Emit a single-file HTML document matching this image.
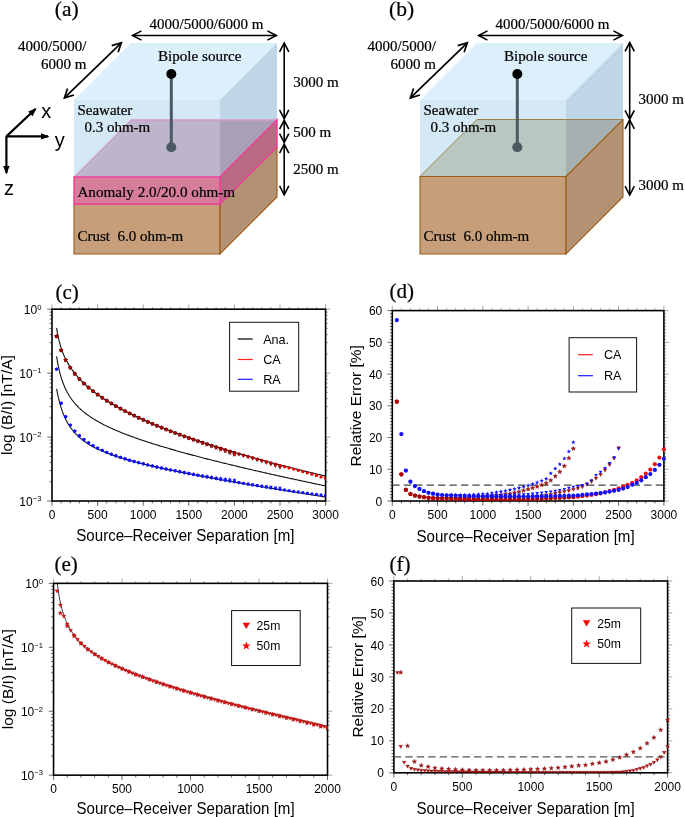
<!DOCTYPE html>
<html><head><meta charset="utf-8"><style>
html,body{margin:0;padding:0;background:#fff;}
svg{display:block;will-change:transform;} text.s{stroke:#000;stroke-width:0.22px;}
</style></head><body>
<svg width="685" height="817" viewBox="0 0 685 817">
<rect width="685" height="817" fill="#fff"/>
<polygon points="74.00,100.00 131.00,43.00 277.00,43.00 220.00,100.00" fill="#dcf0fb" stroke="none" stroke-width="0" />
<polygon points="74.00,100.00 220.00,100.00 220.00,176.90 74.00,176.90" fill="#d4e9f5" stroke="none" stroke-width="0" />
<polygon points="220.00,100.00 277.00,43.00 277.00,119.90 220.00,176.90" fill="#bed6e6" stroke="none" stroke-width="0" />
<polygon points="74.00,176.90 131.00,119.90 220.00,119.90 220.00,176.90" fill="#bdb5cb" stroke="none" stroke-width="0" />
<polygon points="220.00,119.90 277.00,119.90 220.00,176.90" fill="#a9a0b6" stroke="none" stroke-width="0" />
<line x1="131.00" y1="119.90" x2="277.00" y2="119.90" stroke="#de96cc" stroke-width="1.5" />
<line x1="74.00" y1="176.90" x2="131.00" y2="119.90" stroke="#e58ac0" stroke-width="1.0" />
<polygon points="74.00,204.00 220.00,204.00 220.00,254.00 74.00,254.00" fill="#c69e7a" stroke="#9c5c14" stroke-width="1.1" />
<polygon points="220.00,204.00 277.00,147.00 277.00,197.00 220.00,254.00" fill="#b39173" stroke="#9c5c14" stroke-width="1.1" />
<polygon points="74.00,176.90 220.00,176.90 220.00,204.00 74.00,204.00" fill="#d57d9a" stroke="#f0409a" stroke-width="1.5" />
<polygon points="220.00,176.90 277.00,119.90 277.00,147.00 220.00,204.00" fill="#b96b85" stroke="#f0409a" stroke-width="1.5" />
<line x1="171.30" y1="74.00" x2="171.30" y2="147.30" stroke="#4a5a62" stroke-width="3" />
<circle cx="171.30" cy="74" r="5" fill="#000"/>
<circle cx="171.30" cy="147.3" r="5" fill="#4a5a62"/>
<line x1="132.60" y1="35.50" x2="276.30" y2="35.50" stroke="#000" stroke-width="1.6" />
<polyline points="267.43,40.12 276.30,35.50 267.43,30.88" fill="none" stroke="#000" stroke-width="1.6" stroke-linejoin="miter"/>
<polyline points="141.47,30.88 132.60,35.50 141.47,40.12" fill="none" stroke="#000" stroke-width="1.6" stroke-linejoin="miter"/>
<line x1="64.40" y1="97.90" x2="121.30" y2="42.80" stroke="#000" stroke-width="1.7" />
<polyline points="118.14,52.29 121.30,42.80 111.72,45.65" fill="none" stroke="#000" stroke-width="1.7" stroke-linejoin="miter"/>
<polyline points="67.56,88.41 64.40,97.90 73.98,95.05" fill="none" stroke="#000" stroke-width="1.7" stroke-linejoin="miter"/>
<text class="s" x="54.80" y="15.50" font-family="Liberation Serif" font-size="21.5" text-anchor="start" >(a)</text>
<text class="s" x="206.50" y="29.00" font-family="Liberation Serif" font-size="15" text-anchor="middle" >4000/5000/6000 m</text>
<text class="s" x="86.40" y="50.50" font-family="Liberation Serif" font-size="15" text-anchor="end" >4000/5000/</text>
<text class="s" x="86.40" y="69.00" font-family="Liberation Serif" font-size="15" text-anchor="end" >6000 m</text>
<text class="s" x="158.00" y="61.00" font-family="Liberation Serif" font-size="15.1" text-anchor="start" >Bipole source</text>
<text class="s" x="77.40" y="115.00" font-family="Liberation Serif" font-size="15" text-anchor="start" >Seawater</text>
<text class="s" x="84.40" y="132.00" font-family="Liberation Serif" font-size="15" text-anchor="start" >0.3 ohm-m</text>
<text class="s" x="77.40" y="197.00" font-family="Liberation Serif" font-size="15.2" text-anchor="start" >Anomaly 2.0/20.0 ohm-m</text>
<text class="s" x="77.40" y="241.00" font-family="Liberation Serif" font-size="15" text-anchor="start" xml:space="preserve">Crust  6.0 ohm-m</text>
<polygon points="420.00,100.00 477.00,43.00 623.00,43.00 566.00,100.00" fill="#dcf0fb" stroke="none" stroke-width="0" />
<polygon points="420.00,100.00 566.00,100.00 566.00,176.50 420.00,176.50" fill="#d4e9f5" stroke="none" stroke-width="0" />
<polygon points="566.00,100.00 623.00,43.00 623.00,119.50 566.00,176.50" fill="#bed6e6" stroke="none" stroke-width="0" />
<polygon points="420.00,176.50 477.00,119.50 566.00,119.50 566.00,176.50" fill="#b9c7c1" stroke="none" stroke-width="0" />
<polygon points="566.00,119.50 623.00,119.50 566.00,176.50" fill="#a7b0b0" stroke="none" stroke-width="0" />
<line x1="477.00" y1="119.50" x2="623.00" y2="119.50" stroke="#a08050" stroke-width="1.0" />
<line x1="420.00" y1="176.50" x2="477.00" y2="119.50" stroke="#a08050" stroke-width="1.0" />
<polygon points="420.00,176.50 566.00,176.50 566.00,254.00 420.00,254.00" fill="#c69e7a" stroke="#9c5c14" stroke-width="1.1" />
<polygon points="566.00,176.50 623.00,119.50 623.00,197.00 566.00,254.00" fill="#b39173" stroke="#9c5c14" stroke-width="1.1" />
<line x1="517.30" y1="74.00" x2="517.30" y2="147.30" stroke="#4a5a62" stroke-width="3" />
<circle cx="517.30" cy="74" r="5" fill="#000"/>
<circle cx="517.30" cy="147.3" r="5" fill="#4a5a62"/>
<line x1="478.60" y1="35.50" x2="622.30" y2="35.50" stroke="#000" stroke-width="1.6" />
<polyline points="613.43,40.12 622.30,35.50 613.43,30.88" fill="none" stroke="#000" stroke-width="1.6" stroke-linejoin="miter"/>
<polyline points="487.47,30.88 478.60,35.50 487.47,40.12" fill="none" stroke="#000" stroke-width="1.6" stroke-linejoin="miter"/>
<line x1="410.40" y1="97.90" x2="467.30" y2="42.80" stroke="#000" stroke-width="1.7" />
<polyline points="464.14,52.29 467.30,42.80 457.72,45.65" fill="none" stroke="#000" stroke-width="1.7" stroke-linejoin="miter"/>
<polyline points="413.56,88.41 410.40,97.90 419.98,95.05" fill="none" stroke="#000" stroke-width="1.7" stroke-linejoin="miter"/>
<text class="s" x="389.00" y="15.50" font-family="Liberation Serif" font-size="21.5" text-anchor="start" >(b)</text>
<text class="s" x="552.50" y="29.00" font-family="Liberation Serif" font-size="15" text-anchor="middle" >4000/5000/6000 m</text>
<text class="s" x="435.89" y="50.50" font-family="Liberation Serif" font-size="15" text-anchor="end" >4000/5000/</text>
<text class="s" x="435.89" y="69.00" font-family="Liberation Serif" font-size="15" text-anchor="end" >6000 m</text>
<text class="s" x="504.00" y="61.00" font-family="Liberation Serif" font-size="15.1" text-anchor="start" >Bipole source</text>
<text class="s" x="423.40" y="115.00" font-family="Liberation Serif" font-size="15" text-anchor="start" >Seawater</text>
<text class="s" x="430.40" y="132.00" font-family="Liberation Serif" font-size="15" text-anchor="start" >0.3 ohm-m</text>
<text class="s" x="423.40" y="241.00" font-family="Liberation Serif" font-size="15" text-anchor="start" xml:space="preserve">Crust  6.0 ohm-m</text>
<line x1="284.20" y1="42.90" x2="284.20" y2="118.80" stroke="#000" stroke-width="1.6" />
<polyline points="279.58,109.93 284.20,118.80 288.82,109.93" fill="none" stroke="#000" stroke-width="1.6" stroke-linejoin="miter"/>
<polyline points="288.82,51.77 284.20,42.90 279.58,51.77" fill="none" stroke="#000" stroke-width="1.6" stroke-linejoin="miter"/>
<line x1="284.20" y1="120.30" x2="284.20" y2="142.40" stroke="#000" stroke-width="1.6" />
<polyline points="279.58,133.53 284.20,142.40 288.82,133.53" fill="none" stroke="#000" stroke-width="1.6" stroke-linejoin="miter"/>
<polyline points="288.82,129.17 284.20,120.30 279.58,129.17" fill="none" stroke="#000" stroke-width="1.6" stroke-linejoin="miter"/>
<line x1="284.20" y1="144.20" x2="284.20" y2="194.80" stroke="#000" stroke-width="1.6" />
<polyline points="279.58,185.93 284.20,194.80 288.82,185.93" fill="none" stroke="#000" stroke-width="1.6" stroke-linejoin="miter"/>
<polyline points="288.82,153.07 284.20,144.20 279.58,153.07" fill="none" stroke="#000" stroke-width="1.6" stroke-linejoin="miter"/>
<text class="s" x="293.30" y="87.00" font-family="Liberation Serif" font-size="15" text-anchor="start" >3000 m</text>
<text class="s" x="293.30" y="136.50" font-family="Liberation Serif" font-size="15" text-anchor="start" >500 m</text>
<text class="s" x="293.30" y="173.50" font-family="Liberation Serif" font-size="15" text-anchor="start" >2500 m</text>
<line x1="629.70" y1="42.60" x2="629.70" y2="119.20" stroke="#000" stroke-width="1.6" />
<polyline points="625.08,110.33 629.70,119.20 634.32,110.33" fill="none" stroke="#000" stroke-width="1.6" stroke-linejoin="miter"/>
<polyline points="634.32,51.47 629.70,42.60 625.08,51.47" fill="none" stroke="#000" stroke-width="1.6" stroke-linejoin="miter"/>
<line x1="629.70" y1="120.00" x2="629.70" y2="195.00" stroke="#000" stroke-width="1.6" />
<polyline points="625.08,186.13 629.70,195.00 634.32,186.13" fill="none" stroke="#000" stroke-width="1.6" stroke-linejoin="miter"/>
<polyline points="634.32,128.87 629.70,120.00 625.08,128.87" fill="none" stroke="#000" stroke-width="1.6" stroke-linejoin="miter"/>
<text class="s" x="638.60" y="104.30" font-family="Liberation Serif" font-size="15" text-anchor="start" >3000 m</text>
<text class="s" x="638.60" y="190.20" font-family="Liberation Serif" font-size="15" text-anchor="start" >3000 m</text>
<line x1="6.40" y1="136.40" x2="6.40" y2="137.00" stroke="#000" stroke-width="2.2" />
<line x1="6.40" y1="136.40" x2="35.50" y2="109.00" stroke="#000" stroke-width="2.2" />
<polygon points="36.59,107.97 32.60,116.13 28.21,111.47" fill="#000" stroke="none" stroke-width="0" />
<line x1="6.40" y1="136.40" x2="48.00" y2="136.40" stroke="#000" stroke-width="2.2" />
<polygon points="49.50,136.40 41.00,139.60 41.00,133.20" fill="#000" stroke="none" stroke-width="0" />
<line x1="6.40" y1="136.40" x2="6.40" y2="173.00" stroke="#000" stroke-width="2.2" />
<polygon points="6.40,174.50 3.20,166.00 9.60,166.00" fill="#000" stroke="none" stroke-width="0" />
<text x="46.30" y="118.20" font-family="Liberation Sans" font-size="20" text-anchor="middle" >x</text>
<text x="59.80" y="146.50" font-family="Liberation Sans" font-size="20" text-anchor="middle" >y</text>
<text x="9.00" y="195.00" font-family="Liberation Sans" font-size="20" text-anchor="middle" >z</text>
<line x1="52.00" y1="501.00" x2="52.00" y2="505.80" stroke="#333" stroke-width="0.75" />
<line x1="52.00" y1="309.20" x2="52.00" y2="304.40" stroke="#888" stroke-width="0.75" />
<line x1="61.12" y1="501.00" x2="61.12" y2="503.40" stroke="#333" stroke-width="0.75" />
<line x1="61.12" y1="309.20" x2="61.12" y2="306.80" stroke="#888" stroke-width="0.75" />
<line x1="70.24" y1="501.00" x2="70.24" y2="503.40" stroke="#333" stroke-width="0.75" />
<line x1="70.24" y1="309.20" x2="70.24" y2="306.80" stroke="#888" stroke-width="0.75" />
<line x1="79.36" y1="501.00" x2="79.36" y2="503.40" stroke="#333" stroke-width="0.75" />
<line x1="79.36" y1="309.20" x2="79.36" y2="306.80" stroke="#888" stroke-width="0.75" />
<line x1="88.48" y1="501.00" x2="88.48" y2="503.40" stroke="#333" stroke-width="0.75" />
<line x1="88.48" y1="309.20" x2="88.48" y2="306.80" stroke="#888" stroke-width="0.75" />
<line x1="97.60" y1="501.00" x2="97.60" y2="505.80" stroke="#333" stroke-width="0.75" />
<line x1="97.60" y1="309.20" x2="97.60" y2="304.40" stroke="#888" stroke-width="0.75" />
<line x1="106.72" y1="501.00" x2="106.72" y2="503.40" stroke="#333" stroke-width="0.75" />
<line x1="106.72" y1="309.20" x2="106.72" y2="306.80" stroke="#888" stroke-width="0.75" />
<line x1="115.84" y1="501.00" x2="115.84" y2="503.40" stroke="#333" stroke-width="0.75" />
<line x1="115.84" y1="309.20" x2="115.84" y2="306.80" stroke="#888" stroke-width="0.75" />
<line x1="124.96" y1="501.00" x2="124.96" y2="503.40" stroke="#333" stroke-width="0.75" />
<line x1="124.96" y1="309.20" x2="124.96" y2="306.80" stroke="#888" stroke-width="0.75" />
<line x1="134.08" y1="501.00" x2="134.08" y2="503.40" stroke="#333" stroke-width="0.75" />
<line x1="134.08" y1="309.20" x2="134.08" y2="306.80" stroke="#888" stroke-width="0.75" />
<line x1="143.20" y1="501.00" x2="143.20" y2="505.80" stroke="#333" stroke-width="0.75" />
<line x1="143.20" y1="309.20" x2="143.20" y2="304.40" stroke="#888" stroke-width="0.75" />
<line x1="152.32" y1="501.00" x2="152.32" y2="503.40" stroke="#333" stroke-width="0.75" />
<line x1="152.32" y1="309.20" x2="152.32" y2="306.80" stroke="#888" stroke-width="0.75" />
<line x1="161.44" y1="501.00" x2="161.44" y2="503.40" stroke="#333" stroke-width="0.75" />
<line x1="161.44" y1="309.20" x2="161.44" y2="306.80" stroke="#888" stroke-width="0.75" />
<line x1="170.56" y1="501.00" x2="170.56" y2="503.40" stroke="#333" stroke-width="0.75" />
<line x1="170.56" y1="309.20" x2="170.56" y2="306.80" stroke="#888" stroke-width="0.75" />
<line x1="179.68" y1="501.00" x2="179.68" y2="503.40" stroke="#333" stroke-width="0.75" />
<line x1="179.68" y1="309.20" x2="179.68" y2="306.80" stroke="#888" stroke-width="0.75" />
<line x1="188.80" y1="501.00" x2="188.80" y2="505.80" stroke="#333" stroke-width="0.75" />
<line x1="188.80" y1="309.20" x2="188.80" y2="304.40" stroke="#888" stroke-width="0.75" />
<line x1="197.92" y1="501.00" x2="197.92" y2="503.40" stroke="#333" stroke-width="0.75" />
<line x1="197.92" y1="309.20" x2="197.92" y2="306.80" stroke="#888" stroke-width="0.75" />
<line x1="207.04" y1="501.00" x2="207.04" y2="503.40" stroke="#333" stroke-width="0.75" />
<line x1="207.04" y1="309.20" x2="207.04" y2="306.80" stroke="#888" stroke-width="0.75" />
<line x1="216.16" y1="501.00" x2="216.16" y2="503.40" stroke="#333" stroke-width="0.75" />
<line x1="216.16" y1="309.20" x2="216.16" y2="306.80" stroke="#888" stroke-width="0.75" />
<line x1="225.28" y1="501.00" x2="225.28" y2="503.40" stroke="#333" stroke-width="0.75" />
<line x1="225.28" y1="309.20" x2="225.28" y2="306.80" stroke="#888" stroke-width="0.75" />
<line x1="234.40" y1="501.00" x2="234.40" y2="505.80" stroke="#333" stroke-width="0.75" />
<line x1="234.40" y1="309.20" x2="234.40" y2="304.40" stroke="#888" stroke-width="0.75" />
<line x1="243.52" y1="501.00" x2="243.52" y2="503.40" stroke="#333" stroke-width="0.75" />
<line x1="243.52" y1="309.20" x2="243.52" y2="306.80" stroke="#888" stroke-width="0.75" />
<line x1="252.64" y1="501.00" x2="252.64" y2="503.40" stroke="#333" stroke-width="0.75" />
<line x1="252.64" y1="309.20" x2="252.64" y2="306.80" stroke="#888" stroke-width="0.75" />
<line x1="261.76" y1="501.00" x2="261.76" y2="503.40" stroke="#333" stroke-width="0.75" />
<line x1="261.76" y1="309.20" x2="261.76" y2="306.80" stroke="#888" stroke-width="0.75" />
<line x1="270.88" y1="501.00" x2="270.88" y2="503.40" stroke="#333" stroke-width="0.75" />
<line x1="270.88" y1="309.20" x2="270.88" y2="306.80" stroke="#888" stroke-width="0.75" />
<line x1="280.00" y1="501.00" x2="280.00" y2="505.80" stroke="#333" stroke-width="0.75" />
<line x1="280.00" y1="309.20" x2="280.00" y2="304.40" stroke="#888" stroke-width="0.75" />
<line x1="289.12" y1="501.00" x2="289.12" y2="503.40" stroke="#333" stroke-width="0.75" />
<line x1="289.12" y1="309.20" x2="289.12" y2="306.80" stroke="#888" stroke-width="0.75" />
<line x1="298.24" y1="501.00" x2="298.24" y2="503.40" stroke="#333" stroke-width="0.75" />
<line x1="298.24" y1="309.20" x2="298.24" y2="306.80" stroke="#888" stroke-width="0.75" />
<line x1="307.36" y1="501.00" x2="307.36" y2="503.40" stroke="#333" stroke-width="0.75" />
<line x1="307.36" y1="309.20" x2="307.36" y2="306.80" stroke="#888" stroke-width="0.75" />
<line x1="316.48" y1="501.00" x2="316.48" y2="503.40" stroke="#333" stroke-width="0.75" />
<line x1="316.48" y1="309.20" x2="316.48" y2="306.80" stroke="#888" stroke-width="0.75" />
<line x1="325.60" y1="501.00" x2="325.60" y2="505.80" stroke="#333" stroke-width="0.75" />
<line x1="325.60" y1="309.20" x2="325.60" y2="304.40" stroke="#888" stroke-width="0.75" />
<line x1="52.00" y1="309.20" x2="47.20" y2="309.20" stroke="#333" stroke-width="0.75" />
<line x1="325.60" y1="309.20" x2="330.40" y2="309.20" stroke="#888" stroke-width="0.75" />
<line x1="52.00" y1="373.13" x2="47.20" y2="373.13" stroke="#333" stroke-width="0.75" />
<line x1="325.60" y1="373.13" x2="330.40" y2="373.13" stroke="#888" stroke-width="0.75" />
<line x1="52.00" y1="437.07" x2="47.20" y2="437.07" stroke="#333" stroke-width="0.75" />
<line x1="325.60" y1="437.07" x2="330.40" y2="437.07" stroke="#888" stroke-width="0.75" />
<line x1="52.00" y1="501.00" x2="47.20" y2="501.00" stroke="#333" stroke-width="0.75" />
<line x1="325.60" y1="501.00" x2="330.40" y2="501.00" stroke="#888" stroke-width="0.75" />
<line x1="52.00" y1="353.89" x2="49.60" y2="353.89" stroke="#333" stroke-width="0.75" />
<line x1="325.60" y1="353.89" x2="328.00" y2="353.89" stroke="#888" stroke-width="0.75" />
<line x1="52.00" y1="342.63" x2="49.60" y2="342.63" stroke="#333" stroke-width="0.75" />
<line x1="325.60" y1="342.63" x2="328.00" y2="342.63" stroke="#888" stroke-width="0.75" />
<line x1="52.00" y1="334.64" x2="49.60" y2="334.64" stroke="#333" stroke-width="0.75" />
<line x1="325.60" y1="334.64" x2="328.00" y2="334.64" stroke="#888" stroke-width="0.75" />
<line x1="52.00" y1="328.45" x2="49.60" y2="328.45" stroke="#333" stroke-width="0.75" />
<line x1="325.60" y1="328.45" x2="328.00" y2="328.45" stroke="#888" stroke-width="0.75" />
<line x1="52.00" y1="323.38" x2="49.60" y2="323.38" stroke="#333" stroke-width="0.75" />
<line x1="325.60" y1="323.38" x2="328.00" y2="323.38" stroke="#888" stroke-width="0.75" />
<line x1="52.00" y1="319.10" x2="49.60" y2="319.10" stroke="#333" stroke-width="0.75" />
<line x1="325.60" y1="319.10" x2="328.00" y2="319.10" stroke="#888" stroke-width="0.75" />
<line x1="52.00" y1="315.40" x2="49.60" y2="315.40" stroke="#333" stroke-width="0.75" />
<line x1="325.60" y1="315.40" x2="328.00" y2="315.40" stroke="#888" stroke-width="0.75" />
<line x1="52.00" y1="312.13" x2="49.60" y2="312.13" stroke="#333" stroke-width="0.75" />
<line x1="325.60" y1="312.13" x2="328.00" y2="312.13" stroke="#888" stroke-width="0.75" />
<line x1="52.00" y1="417.82" x2="49.60" y2="417.82" stroke="#333" stroke-width="0.75" />
<line x1="325.60" y1="417.82" x2="328.00" y2="417.82" stroke="#888" stroke-width="0.75" />
<line x1="52.00" y1="406.56" x2="49.60" y2="406.56" stroke="#333" stroke-width="0.75" />
<line x1="325.60" y1="406.56" x2="328.00" y2="406.56" stroke="#888" stroke-width="0.75" />
<line x1="52.00" y1="398.57" x2="49.60" y2="398.57" stroke="#333" stroke-width="0.75" />
<line x1="325.60" y1="398.57" x2="328.00" y2="398.57" stroke="#888" stroke-width="0.75" />
<line x1="52.00" y1="392.38" x2="49.60" y2="392.38" stroke="#333" stroke-width="0.75" />
<line x1="325.60" y1="392.38" x2="328.00" y2="392.38" stroke="#888" stroke-width="0.75" />
<line x1="52.00" y1="387.32" x2="49.60" y2="387.32" stroke="#333" stroke-width="0.75" />
<line x1="325.60" y1="387.32" x2="328.00" y2="387.32" stroke="#888" stroke-width="0.75" />
<line x1="52.00" y1="383.04" x2="49.60" y2="383.04" stroke="#333" stroke-width="0.75" />
<line x1="325.60" y1="383.04" x2="328.00" y2="383.04" stroke="#888" stroke-width="0.75" />
<line x1="52.00" y1="379.33" x2="49.60" y2="379.33" stroke="#333" stroke-width="0.75" />
<line x1="325.60" y1="379.33" x2="328.00" y2="379.33" stroke="#888" stroke-width="0.75" />
<line x1="52.00" y1="376.06" x2="49.60" y2="376.06" stroke="#333" stroke-width="0.75" />
<line x1="325.60" y1="376.06" x2="328.00" y2="376.06" stroke="#888" stroke-width="0.75" />
<line x1="52.00" y1="481.75" x2="49.60" y2="481.75" stroke="#333" stroke-width="0.75" />
<line x1="325.60" y1="481.75" x2="328.00" y2="481.75" stroke="#888" stroke-width="0.75" />
<line x1="52.00" y1="470.50" x2="49.60" y2="470.50" stroke="#333" stroke-width="0.75" />
<line x1="325.60" y1="470.50" x2="328.00" y2="470.50" stroke="#888" stroke-width="0.75" />
<line x1="52.00" y1="462.51" x2="49.60" y2="462.51" stroke="#333" stroke-width="0.75" />
<line x1="325.60" y1="462.51" x2="328.00" y2="462.51" stroke="#888" stroke-width="0.75" />
<line x1="52.00" y1="456.31" x2="49.60" y2="456.31" stroke="#333" stroke-width="0.75" />
<line x1="325.60" y1="456.31" x2="328.00" y2="456.31" stroke="#888" stroke-width="0.75" />
<line x1="52.00" y1="451.25" x2="49.60" y2="451.25" stroke="#333" stroke-width="0.75" />
<line x1="325.60" y1="451.25" x2="328.00" y2="451.25" stroke="#888" stroke-width="0.75" />
<line x1="52.00" y1="446.97" x2="49.60" y2="446.97" stroke="#333" stroke-width="0.75" />
<line x1="325.60" y1="446.97" x2="328.00" y2="446.97" stroke="#888" stroke-width="0.75" />
<line x1="52.00" y1="443.26" x2="49.60" y2="443.26" stroke="#333" stroke-width="0.75" />
<line x1="325.60" y1="443.26" x2="328.00" y2="443.26" stroke="#888" stroke-width="0.75" />
<line x1="52.00" y1="439.99" x2="49.60" y2="439.99" stroke="#333" stroke-width="0.75" />
<line x1="325.60" y1="439.99" x2="328.00" y2="439.99" stroke="#888" stroke-width="0.75" />
<rect x="52.00" y="309.20" width="273.60" height="191.80" fill="none" stroke="#000" stroke-width="1.6"/>
<text x="52.00" y="518.80" font-family="Liberation Sans" font-size="12" text-anchor="middle" >0</text>
<text x="97.60" y="518.80" font-family="Liberation Sans" font-size="12" text-anchor="middle" >500</text>
<text x="143.20" y="518.80" font-family="Liberation Sans" font-size="12" text-anchor="middle" >1000</text>
<text x="188.80" y="518.80" font-family="Liberation Sans" font-size="12" text-anchor="middle" >1500</text>
<text x="234.40" y="518.80" font-family="Liberation Sans" font-size="12" text-anchor="middle" >2000</text>
<text x="280.00" y="518.80" font-family="Liberation Sans" font-size="12" text-anchor="middle" >2500</text>
<text x="325.60" y="518.80" font-family="Liberation Sans" font-size="12" text-anchor="middle" >3000</text>
<text x="41.40" y="313.80" font-family="Liberation Sans" font-size="12" text-anchor="end">10<tspan font-size="7.6" dy="-4.3">0</tspan></text>
<text x="41.40" y="377.73" font-family="Liberation Sans" font-size="12" text-anchor="end">10<tspan font-size="7.6" dy="-4.3">−1</tspan></text>
<text x="41.40" y="441.67" font-family="Liberation Sans" font-size="12" text-anchor="end">10<tspan font-size="7.6" dy="-4.3">−2</tspan></text>
<text x="41.40" y="505.60" font-family="Liberation Sans" font-size="12" text-anchor="end">10<tspan font-size="7.6" dy="-4.3">−3</tspan></text>
<text font-family="Liberation Sans" font-size="15.6" transform="translate(76.30,541.40) scale(0.968,1)">Source–Receiver Separation [m]</text>
<text x="0" y="0" font-family="Liberation Sans" font-size="15.5" text-anchor="middle" transform="translate(11.80,405.10) rotate(-90)">log (B/I) [nT/A]</text>
<text class="s" x="55.50" y="298.50" font-family="Liberation Serif" font-size="21" text-anchor="start" >(c)</text>
<clipPath id="cc"><rect x="52.0" y="309.2" width="273.6" height="191.8"/></clipPath>
<g clip-path="url(#cc)">
<polyline points="56.56,327.79 57.46,333.19 58.36,337.65 59.26,341.45 60.16,344.76 61.06,347.70 61.96,350.33 62.86,352.73 63.76,354.93 64.66,356.96 65.56,358.85 66.46,360.62 67.36,362.29 68.26,363.86 69.16,365.36 70.06,366.78 70.96,368.14 71.86,369.44 72.76,370.69 73.66,371.89 74.56,373.04 75.46,374.16 76.36,375.24 77.26,376.29 78.16,377.31 79.05,378.29 79.95,379.25 80.85,380.19 81.75,381.10 82.65,381.98 83.55,382.85 84.45,383.70 85.35,384.53 86.25,385.34 87.15,386.14 88.05,386.92 88.95,387.68 89.85,388.43 90.75,389.17 91.65,389.89 92.55,390.61 93.45,391.31 94.35,391.99 95.25,392.67 96.15,393.34 97.05,394.00 97.95,394.65 98.85,395.29 99.75,395.92 100.65,396.54 101.55,397.15 102.45,397.76 103.35,398.35 104.25,398.94 105.15,399.53 106.05,400.10 106.95,400.67 107.85,401.24 108.75,401.79 109.65,402.34 110.55,402.89 111.45,403.43 112.35,403.96 113.25,404.49 114.15,405.01 115.05,405.53 115.95,406.04 116.85,406.55 117.75,407.06 118.65,407.55 119.55,408.05 120.45,408.54 121.35,409.02 122.25,409.50 123.15,409.98 124.04,410.45 124.94,410.92 125.84,411.39 126.74,411.85 127.64,412.31 128.54,412.76 129.44,413.22 130.34,413.66 131.24,414.11 132.14,414.55 133.04,414.99 133.94,415.42 134.84,415.85 135.74,416.28 136.64,416.71 137.54,417.13 138.44,417.55 139.34,417.97 140.24,418.38 141.14,418.80 142.04,419.20 142.94,419.61 143.84,420.02 144.74,420.42 145.64,420.82 146.54,421.21 147.44,421.61 148.34,422.00 149.24,422.39 150.14,422.78 151.04,423.16 151.94,423.54 152.84,423.93 153.74,424.30 154.64,424.68 155.54,425.06 156.44,425.43 157.34,425.80 158.24,426.17 159.14,426.53 160.04,426.90 160.94,427.26 161.84,427.62 162.74,427.98 163.64,428.34 164.54,428.70 165.44,429.05 166.34,429.40 167.24,429.75 168.14,430.10 169.03,430.45 169.93,430.79 170.83,431.14 171.73,431.48 172.63,431.82 173.53,432.16 174.43,432.50 175.33,432.84 176.23,433.17 177.13,433.50 178.03,433.84 178.93,434.17 179.83,434.49 180.73,434.82 181.63,435.15 182.53,435.47 183.43,435.80 184.33,436.12 185.23,436.44 186.13,436.76 187.03,437.08 187.93,437.39 188.83,437.71 189.73,438.02 190.63,438.34 191.53,438.65 192.43,438.96 193.33,439.27 194.23,439.58 195.13,439.89 196.03,440.19 196.93,440.50 197.83,440.80 198.73,441.10 199.63,441.41 200.53,441.71 201.43,442.00 202.33,442.30 203.23,442.60 204.13,442.90 205.03,443.19 205.93,443.49 206.83,443.78 207.73,444.07 208.63,444.36 209.53,444.65 210.43,444.94 211.33,445.23 212.23,445.52 213.13,445.80 214.02,446.09 214.92,446.37 215.82,446.66 216.72,446.94 217.62,447.22 218.52,447.50 219.42,447.78 220.32,448.06 221.22,448.34 222.12,448.61 223.02,448.89 223.92,449.17 224.82,449.44 225.72,449.71 226.62,449.99 227.52,450.26 228.42,450.53 229.32,450.80 230.22,451.07 231.12,451.34 232.02,451.61 232.92,451.87 233.82,452.14 234.72,452.41 235.62,452.67 236.52,452.93 237.42,453.20 238.32,453.46 239.22,453.72 240.12,453.98 241.02,454.24 241.92,454.50 242.82,454.76 243.72,455.02 244.62,455.28 245.52,455.53 246.42,455.79 247.32,456.05 248.22,456.30 249.12,456.55 250.02,456.81 250.92,457.06 251.82,457.31 252.72,457.56 253.62,457.81 254.52,458.06 255.42,458.31 256.32,458.56 257.22,458.81 258.12,459.06 259.01,459.30 259.91,459.55 260.81,459.80 261.71,460.04 262.61,460.29 263.51,460.53 264.41,460.77 265.31,461.01 266.21,461.26 267.11,461.50 268.01,461.74 268.91,461.98 269.81,462.22 270.71,462.46 271.61,462.69 272.51,462.93 273.41,463.17 274.31,463.41 275.21,463.64 276.11,463.88 277.01,464.11 277.91,464.35 278.81,464.58 279.71,464.81 280.61,465.05 281.51,465.28 282.41,465.51 283.31,465.74 284.21,465.97 285.11,466.20 286.01,466.43 286.91,466.66 287.81,466.89 288.71,467.12 289.61,467.35 290.51,467.57 291.41,467.80 292.31,468.03 293.21,468.25 294.11,468.48 295.01,468.70 295.91,468.93 296.81,469.15 297.71,469.37 298.61,469.60 299.51,469.82 300.41,470.04 301.31,470.26 302.21,470.48 303.11,470.70 304.00,470.92 304.90,471.14 305.80,471.36 306.70,471.58 307.60,471.80 308.50,472.02 309.40,472.23 310.30,472.45 311.20,472.67 312.10,472.88 313.00,473.10 313.90,473.31 314.80,473.53 315.70,473.74 316.60,473.95 317.50,474.17 318.40,474.38 319.30,474.59 320.20,474.81 321.10,475.02 322.00,475.23 322.90,475.44 323.80,475.65 324.70,475.86 325.60,476.07" fill="none" stroke="#111" stroke-width="1.1" />
<polyline points="56.56,356.31 57.46,361.72 58.36,366.35 59.26,370.37 60.16,373.91 61.06,377.05 61.96,379.88 62.86,382.44 63.76,384.78 64.66,386.92 65.56,388.90 66.46,390.73 67.36,392.44 68.26,394.04 69.16,395.54 70.06,396.96 70.96,398.29 71.86,399.56 72.76,400.76 73.66,401.91 74.56,403.00 75.46,404.04 76.36,405.04 77.26,406.00 78.16,406.93 79.05,407.82 79.95,408.67 80.85,409.50 81.75,410.30 82.65,411.08 83.55,411.83 84.45,412.56 85.35,413.27 86.25,413.96 87.15,414.63 88.05,415.28 88.95,415.92 89.85,416.54 90.75,417.15 91.65,417.74 92.55,418.32 93.45,418.89 94.35,419.44 95.25,419.99 96.15,420.52 97.05,421.05 97.95,421.56 98.85,422.07 99.75,422.56 100.65,423.05 101.55,423.53 102.45,424.00 103.35,424.47 104.25,424.92 105.15,425.37 106.05,425.82 106.95,426.26 107.85,426.69 108.75,427.12 109.65,427.54 110.55,427.95 111.45,428.36 112.35,428.77 113.25,429.17 114.15,429.56 115.05,429.95 115.95,430.34 116.85,430.72 117.75,431.10 118.65,431.48 119.55,431.85 120.45,432.22 121.35,432.58 122.25,432.94 123.15,433.30 124.04,433.65 124.94,434.00 125.84,434.35 126.74,434.69 127.64,435.04 128.54,435.37 129.44,435.71 130.34,436.04 131.24,436.37 132.14,436.70 133.04,437.03 133.94,437.35 134.84,437.67 135.74,437.99 136.64,438.31 137.54,438.62 138.44,438.94 139.34,439.25 140.24,439.56 141.14,439.86 142.04,440.17 142.94,440.47 143.84,440.77 144.74,441.07 145.64,441.37 146.54,441.66 147.44,441.96 148.34,442.25 149.24,442.54 150.14,442.83 151.04,443.12 151.94,443.40 152.84,443.69 153.74,443.97 154.64,444.25 155.54,444.53 156.44,444.81 157.34,445.09 158.24,445.37 159.14,445.64 160.04,445.92 160.94,446.19 161.84,446.46 162.74,446.73 163.64,447.00 164.54,447.27 165.44,447.53 166.34,447.80 167.24,448.07 168.14,448.33 169.03,448.59 169.93,448.85 170.83,449.11 171.73,449.37 172.63,449.63 173.53,449.89 174.43,450.15 175.33,450.40 176.23,450.66 177.13,450.91 178.03,451.17 178.93,451.42 179.83,451.67 180.73,451.92 181.63,452.17 182.53,452.42 183.43,452.67 184.33,452.91 185.23,453.16 186.13,453.41 187.03,453.65 187.93,453.90 188.83,454.14 189.73,454.38 190.63,454.62 191.53,454.87 192.43,455.11 193.33,455.35 194.23,455.59 195.13,455.82 196.03,456.06 196.93,456.30 197.83,456.54 198.73,456.77 199.63,457.01 200.53,457.24 201.43,457.48 202.33,457.71 203.23,457.94 204.13,458.18 205.03,458.41 205.93,458.64 206.83,458.87 207.73,459.10 208.63,459.33 209.53,459.56 210.43,459.79 211.33,460.01 212.23,460.24 213.13,460.47 214.02,460.69 214.92,460.92 215.82,461.15 216.72,461.37 217.62,461.59 218.52,461.82 219.42,462.04 220.32,462.26 221.22,462.49 222.12,462.71 223.02,462.93 223.92,463.15 224.82,463.37 225.72,463.59 226.62,463.81 227.52,464.03 228.42,464.25 229.32,464.47 230.22,464.69 231.12,464.90 232.02,465.12 232.92,465.34 233.82,465.55 234.72,465.77 235.62,465.98 236.52,466.20 237.42,466.41 238.32,466.63 239.22,466.84 240.12,467.05 241.02,467.27 241.92,467.48 242.82,467.69 243.72,467.90 244.62,468.11 245.52,468.33 246.42,468.54 247.32,468.75 248.22,468.96 249.12,469.17 250.02,469.38 250.92,469.58 251.82,469.79 252.72,470.00 253.62,470.21 254.52,470.42 255.42,470.62 256.32,470.83 257.22,471.04 258.12,471.24 259.01,471.45 259.91,471.66 260.81,471.86 261.71,472.07 262.61,472.27 263.51,472.47 264.41,472.68 265.31,472.88 266.21,473.09 267.11,473.29 268.01,473.49 268.91,473.69 269.81,473.90 270.71,474.10 271.61,474.30 272.51,474.50 273.41,474.70 274.31,474.90 275.21,475.10 276.11,475.30 277.01,475.50 277.91,475.70 278.81,475.90 279.71,476.10 280.61,476.30 281.51,476.50 282.41,476.70 283.31,476.89 284.21,477.09 285.11,477.29 286.01,477.49 286.91,477.68 287.81,477.88 288.71,478.07 289.61,478.27 290.51,478.47 291.41,478.66 292.31,478.86 293.21,479.05 294.11,479.25 295.01,479.44 295.91,479.64 296.81,479.83 297.71,480.02 298.61,480.22 299.51,480.41 300.41,480.60 301.31,480.80 302.21,480.99 303.11,481.18 304.00,481.37 304.90,481.57 305.80,481.76 306.70,481.95 307.60,482.14 308.50,482.33 309.40,482.52 310.30,482.71 311.20,482.90 312.10,483.09 313.00,483.28 313.90,483.47 314.80,483.66 315.70,483.85 316.60,484.04 317.50,484.23 318.40,484.42 319.30,484.61 320.20,484.79 321.10,484.98 322.00,485.17 322.90,485.36 323.80,485.54 324.70,485.73 325.60,485.92" fill="none" stroke="#111" stroke-width="1.1" />
<polyline points="56.56,388.75 57.46,393.33 58.36,397.45 59.26,401.14 60.16,404.46 61.06,407.45 61.96,410.17 62.86,412.65 63.76,414.92 64.66,417.01 65.56,418.93 66.46,420.72 67.36,422.39 68.26,423.95 69.16,425.40 70.06,426.77 70.96,428.06 71.86,429.28 72.76,430.43 73.66,431.52 74.56,432.56 75.46,433.55 76.36,434.49 77.26,435.39 78.16,436.25 79.05,437.08 79.95,437.87 80.85,438.63 81.75,439.36 82.65,440.07 83.55,440.75 84.45,441.41 85.35,442.04 86.25,442.65 87.15,443.25 88.05,443.82 88.95,444.38 89.85,444.93 90.75,445.45 91.65,445.97 92.55,446.47 93.45,446.95 94.35,447.43 95.25,447.89 96.15,448.34 97.05,448.78 97.95,449.21 98.85,449.63 99.75,450.04 100.65,450.45 101.55,450.84 102.45,451.23 103.35,451.61 104.25,451.98 105.15,452.35 106.05,452.70 106.95,453.06 107.85,453.40 108.75,453.74 109.65,454.08 110.55,454.41 111.45,454.73 112.35,455.05 113.25,455.37 114.15,455.68 115.05,455.98 115.95,456.28 116.85,456.58 117.75,456.87 118.65,457.16 119.55,457.45 120.45,457.73 121.35,458.01 122.25,458.29 123.15,458.56 124.04,458.83 124.94,459.09 125.84,459.36 126.74,459.62 127.64,459.87 128.54,460.13 129.44,460.38 130.34,460.63 131.24,460.88 132.14,461.12 133.04,461.37 133.94,461.61 134.84,461.85 135.74,462.08 136.64,462.32 137.54,462.55 138.44,462.78 139.34,463.01 140.24,463.24 141.14,463.46 142.04,463.69 142.94,463.91 143.84,464.13 144.74,464.35 145.64,464.57 146.54,464.78 147.44,465.00 148.34,465.21 149.24,465.42 150.14,465.63 151.04,465.84 151.94,466.05 152.84,466.25 153.74,466.46 154.64,466.66 155.54,466.87 156.44,467.07 157.34,467.27 158.24,467.47 159.14,467.67 160.04,467.87 160.94,468.06 161.84,468.26 162.74,468.45 163.64,468.65 164.54,468.84 165.44,469.03 166.34,469.22 167.24,469.41 168.14,469.60 169.03,469.79 169.93,469.98 170.83,470.17 171.73,470.35 172.63,470.54 173.53,470.72 174.43,470.91 175.33,471.09 176.23,471.27 177.13,471.46 178.03,471.64 178.93,471.82 179.83,472.00 180.73,472.18 181.63,472.36 182.53,472.53 183.43,472.71 184.33,472.89 185.23,473.07 186.13,473.24 187.03,473.42 187.93,473.59 188.83,473.77 189.73,473.94 190.63,474.11 191.53,474.29 192.43,474.46 193.33,474.63 194.23,474.80 195.13,474.97 196.03,475.14 196.93,475.31 197.83,475.48 198.73,475.65 199.63,475.82 200.53,475.99 201.43,476.16 202.33,476.32 203.23,476.49 204.13,476.66 205.03,476.82 205.93,476.99 206.83,477.16 207.73,477.32 208.63,477.49 209.53,477.65 210.43,477.82 211.33,477.98 212.23,478.14 213.13,478.31 214.02,478.47 214.92,478.63 215.82,478.79 216.72,478.95 217.62,479.12 218.52,479.28 219.42,479.44 220.32,479.60 221.22,479.76 222.12,479.92 223.02,480.08 223.92,480.24 224.82,480.40 225.72,480.56 226.62,480.71 227.52,480.87 228.42,481.03 229.32,481.19 230.22,481.35 231.12,481.50 232.02,481.66 232.92,481.82 233.82,481.97 234.72,482.13 235.62,482.29 236.52,482.44 237.42,482.60 238.32,482.75 239.22,482.91 240.12,483.06 241.02,483.22 241.92,483.37 242.82,483.53 243.72,483.68 244.62,483.83 245.52,483.99 246.42,484.14 247.32,484.30 248.22,484.45 249.12,484.60 250.02,484.75 250.92,484.91 251.82,485.06 252.72,485.21 253.62,485.36 254.52,485.51 255.42,485.67 256.32,485.82 257.22,485.97 258.12,486.12 259.01,486.27 259.91,486.42 260.81,486.57 261.71,486.72 262.61,486.87 263.51,487.02 264.41,487.17 265.31,487.32 266.21,487.47 267.11,487.62 268.01,487.77 268.91,487.92 269.81,488.07 270.71,488.22 271.61,488.36 272.51,488.51 273.41,488.66 274.31,488.81 275.21,488.96 276.11,489.10 277.01,489.25 277.91,489.40 278.81,489.55 279.71,489.69 280.61,489.84 281.51,489.99 282.41,490.13 283.31,490.28 284.21,490.43 285.11,490.57 286.01,490.72 286.91,490.87 287.81,491.01 288.71,491.16 289.61,491.30 290.51,491.45 291.41,491.60 292.31,491.74 293.21,491.89 294.11,492.03 295.01,492.18 295.91,492.32 296.81,492.47 297.71,492.61 298.61,492.75 299.51,492.90 300.41,493.04 301.31,493.19 302.21,493.33 303.11,493.48 304.00,493.62 304.90,493.76 305.80,493.91 306.70,494.05 307.60,494.19 308.50,494.34 309.40,494.48 310.30,494.62 311.20,494.77 312.10,494.91 313.00,495.05 313.90,495.19 314.80,495.34 315.70,495.48 316.60,495.62 317.50,495.76 318.40,495.91 319.30,496.05 320.20,496.19 321.10,496.33 322.00,496.47 322.90,496.61 323.80,496.76 324.70,496.90 325.60,497.04" fill="none" stroke="#111" stroke-width="1.1" />
<circle cx="56.56" cy="336.31" r="1.68" fill="#e00000"/>
<circle cx="56.56" cy="369.11" r="1.68" fill="#1010ff"/>
<circle cx="61.12" cy="350.32" r="1.68" fill="#e00000"/>
<circle cx="61.12" cy="403.17" r="1.68" fill="#1010ff"/>
<circle cx="65.68" cy="360.09" r="1.68" fill="#e00000"/>
<circle cx="65.68" cy="416.63" r="1.68" fill="#1010ff"/>
<circle cx="70.24" cy="367.68" r="1.68" fill="#e00000"/>
<circle cx="70.24" cy="425.12" r="1.68" fill="#1010ff"/>
<circle cx="74.80" cy="373.83" r="1.68" fill="#e00000"/>
<circle cx="74.80" cy="431.08" r="1.68" fill="#1010ff"/>
<circle cx="79.36" cy="379.01" r="1.68" fill="#e00000"/>
<circle cx="79.36" cy="435.75" r="1.68" fill="#1010ff"/>
<circle cx="83.92" cy="383.54" r="1.68" fill="#e00000"/>
<circle cx="83.92" cy="439.58" r="1.68" fill="#1010ff"/>
<circle cx="88.48" cy="387.56" r="1.68" fill="#e00000"/>
<circle cx="88.48" cy="442.81" r="1.68" fill="#1010ff"/>
<circle cx="93.04" cy="391.24" r="1.68" fill="#e00000"/>
<circle cx="93.04" cy="445.61" r="1.68" fill="#1010ff"/>
<circle cx="97.60" cy="394.62" r="1.68" fill="#e00000"/>
<circle cx="97.60" cy="448.08" r="1.68" fill="#1010ff"/>
<circle cx="102.16" cy="397.77" r="1.68" fill="#e00000"/>
<circle cx="102.16" cy="450.31" r="1.68" fill="#1010ff"/>
<circle cx="106.72" cy="400.72" r="1.68" fill="#e00000"/>
<circle cx="106.72" cy="452.33" r="1.68" fill="#1010ff"/>
<circle cx="111.28" cy="403.41" r="1.68" fill="#e00000"/>
<circle cx="111.28" cy="454.11" r="1.68" fill="#1010ff"/>
<circle cx="115.84" cy="406.06" r="1.68" fill="#e00000"/>
<circle cx="115.84" cy="455.77" r="1.68" fill="#1010ff"/>
<circle cx="120.40" cy="408.59" r="1.68" fill="#e00000"/>
<circle cx="120.40" cy="457.32" r="1.68" fill="#1010ff"/>
<circle cx="124.96" cy="411.00" r="1.68" fill="#e00000"/>
<circle cx="124.96" cy="458.78" r="1.68" fill="#1010ff"/>
<circle cx="129.52" cy="413.32" r="1.68" fill="#e00000"/>
<circle cx="129.52" cy="460.16" r="1.68" fill="#1010ff"/>
<circle cx="134.08" cy="415.55" r="1.68" fill="#e00000"/>
<circle cx="134.08" cy="461.45" r="1.68" fill="#1010ff"/>
<circle cx="138.64" cy="417.71" r="1.68" fill="#e00000"/>
<circle cx="138.64" cy="462.64" r="1.68" fill="#1010ff"/>
<circle cx="143.20" cy="419.79" r="1.68" fill="#e00000"/>
<circle cx="143.20" cy="463.79" r="1.68" fill="#1010ff"/>
<circle cx="147.76" cy="421.81" r="1.68" fill="#e00000"/>
<circle cx="147.76" cy="464.89" r="1.68" fill="#1010ff"/>
<circle cx="152.32" cy="423.77" r="1.68" fill="#e00000"/>
<circle cx="152.32" cy="465.95" r="1.68" fill="#1010ff"/>
<circle cx="156.88" cy="425.68" r="1.68" fill="#e00000"/>
<circle cx="156.88" cy="466.99" r="1.68" fill="#1010ff"/>
<circle cx="161.44" cy="427.53" r="1.68" fill="#e00000"/>
<circle cx="161.44" cy="467.99" r="1.68" fill="#1010ff"/>
<circle cx="166.00" cy="429.34" r="1.68" fill="#e00000"/>
<circle cx="166.00" cy="468.97" r="1.68" fill="#1010ff"/>
<circle cx="170.56" cy="431.10" r="1.68" fill="#e00000"/>
<circle cx="170.56" cy="469.93" r="1.68" fill="#1010ff"/>
<circle cx="175.12" cy="432.83" r="1.68" fill="#e00000"/>
<circle cx="175.12" cy="470.87" r="1.68" fill="#1010ff"/>
<circle cx="179.68" cy="434.51" r="1.68" fill="#e00000"/>
<circle cx="179.68" cy="471.79" r="1.68" fill="#1010ff"/>
<circle cx="184.24" cy="436.16" r="1.68" fill="#e00000"/>
<circle cx="184.24" cy="472.70" r="1.68" fill="#1010ff"/>
<circle cx="188.80" cy="437.77" r="1.68" fill="#e00000"/>
<circle cx="188.80" cy="473.59" r="1.68" fill="#1010ff"/>
<circle cx="193.36" cy="439.36" r="1.68" fill="#e00000"/>
<circle cx="193.36" cy="474.46" r="1.68" fill="#1010ff"/>
<circle cx="197.92" cy="440.92" r="1.68" fill="#e00000"/>
<circle cx="197.92" cy="475.32" r="1.68" fill="#1010ff"/>
<circle cx="202.48" cy="442.45" r="1.68" fill="#e00000"/>
<circle cx="202.48" cy="476.17" r="1.68" fill="#1010ff"/>
<circle cx="207.04" cy="443.95" r="1.68" fill="#e00000"/>
<circle cx="207.04" cy="477.01" r="1.68" fill="#1010ff"/>
<circle cx="211.60" cy="445.42" r="1.68" fill="#e00000"/>
<circle cx="211.60" cy="477.84" r="1.68" fill="#1010ff"/>
<circle cx="216.16" cy="446.88" r="1.68" fill="#e00000"/>
<circle cx="216.16" cy="478.66" r="1.68" fill="#1010ff"/>
<circle cx="220.72" cy="448.30" r="1.68" fill="#e00000"/>
<circle cx="220.72" cy="479.47" r="1.68" fill="#1010ff"/>
<circle cx="225.28" cy="449.71" r="1.68" fill="#e00000"/>
<circle cx="225.28" cy="480.28" r="1.68" fill="#1010ff"/>
<circle cx="229.84" cy="451.10" r="1.68" fill="#e00000"/>
<circle cx="229.84" cy="481.07" r="1.68" fill="#1010ff"/>
<circle cx="234.40" cy="452.46" r="1.68" fill="#e00000"/>
<circle cx="234.40" cy="481.86" r="1.68" fill="#1010ff"/>
<circle cx="238.96" cy="453.82" r="1.68" fill="#e00000"/>
<circle cx="238.96" cy="482.64" r="1.68" fill="#1010ff"/>
<circle cx="243.52" cy="455.15" r="1.68" fill="#e00000"/>
<circle cx="243.52" cy="483.41" r="1.68" fill="#1010ff"/>
<circle cx="248.08" cy="456.48" r="1.68" fill="#e00000"/>
<circle cx="248.08" cy="484.17" r="1.68" fill="#1010ff"/>
<circle cx="252.64" cy="457.78" r="1.68" fill="#e00000"/>
<circle cx="252.64" cy="484.93" r="1.68" fill="#1010ff"/>
<circle cx="257.20" cy="459.08" r="1.68" fill="#e00000"/>
<circle cx="257.20" cy="485.68" r="1.68" fill="#1010ff"/>
<circle cx="261.76" cy="460.36" r="1.68" fill="#e00000"/>
<circle cx="261.76" cy="486.42" r="1.68" fill="#1010ff"/>
<circle cx="266.32" cy="461.63" r="1.68" fill="#e00000"/>
<circle cx="266.32" cy="487.15" r="1.68" fill="#1010ff"/>
<circle cx="270.88" cy="462.89" r="1.68" fill="#e00000"/>
<circle cx="270.88" cy="487.88" r="1.68" fill="#1010ff"/>
<circle cx="275.44" cy="464.15" r="1.68" fill="#e00000"/>
<circle cx="275.44" cy="488.60" r="1.68" fill="#1010ff"/>
<circle cx="280.00" cy="465.40" r="1.68" fill="#e00000"/>
<circle cx="280.00" cy="489.31" r="1.68" fill="#1010ff"/>
<circle cx="284.56" cy="466.65" r="1.68" fill="#e00000"/>
<circle cx="284.56" cy="490.01" r="1.68" fill="#1010ff"/>
<circle cx="289.12" cy="467.88" r="1.68" fill="#e00000"/>
<circle cx="289.12" cy="490.69" r="1.68" fill="#1010ff"/>
<circle cx="293.68" cy="469.10" r="1.68" fill="#e00000"/>
<circle cx="293.68" cy="491.34" r="1.68" fill="#1010ff"/>
<circle cx="298.24" cy="470.35" r="1.68" fill="#e00000"/>
<circle cx="298.24" cy="492.00" r="1.68" fill="#1010ff"/>
<circle cx="302.80" cy="471.60" r="1.68" fill="#e00000"/>
<circle cx="302.80" cy="492.64" r="1.68" fill="#1010ff"/>
<circle cx="307.36" cy="472.86" r="1.68" fill="#e00000"/>
<circle cx="307.36" cy="493.25" r="1.68" fill="#1010ff"/>
<circle cx="311.92" cy="474.14" r="1.68" fill="#e00000"/>
<circle cx="311.92" cy="493.86" r="1.68" fill="#1010ff"/>
<circle cx="316.48" cy="475.47" r="1.68" fill="#e00000"/>
<circle cx="316.48" cy="494.43" r="1.68" fill="#1010ff"/>
<circle cx="321.04" cy="476.84" r="1.68" fill="#e00000"/>
<circle cx="321.04" cy="494.97" r="1.68" fill="#1010ff"/>
<circle cx="325.60" cy="478.29" r="1.68" fill="#e00000"/>
<circle cx="325.60" cy="495.48" r="1.68" fill="#1010ff"/>
<path d="M54.88,335.34 L58.24,335.34 L56.56,338.25Z" fill="#e00000" stroke="#400" stroke-width="0.45"/>
<path d="M54.88,368.14 L58.24,368.14 L56.56,371.05Z" fill="#1010ff" stroke="none" stroke-width="0"/>
<path d="M59.44,349.35 L62.80,349.35 L61.12,352.26Z" fill="#e00000" stroke="#400" stroke-width="0.45"/>
<path d="M59.44,402.20 L62.80,402.20 L61.12,405.11Z" fill="#1010ff" stroke="none" stroke-width="0"/>
<path d="M64.00,359.12 L67.36,359.12 L65.68,362.03Z" fill="#e00000" stroke="#400" stroke-width="0.45"/>
<path d="M64.00,415.66 L67.36,415.66 L65.68,418.57Z" fill="#1010ff" stroke="none" stroke-width="0"/>
<path d="M68.56,366.71 L71.92,366.71 L70.24,369.62Z" fill="#e00000" stroke="#400" stroke-width="0.45"/>
<path d="M68.56,424.15 L71.92,424.15 L70.24,427.06Z" fill="#1010ff" stroke="none" stroke-width="0"/>
<path d="M73.12,372.86 L76.48,372.86 L74.80,375.77Z" fill="#e00000" stroke="#400" stroke-width="0.45"/>
<path d="M73.12,430.11 L76.48,430.11 L74.80,433.02Z" fill="#1010ff" stroke="none" stroke-width="0"/>
<path d="M77.68,378.04 L81.04,378.04 L79.36,380.95Z" fill="#e00000" stroke="#400" stroke-width="0.45"/>
<path d="M77.68,434.78 L81.04,434.78 L79.36,437.69Z" fill="#1010ff" stroke="none" stroke-width="0"/>
<path d="M82.24,382.57 L85.60,382.57 L83.92,385.47Z" fill="#e00000" stroke="#400" stroke-width="0.45"/>
<path d="M82.24,438.61 L85.60,438.61 L83.92,441.52Z" fill="#1010ff" stroke="none" stroke-width="0"/>
<path d="M86.80,386.59 L90.16,386.59 L88.48,389.50Z" fill="#e00000" stroke="#400" stroke-width="0.45"/>
<path d="M86.80,441.84 L90.16,441.84 L88.48,444.75Z" fill="#1010ff" stroke="none" stroke-width="0"/>
<path d="M91.36,390.27 L94.72,390.27 L93.04,393.18Z" fill="#e00000" stroke="#400" stroke-width="0.45"/>
<path d="M91.36,444.64 L94.72,444.64 L93.04,447.55Z" fill="#1010ff" stroke="none" stroke-width="0"/>
<path d="M95.92,393.65 L99.28,393.65 L97.60,396.56Z" fill="#e00000" stroke="#400" stroke-width="0.45"/>
<path d="M95.92,447.11 L99.28,447.11 L97.60,450.02Z" fill="#1010ff" stroke="none" stroke-width="0"/>
<path d="M100.48,396.80 L103.84,396.80 L102.16,399.71Z" fill="#e00000" stroke="#400" stroke-width="0.45"/>
<path d="M100.48,449.34 L103.84,449.34 L102.16,452.25Z" fill="#1010ff" stroke="none" stroke-width="0"/>
<path d="M105.04,399.75 L108.40,399.75 L106.72,402.66Z" fill="#e00000" stroke="#400" stroke-width="0.45"/>
<path d="M105.04,451.36 L108.40,451.36 L106.72,454.27Z" fill="#1010ff" stroke="none" stroke-width="0"/>
<path d="M109.60,402.44 L112.96,402.44 L111.28,405.35Z" fill="#e00000" stroke="#400" stroke-width="0.45"/>
<path d="M109.60,453.14 L112.96,453.14 L111.28,456.05Z" fill="#1010ff" stroke="none" stroke-width="0"/>
<path d="M114.16,405.09 L117.52,405.09 L115.84,408.00Z" fill="#e00000" stroke="#400" stroke-width="0.45"/>
<path d="M114.16,454.80 L117.52,454.80 L115.84,457.71Z" fill="#1010ff" stroke="none" stroke-width="0"/>
<path d="M118.72,407.62 L122.08,407.62 L120.40,410.53Z" fill="#e00000" stroke="#400" stroke-width="0.45"/>
<path d="M118.72,456.35 L122.08,456.35 L120.40,459.26Z" fill="#1010ff" stroke="none" stroke-width="0"/>
<path d="M123.28,410.04 L126.64,410.04 L124.96,412.95Z" fill="#e00000" stroke="#400" stroke-width="0.45"/>
<path d="M123.28,457.81 L126.64,457.81 L124.96,460.72Z" fill="#1010ff" stroke="none" stroke-width="0"/>
<path d="M127.84,412.37 L131.20,412.37 L129.52,415.27Z" fill="#e00000" stroke="#400" stroke-width="0.45"/>
<path d="M127.84,459.19 L131.20,459.19 L129.52,462.10Z" fill="#1010ff" stroke="none" stroke-width="0"/>
<path d="M132.40,414.60 L135.76,414.60 L134.08,417.51Z" fill="#e00000" stroke="#400" stroke-width="0.45"/>
<path d="M132.40,460.48 L135.76,460.48 L134.08,463.39Z" fill="#1010ff" stroke="none" stroke-width="0"/>
<path d="M136.96,416.76 L140.32,416.76 L138.64,419.67Z" fill="#e00000" stroke="#400" stroke-width="0.45"/>
<path d="M136.96,461.66 L140.32,461.66 L138.64,464.57Z" fill="#1010ff" stroke="none" stroke-width="0"/>
<path d="M141.52,418.85 L144.88,418.85 L143.20,421.76Z" fill="#e00000" stroke="#400" stroke-width="0.45"/>
<path d="M141.52,462.80 L144.88,462.80 L143.20,465.71Z" fill="#1010ff" stroke="none" stroke-width="0"/>
<path d="M146.08,420.87 L149.44,420.87 L147.76,423.78Z" fill="#e00000" stroke="#400" stroke-width="0.45"/>
<path d="M146.08,463.90 L149.44,463.90 L147.76,466.81Z" fill="#1010ff" stroke="none" stroke-width="0"/>
<path d="M150.64,422.83 L154.00,422.83 L152.32,425.74Z" fill="#e00000" stroke="#400" stroke-width="0.45"/>
<path d="M150.64,464.95 L154.00,464.95 L152.32,467.86Z" fill="#1010ff" stroke="none" stroke-width="0"/>
<path d="M155.20,424.74 L158.56,424.74 L156.88,427.65Z" fill="#e00000" stroke="#400" stroke-width="0.45"/>
<path d="M155.20,465.98 L158.56,465.98 L156.88,468.89Z" fill="#1010ff" stroke="none" stroke-width="0"/>
<path d="M159.76,426.60 L163.12,426.60 L161.44,429.51Z" fill="#e00000" stroke="#400" stroke-width="0.45"/>
<path d="M159.76,466.98 L163.12,466.98 L161.44,469.89Z" fill="#1010ff" stroke="none" stroke-width="0"/>
<path d="M164.32,428.42 L167.68,428.42 L166.00,431.33Z" fill="#e00000" stroke="#400" stroke-width="0.45"/>
<path d="M164.32,467.95 L167.68,467.95 L166.00,470.86Z" fill="#1010ff" stroke="none" stroke-width="0"/>
<path d="M168.88,430.19 L172.24,430.19 L170.56,433.10Z" fill="#e00000" stroke="#400" stroke-width="0.45"/>
<path d="M168.88,468.90 L172.24,468.90 L170.56,471.81Z" fill="#1010ff" stroke="none" stroke-width="0"/>
<path d="M173.44,431.91 L176.80,431.91 L175.12,434.82Z" fill="#e00000" stroke="#400" stroke-width="0.45"/>
<path d="M173.44,469.83 L176.80,469.83 L175.12,472.74Z" fill="#1010ff" stroke="none" stroke-width="0"/>
<path d="M178.00,433.60 L181.36,433.60 L179.68,436.51Z" fill="#e00000" stroke="#400" stroke-width="0.45"/>
<path d="M178.00,470.74 L181.36,470.74 L179.68,473.65Z" fill="#1010ff" stroke="none" stroke-width="0"/>
<path d="M182.56,435.26 L185.92,435.26 L184.24,438.17Z" fill="#e00000" stroke="#400" stroke-width="0.45"/>
<path d="M182.56,471.64 L185.92,471.64 L184.24,474.55Z" fill="#1010ff" stroke="none" stroke-width="0"/>
<path d="M187.12,436.88 L190.48,436.88 L188.80,439.79Z" fill="#e00000" stroke="#400" stroke-width="0.45"/>
<path d="M187.12,472.52 L190.48,472.52 L188.80,475.43Z" fill="#1010ff" stroke="none" stroke-width="0"/>
<path d="M191.68,438.48 L195.04,438.48 L193.36,441.39Z" fill="#e00000" stroke="#400" stroke-width="0.45"/>
<path d="M191.68,473.38 L195.04,473.38 L193.36,476.29Z" fill="#1010ff" stroke="none" stroke-width="0"/>
<path d="M196.24,440.05 L199.60,440.05 L197.92,442.96Z" fill="#e00000" stroke="#400" stroke-width="0.45"/>
<path d="M196.24,474.22 L199.60,474.22 L197.92,477.13Z" fill="#1010ff" stroke="none" stroke-width="0"/>
<path d="M200.80,441.60 L204.16,441.60 L202.48,444.51Z" fill="#e00000" stroke="#400" stroke-width="0.45"/>
<path d="M200.80,475.06 L204.16,475.06 L202.48,477.97Z" fill="#1010ff" stroke="none" stroke-width="0"/>
<path d="M205.36,443.12 L208.72,443.12 L207.04,446.03Z" fill="#e00000" stroke="#400" stroke-width="0.45"/>
<path d="M205.36,475.88 L208.72,475.88 L207.04,478.79Z" fill="#1010ff" stroke="none" stroke-width="0"/>
<path d="M209.92,444.62 L213.28,444.62 L211.60,447.53Z" fill="#e00000" stroke="#400" stroke-width="0.45"/>
<path d="M209.92,476.69 L213.28,476.69 L211.60,479.60Z" fill="#1010ff" stroke="none" stroke-width="0"/>
<path d="M214.48,446.09 L217.84,446.09 L216.16,449.00Z" fill="#e00000" stroke="#400" stroke-width="0.45"/>
<path d="M214.48,477.49 L217.84,477.49 L216.16,480.40Z" fill="#1010ff" stroke="none" stroke-width="0"/>
<path d="M219.04,447.55 L222.40,447.55 L220.72,450.46Z" fill="#e00000" stroke="#400" stroke-width="0.45"/>
<path d="M219.04,478.27 L222.40,478.27 L220.72,481.18Z" fill="#1010ff" stroke="none" stroke-width="0"/>
<path d="M223.60,448.99 L226.96,448.99 L225.28,451.90Z" fill="#e00000" stroke="#400" stroke-width="0.45"/>
<path d="M223.60,479.04 L226.96,479.04 L225.28,481.95Z" fill="#1010ff" stroke="none" stroke-width="0"/>
<path d="M228.16,450.41 L231.52,450.41 L229.84,453.32Z" fill="#e00000" stroke="#400" stroke-width="0.45"/>
<path d="M228.16,479.80 L231.52,479.80 L229.84,482.71Z" fill="#1010ff" stroke="none" stroke-width="0"/>
<path d="M232.72,451.81 L236.08,451.81 L234.40,454.72Z" fill="#e00000" stroke="#400" stroke-width="0.45"/>
<path d="M232.72,480.55 L236.08,480.55 L234.40,483.46Z" fill="#1010ff" stroke="none" stroke-width="0"/>
<path d="M237.28,453.19 L240.64,453.19 L238.96,456.10Z" fill="#e00000" stroke="#400" stroke-width="0.45"/>
<path d="M237.28,481.32 L240.64,481.32 L238.96,484.23Z" fill="#1010ff" stroke="none" stroke-width="0"/>
<path d="M241.84,454.57 L245.20,454.57 L243.52,457.48Z" fill="#e00000" stroke="#400" stroke-width="0.45"/>
<path d="M241.84,482.07 L245.20,482.07 L243.52,484.98Z" fill="#1010ff" stroke="none" stroke-width="0"/>
<path d="M246.40,455.97 L249.76,455.97 L248.08,458.88Z" fill="#e00000" stroke="#400" stroke-width="0.45"/>
<path d="M246.40,482.79 L249.76,482.79 L248.08,485.70Z" fill="#1010ff" stroke="none" stroke-width="0"/>
<path d="M250.96,457.37 L254.32,457.37 L252.64,460.28Z" fill="#e00000" stroke="#400" stroke-width="0.45"/>
<path d="M250.96,483.44 L254.32,483.44 L252.64,486.35Z" fill="#1010ff" stroke="none" stroke-width="0"/>
<path d="M255.52,458.77 L258.88,458.77 L257.20,461.68Z" fill="#e00000" stroke="#400" stroke-width="0.45"/>
<path d="M255.52,484.01 L258.88,484.01 L257.20,486.92Z" fill="#1010ff" stroke="none" stroke-width="0"/>
<path d="M260.08,460.18 L263.44,460.18 L261.76,463.09Z" fill="#e00000" stroke="#400" stroke-width="0.45"/>
<path d="M260.08,484.66 L263.44,484.66 L261.76,487.57Z" fill="#1010ff" stroke="none" stroke-width="0"/>
<path d="M264.64,461.60 L268.00,461.60 L266.32,464.51Z" fill="#e00000" stroke="#400" stroke-width="0.45"/>
<path d="M264.64,485.28 L268.00,485.28 L266.32,488.19Z" fill="#1010ff" stroke="none" stroke-width="0"/>
<path d="M269.20,463.06 L272.56,463.06 L270.88,465.97Z" fill="#e00000" stroke="#400" stroke-width="0.45"/>
<path d="M269.20,485.86 L272.56,485.86 L270.88,488.77Z" fill="#1010ff" stroke="none" stroke-width="0"/>
<path d="M273.76,464.54 L277.12,464.54 L275.44,467.45Z" fill="#e00000" stroke="#400" stroke-width="0.45"/>
<path d="M273.76,486.41 L277.12,486.41 L275.44,489.32Z" fill="#1010ff" stroke="none" stroke-width="0"/>
<path d="M278.32,466.22 L281.68,466.22 L280.00,469.13Z" fill="#e00000" stroke="#400" stroke-width="0.45"/>
<path d="M278.32,486.86 L281.68,486.86 L280.00,489.77Z" fill="#1010ff" stroke="none" stroke-width="0"/>
<path d="M56.56,334.15 L57.09,335.57 L58.61,335.64 L57.42,336.59 L57.83,338.06 L56.56,337.21 L55.29,338.06 L55.70,336.59 L54.51,335.64 L56.03,335.57Z" fill="#e00000" stroke="#400" stroke-width="0.45"/>
<path d="M56.56,366.95 L57.09,368.37 L58.61,368.44 L57.42,369.39 L57.83,370.85 L56.56,370.01 L55.29,370.85 L55.70,369.39 L54.51,368.44 L56.03,368.37Z" fill="#1010ff" stroke="none" stroke-width="0"/>
<path d="M61.12,348.16 L61.65,349.59 L63.17,349.65 L61.98,350.60 L62.39,352.07 L61.12,351.23 L59.85,352.07 L60.26,350.60 L59.07,349.65 L60.59,349.59Z" fill="#e00000" stroke="#400" stroke-width="0.45"/>
<path d="M61.12,401.01 L61.65,402.44 L63.17,402.50 L61.98,403.45 L62.39,404.92 L61.12,404.08 L59.85,404.92 L60.26,403.45 L59.07,402.50 L60.59,402.44Z" fill="#1010ff" stroke="none" stroke-width="0"/>
<path d="M65.68,357.93 L66.21,359.35 L67.73,359.42 L66.54,360.37 L66.95,361.83 L65.68,360.99 L64.41,361.83 L64.82,360.37 L63.63,359.42 L65.15,359.35Z" fill="#e00000" stroke="#400" stroke-width="0.45"/>
<path d="M65.68,414.47 L66.21,415.89 L67.73,415.96 L66.54,416.91 L66.95,418.38 L65.68,417.54 L64.41,418.38 L64.82,416.91 L63.63,415.96 L65.15,415.89Z" fill="#1010ff" stroke="none" stroke-width="0"/>
<path d="M70.24,365.52 L70.77,366.94 L72.29,367.01 L71.10,367.96 L71.51,369.43 L70.24,368.59 L68.97,369.43 L69.38,367.96 L68.19,367.01 L69.71,366.94Z" fill="#e00000" stroke="#400" stroke-width="0.45"/>
<path d="M70.24,422.96 L70.77,424.39 L72.29,424.46 L71.10,425.40 L71.51,426.87 L70.24,426.03 L68.97,426.87 L69.38,425.40 L68.19,424.46 L69.71,424.39Z" fill="#1010ff" stroke="none" stroke-width="0"/>
<path d="M74.80,371.67 L75.33,373.09 L76.85,373.16 L75.66,374.11 L76.07,375.57 L74.80,374.73 L73.53,375.57 L73.94,374.11 L72.75,373.16 L74.27,373.09Z" fill="#e00000" stroke="#400" stroke-width="0.45"/>
<path d="M74.80,428.92 L75.33,430.34 L76.85,430.41 L75.66,431.36 L76.07,432.82 L74.80,431.98 L73.53,432.82 L73.94,431.36 L72.75,430.41 L74.27,430.34Z" fill="#1010ff" stroke="none" stroke-width="0"/>
<path d="M79.36,376.85 L79.89,378.28 L81.41,378.34 L80.22,379.29 L80.63,380.76 L79.36,379.92 L78.09,380.76 L78.50,379.29 L77.31,378.34 L78.83,378.28Z" fill="#e00000" stroke="#400" stroke-width="0.45"/>
<path d="M79.36,433.59 L79.89,435.02 L81.41,435.09 L80.22,436.03 L80.63,437.50 L79.36,436.66 L78.09,437.50 L78.50,436.03 L77.31,435.09 L78.83,435.02Z" fill="#1010ff" stroke="none" stroke-width="0"/>
<path d="M83.92,381.38 L84.45,382.80 L85.97,382.87 L84.78,383.82 L85.19,385.28 L83.92,384.44 L82.65,385.28 L83.06,383.82 L81.87,382.87 L83.39,382.80Z" fill="#e00000" stroke="#400" stroke-width="0.45"/>
<path d="M83.92,437.42 L84.45,438.85 L85.97,438.91 L84.78,439.86 L85.19,441.33 L83.92,440.49 L82.65,441.33 L83.06,439.86 L81.87,438.91 L83.39,438.85Z" fill="#1010ff" stroke="none" stroke-width="0"/>
<path d="M88.48,385.40 L89.01,386.83 L90.53,386.89 L89.34,387.84 L89.75,389.31 L88.48,388.47 L87.21,389.31 L87.62,387.84 L86.43,386.89 L87.95,386.83Z" fill="#e00000" stroke="#400" stroke-width="0.45"/>
<path d="M88.48,440.65 L89.01,442.08 L90.53,442.15 L89.34,443.09 L89.75,444.56 L88.48,443.72 L87.21,444.56 L87.62,443.09 L86.43,442.15 L87.95,442.08Z" fill="#1010ff" stroke="none" stroke-width="0"/>
<path d="M93.04,389.08 L93.57,390.50 L95.09,390.57 L93.90,391.52 L94.31,392.98 L93.04,392.14 L91.77,392.98 L92.18,391.52 L90.99,390.57 L92.51,390.50Z" fill="#e00000" stroke="#400" stroke-width="0.45"/>
<path d="M93.04,443.45 L93.57,444.88 L95.09,444.94 L93.90,445.89 L94.31,447.36 L93.04,446.52 L91.77,447.36 L92.18,445.89 L90.99,444.94 L92.51,444.88Z" fill="#1010ff" stroke="none" stroke-width="0"/>
<path d="M97.60,392.46 L98.13,393.88 L99.65,393.95 L98.46,394.90 L98.87,396.37 L97.60,395.52 L96.33,396.37 L96.74,394.90 L95.55,393.95 L97.07,393.88Z" fill="#e00000" stroke="#400" stroke-width="0.45"/>
<path d="M97.60,445.92 L98.13,447.35 L99.65,447.42 L98.46,448.36 L98.87,449.83 L97.60,448.99 L96.33,449.83 L96.74,448.36 L95.55,447.42 L97.07,447.35Z" fill="#1010ff" stroke="none" stroke-width="0"/>
<path d="M102.16,395.63 L102.69,397.06 L104.21,397.12 L103.02,398.07 L103.43,399.54 L102.16,398.70 L100.89,399.54 L101.30,398.07 L100.11,397.12 L101.63,397.06Z" fill="#e00000" stroke="#400" stroke-width="0.45"/>
<path d="M102.16,448.15 L102.69,449.57 L104.21,449.64 L103.02,450.59 L103.43,452.05 L102.16,451.21 L100.89,452.05 L101.30,450.59 L100.11,449.64 L101.63,449.57Z" fill="#1010ff" stroke="none" stroke-width="0"/>
<path d="M106.72,398.60 L107.25,400.03 L108.77,400.09 L107.58,401.04 L107.99,402.51 L106.72,401.67 L105.45,402.51 L105.86,401.04 L104.67,400.09 L106.19,400.03Z" fill="#e00000" stroke="#400" stroke-width="0.45"/>
<path d="M106.72,450.17 L107.25,451.59 L108.77,451.66 L107.58,452.61 L107.99,454.08 L106.72,453.24 L105.45,454.08 L105.86,452.61 L104.67,451.66 L106.19,451.59Z" fill="#1010ff" stroke="none" stroke-width="0"/>
<path d="M111.28,401.27 L111.81,402.70 L113.33,402.77 L112.14,403.72 L112.55,405.18 L111.28,404.34 L110.01,405.18 L110.42,403.72 L109.23,402.77 L110.75,402.70Z" fill="#e00000" stroke="#400" stroke-width="0.45"/>
<path d="M111.28,451.95 L111.81,453.38 L113.33,453.45 L112.14,454.39 L112.55,455.86 L111.28,455.02 L110.01,455.86 L110.42,454.39 L109.23,453.45 L110.75,453.38Z" fill="#1010ff" stroke="none" stroke-width="0"/>
<path d="M115.84,403.93 L116.37,405.36 L117.89,405.42 L116.70,406.37 L117.11,407.84 L115.84,407.00 L114.57,407.84 L114.98,406.37 L113.79,405.42 L115.31,405.36Z" fill="#e00000" stroke="#400" stroke-width="0.45"/>
<path d="M115.84,453.61 L116.37,455.03 L117.89,455.10 L116.70,456.05 L117.11,457.52 L115.84,456.68 L114.57,457.52 L114.98,456.05 L113.79,455.10 L115.31,455.03Z" fill="#1010ff" stroke="none" stroke-width="0"/>
<path d="M120.40,406.46 L120.93,407.89 L122.45,407.96 L121.26,408.90 L121.67,410.37 L120.40,409.53 L119.13,410.37 L119.54,408.90 L118.35,407.96 L119.87,407.89Z" fill="#e00000" stroke="#400" stroke-width="0.45"/>
<path d="M120.40,455.16 L120.93,456.58 L122.45,456.65 L121.26,457.60 L121.67,459.07 L120.40,458.22 L119.13,459.07 L119.54,457.60 L118.35,456.65 L119.87,456.58Z" fill="#1010ff" stroke="none" stroke-width="0"/>
<path d="M124.96,408.89 L125.49,410.31 L127.01,410.38 L125.82,411.33 L126.23,412.79 L124.96,411.95 L123.69,412.79 L124.10,411.33 L122.91,410.38 L124.43,410.31Z" fill="#e00000" stroke="#400" stroke-width="0.45"/>
<path d="M124.96,456.62 L125.49,458.04 L127.01,458.11 L125.82,459.06 L126.23,460.53 L124.96,459.68 L123.69,460.53 L124.10,459.06 L122.91,458.11 L124.43,458.04Z" fill="#1010ff" stroke="none" stroke-width="0"/>
<path d="M129.52,411.22 L130.05,412.65 L131.57,412.71 L130.38,413.66 L130.79,415.13 L129.52,414.29 L128.25,415.13 L128.66,413.66 L127.47,412.71 L128.99,412.65Z" fill="#e00000" stroke="#400" stroke-width="0.45"/>
<path d="M129.52,458.00 L130.05,459.43 L131.57,459.49 L130.38,460.44 L130.79,461.91 L129.52,461.07 L128.25,461.91 L128.66,460.44 L127.47,459.49 L128.99,459.43Z" fill="#1010ff" stroke="none" stroke-width="0"/>
<path d="M134.08,413.47 L134.61,414.90 L136.13,414.96 L134.94,415.91 L135.35,417.38 L134.08,416.54 L132.81,417.38 L133.22,415.91 L132.03,414.96 L133.55,414.90Z" fill="#e00000" stroke="#400" stroke-width="0.45"/>
<path d="M134.08,459.24 L134.61,460.66 L136.13,460.73 L134.94,461.68 L135.35,463.14 L134.08,462.30 L132.81,463.14 L133.22,461.68 L132.03,460.73 L133.55,460.66Z" fill="#1010ff" stroke="none" stroke-width="0"/>
<path d="M138.64,415.64 L139.17,417.07 L140.69,417.13 L139.50,418.08 L139.91,419.55 L138.64,418.71 L137.37,419.55 L137.78,418.08 L136.59,417.13 L138.11,417.07Z" fill="#e00000" stroke="#400" stroke-width="0.45"/>
<path d="M138.64,460.41 L139.17,461.84 L140.69,461.91 L139.50,462.85 L139.91,464.32 L138.64,463.48 L137.37,464.32 L137.78,462.85 L136.59,461.91 L138.11,461.84Z" fill="#1010ff" stroke="none" stroke-width="0"/>
<path d="M143.20,417.74 L143.73,419.17 L145.25,419.24 L144.06,420.18 L144.47,421.65 L143.20,420.81 L141.93,421.65 L142.34,420.18 L141.15,419.24 L142.67,419.17Z" fill="#e00000" stroke="#400" stroke-width="0.45"/>
<path d="M143.20,461.54 L143.73,462.97 L145.25,463.03 L144.06,463.98 L144.47,465.45 L143.20,464.61 L141.93,465.45 L142.34,463.98 L141.15,463.03 L142.67,462.97Z" fill="#1010ff" stroke="none" stroke-width="0"/>
<path d="M147.76,419.78 L148.29,421.20 L149.81,421.27 L148.62,422.22 L149.03,423.69 L147.76,422.85 L146.49,423.69 L146.90,422.22 L145.71,421.27 L147.23,421.20Z" fill="#e00000" stroke="#400" stroke-width="0.45"/>
<path d="M147.76,462.63 L148.29,464.05 L149.81,464.12 L148.62,465.07 L149.03,466.54 L147.76,465.69 L146.49,466.54 L146.90,465.07 L145.71,464.12 L147.23,464.05Z" fill="#1010ff" stroke="none" stroke-width="0"/>
<path d="M152.32,421.75 L152.85,423.18 L154.37,423.25 L153.18,424.19 L153.59,425.66 L152.32,424.82 L151.05,425.66 L151.46,424.19 L150.27,423.25 L151.79,423.18Z" fill="#e00000" stroke="#400" stroke-width="0.45"/>
<path d="M152.32,463.67 L152.85,465.09 L154.37,465.16 L153.18,466.11 L153.59,467.57 L152.32,466.73 L151.05,467.57 L151.46,466.11 L150.27,465.16 L151.79,465.09Z" fill="#1010ff" stroke="none" stroke-width="0"/>
<path d="M156.88,423.68 L157.41,425.10 L158.93,425.17 L157.74,426.12 L158.15,427.58 L156.88,426.74 L155.61,427.58 L156.02,426.12 L154.83,425.17 L156.35,425.10Z" fill="#e00000" stroke="#400" stroke-width="0.45"/>
<path d="M156.88,464.67 L157.41,466.10 L158.93,466.16 L157.74,467.11 L158.15,468.58 L156.88,467.74 L155.61,468.58 L156.02,467.11 L154.83,466.16 L156.35,466.10Z" fill="#1010ff" stroke="none" stroke-width="0"/>
<path d="M161.44,425.55 L161.97,426.98 L163.49,427.04 L162.30,427.99 L162.71,429.46 L161.44,428.62 L160.17,429.46 L160.58,427.99 L159.39,427.04 L160.91,426.98Z" fill="#e00000" stroke="#400" stroke-width="0.45"/>
<path d="M161.44,465.65 L161.97,467.07 L163.49,467.14 L162.30,468.09 L162.71,469.56 L161.44,468.71 L160.17,469.56 L160.58,468.09 L159.39,467.14 L160.91,467.07Z" fill="#1010ff" stroke="none" stroke-width="0"/>
<path d="M166.00,427.38 L166.53,428.80 L168.05,428.87 L166.86,429.82 L167.27,431.29 L166.00,430.45 L164.73,431.29 L165.14,429.82 L163.95,428.87 L165.47,428.80Z" fill="#e00000" stroke="#400" stroke-width="0.45"/>
<path d="M166.00,466.60 L166.53,468.02 L168.05,468.09 L166.86,469.04 L167.27,470.50 L166.00,469.66 L164.73,470.50 L165.14,469.04 L163.95,468.09 L165.47,468.02Z" fill="#1010ff" stroke="none" stroke-width="0"/>
<path d="M170.56,429.16 L171.09,430.59 L172.61,430.66 L171.42,431.61 L171.83,433.07 L170.56,432.23 L169.29,433.07 L169.70,431.61 L168.51,430.66 L170.03,430.59Z" fill="#e00000" stroke="#400" stroke-width="0.45"/>
<path d="M170.56,467.52 L171.09,468.95 L172.61,469.01 L171.42,469.96 L171.83,471.43 L170.56,470.59 L169.29,471.43 L169.70,469.96 L168.51,469.01 L170.03,468.95Z" fill="#1010ff" stroke="none" stroke-width="0"/>
<path d="M175.12,430.92 L175.65,432.35 L177.17,432.42 L175.98,433.36 L176.39,434.83 L175.12,433.99 L173.85,434.83 L174.26,433.36 L173.07,432.42 L174.59,432.35Z" fill="#e00000" stroke="#400" stroke-width="0.45"/>
<path d="M175.12,468.42 L175.65,469.85 L177.17,469.91 L175.98,470.86 L176.39,472.33 L175.12,471.49 L173.85,472.33 L174.26,470.86 L173.07,469.91 L174.59,469.85Z" fill="#1010ff" stroke="none" stroke-width="0"/>
<path d="M179.68,432.65 L180.21,434.08 L181.73,434.14 L180.54,435.09 L180.95,436.56 L179.68,435.72 L178.41,436.56 L178.82,435.09 L177.63,434.14 L179.15,434.08Z" fill="#e00000" stroke="#400" stroke-width="0.45"/>
<path d="M179.68,469.30 L180.21,470.73 L181.73,470.79 L180.54,471.74 L180.95,473.21 L179.68,472.37 L178.41,473.21 L178.82,471.74 L177.63,470.79 L179.15,470.73Z" fill="#1010ff" stroke="none" stroke-width="0"/>
<path d="M184.24,434.34 L184.77,435.77 L186.29,435.84 L185.10,436.78 L185.51,438.25 L184.24,437.41 L182.97,438.25 L183.38,436.78 L182.19,435.84 L183.71,435.77Z" fill="#e00000" stroke="#400" stroke-width="0.45"/>
<path d="M184.24,470.16 L184.77,471.59 L186.29,471.65 L185.10,472.60 L185.51,474.07 L184.24,473.23 L182.97,474.07 L183.38,472.60 L182.19,471.65 L183.71,471.59Z" fill="#1010ff" stroke="none" stroke-width="0"/>
<path d="M188.80,436.01 L189.33,437.44 L190.85,437.50 L189.66,438.45 L190.07,439.92 L188.80,439.08 L187.53,439.92 L187.94,438.45 L186.75,437.50 L188.27,437.44Z" fill="#e00000" stroke="#400" stroke-width="0.45"/>
<path d="M188.80,471.00 L189.33,472.43 L190.85,472.50 L189.66,473.44 L190.07,474.91 L188.80,474.07 L187.53,474.91 L187.94,473.44 L186.75,472.50 L188.27,472.43Z" fill="#1010ff" stroke="none" stroke-width="0"/>
<path d="M193.36,437.64 L193.89,439.07 L195.41,439.14 L194.22,440.08 L194.63,441.55 L193.36,440.71 L192.09,441.55 L192.50,440.08 L191.31,439.14 L192.83,439.07Z" fill="#e00000" stroke="#400" stroke-width="0.45"/>
<path d="M193.36,471.82 L193.89,473.25 L195.41,473.32 L194.22,474.26 L194.63,475.73 L193.36,474.89 L192.09,475.73 L192.50,474.26 L191.31,473.32 L192.83,473.25Z" fill="#1010ff" stroke="none" stroke-width="0"/>
<path d="M197.92,439.25 L198.45,440.68 L199.97,440.75 L198.78,441.69 L199.19,443.16 L197.92,442.32 L196.65,443.16 L197.06,441.69 L195.87,440.75 L197.39,440.68Z" fill="#e00000" stroke="#400" stroke-width="0.45"/>
<path d="M197.92,472.63 L198.45,474.06 L199.97,474.12 L198.78,475.07 L199.19,476.54 L197.92,475.70 L196.65,476.54 L197.06,475.07 L195.87,474.12 L197.39,474.06Z" fill="#1010ff" stroke="none" stroke-width="0"/>
<path d="M202.48,440.84 L203.01,442.27 L204.53,442.33 L203.34,443.28 L203.75,444.75 L202.48,443.91 L201.21,444.75 L201.62,443.28 L200.43,442.33 L201.95,442.27Z" fill="#e00000" stroke="#400" stroke-width="0.45"/>
<path d="M202.48,473.42 L203.01,474.84 L204.53,474.91 L203.34,475.86 L203.75,477.33 L202.48,476.48 L201.21,477.33 L201.62,475.86 L200.43,474.91 L201.95,474.84Z" fill="#1010ff" stroke="none" stroke-width="0"/>
<path d="M207.04,442.41 L207.57,443.83 L209.09,443.90 L207.90,444.85 L208.31,446.32 L207.04,445.48 L205.77,446.32 L206.18,444.85 L204.99,443.90 L206.51,443.83Z" fill="#e00000" stroke="#400" stroke-width="0.45"/>
<path d="M207.04,474.19 L207.57,475.62 L209.09,475.68 L207.90,476.63 L208.31,478.10 L207.04,477.26 L205.77,478.10 L206.18,476.63 L204.99,475.68 L206.51,475.62Z" fill="#1010ff" stroke="none" stroke-width="0"/>
<path d="M211.60,444.00 L212.13,445.42 L213.65,445.49 L212.46,446.44 L212.87,447.90 L211.60,447.06 L210.33,447.90 L210.74,446.44 L209.55,445.49 L211.07,445.42Z" fill="#e00000" stroke="#400" stroke-width="0.45"/>
<path d="M211.60,474.83 L212.13,476.25 L213.65,476.32 L212.46,477.27 L212.87,478.73 L211.60,477.89 L210.33,478.73 L210.74,477.27 L209.55,476.32 L211.07,476.25Z" fill="#1010ff" stroke="none" stroke-width="0"/>
<path d="M216.16,445.62 L216.69,447.04 L218.21,447.11 L217.02,448.06 L217.43,449.52 L216.16,448.68 L214.89,449.52 L215.30,448.06 L214.11,447.11 L215.63,447.04Z" fill="#e00000" stroke="#400" stroke-width="0.45"/>
<path d="M216.16,475.48 L216.69,476.91 L218.21,476.97 L217.02,477.92 L217.43,479.39 L216.16,478.55 L214.89,479.39 L215.30,477.92 L214.11,476.97 L215.63,476.91Z" fill="#1010ff" stroke="none" stroke-width="0"/>
<path d="M220.72,447.23 L221.25,448.65 L222.77,448.72 L221.58,449.67 L221.99,451.13 L220.72,450.29 L219.45,451.13 L219.86,449.67 L218.67,448.72 L220.19,448.65Z" fill="#e00000" stroke="#400" stroke-width="0.45"/>
<path d="M220.72,476.14 L221.25,477.56 L222.77,477.63 L221.58,478.58 L221.99,480.05 L220.72,479.21 L219.45,480.05 L219.86,478.58 L218.67,477.63 L220.19,477.56Z" fill="#1010ff" stroke="none" stroke-width="0"/>
<path d="M225.28,448.88 L225.81,450.30 L227.33,450.37 L226.14,451.32 L226.55,452.78 L225.28,451.94 L224.01,452.78 L224.42,451.32 L223.23,450.37 L224.75,450.30Z" fill="#e00000" stroke="#400" stroke-width="0.45"/>
<path d="M225.28,476.75 L225.81,478.17 L227.33,478.24 L226.14,479.19 L226.55,480.65 L225.28,479.81 L224.01,480.65 L224.42,479.19 L223.23,478.24 L224.75,478.17Z" fill="#1010ff" stroke="none" stroke-width="0"/>
<path d="M229.84,450.61 L230.37,452.03 L231.89,452.10 L230.70,453.05 L231.11,454.51 L229.84,453.67 L228.57,454.51 L228.98,453.05 L227.79,452.10 L229.31,452.03Z" fill="#e00000" stroke="#400" stroke-width="0.45"/>
<path d="M229.84,477.31 L230.37,478.73 L231.89,478.80 L230.70,479.75 L231.11,481.22 L229.84,480.38 L228.57,481.22 L228.98,479.75 L227.79,478.80 L229.31,478.73Z" fill="#1010ff" stroke="none" stroke-width="0"/>
<path d="M234.40,452.40 L234.93,453.83 L236.45,453.90 L235.26,454.84 L235.67,456.31 L234.40,455.47 L233.13,456.31 L233.54,454.84 L232.35,453.90 L233.87,453.83Z" fill="#e00000" stroke="#400" stroke-width="0.45"/>
<path d="M234.40,477.79 L234.93,479.22 L236.45,479.29 L235.26,480.23 L235.67,481.70 L234.40,480.86 L233.13,481.70 L233.54,480.23 L232.35,479.29 L233.87,479.22Z" fill="#1010ff" stroke="none" stroke-width="0"/>
</g>
<rect x="229.6" y="322.3" width="69.1" height="68.9" fill="#fff" stroke="#111" stroke-width="1"/>
<line x1="237.80" y1="339.00" x2="252.70" y2="339.00" stroke="#000" stroke-width="1.2" />
<text x="263.20" y="343.60" font-family="Liberation Sans" font-size="12.6" text-anchor="start" >Ana.</text>
<line x1="237.80" y1="359.50" x2="252.70" y2="359.50" stroke="#ff2020" stroke-width="1.2" />
<text x="263.20" y="364.10" font-family="Liberation Sans" font-size="12.6" text-anchor="start" >CA</text>
<line x1="237.80" y1="379.30" x2="252.70" y2="379.30" stroke="#1a1aff" stroke-width="1.2" />
<text x="263.20" y="383.90" font-family="Liberation Sans" font-size="12.6" text-anchor="start" >RA</text>
<line x1="392.30" y1="501.00" x2="392.30" y2="505.80" stroke="#333" stroke-width="0.75" />
<line x1="392.30" y1="310.60" x2="392.30" y2="305.80" stroke="#888" stroke-width="0.75" />
<line x1="401.35" y1="501.00" x2="401.35" y2="503.40" stroke="#333" stroke-width="0.75" />
<line x1="401.35" y1="310.60" x2="401.35" y2="308.20" stroke="#888" stroke-width="0.75" />
<line x1="410.41" y1="501.00" x2="410.41" y2="503.40" stroke="#333" stroke-width="0.75" />
<line x1="410.41" y1="310.60" x2="410.41" y2="308.20" stroke="#888" stroke-width="0.75" />
<line x1="419.46" y1="501.00" x2="419.46" y2="503.40" stroke="#333" stroke-width="0.75" />
<line x1="419.46" y1="310.60" x2="419.46" y2="308.20" stroke="#888" stroke-width="0.75" />
<line x1="428.51" y1="501.00" x2="428.51" y2="503.40" stroke="#333" stroke-width="0.75" />
<line x1="428.51" y1="310.60" x2="428.51" y2="308.20" stroke="#888" stroke-width="0.75" />
<line x1="437.57" y1="501.00" x2="437.57" y2="505.80" stroke="#333" stroke-width="0.75" />
<line x1="437.57" y1="310.60" x2="437.57" y2="305.80" stroke="#888" stroke-width="0.75" />
<line x1="446.62" y1="501.00" x2="446.62" y2="503.40" stroke="#333" stroke-width="0.75" />
<line x1="446.62" y1="310.60" x2="446.62" y2="308.20" stroke="#888" stroke-width="0.75" />
<line x1="455.67" y1="501.00" x2="455.67" y2="503.40" stroke="#333" stroke-width="0.75" />
<line x1="455.67" y1="310.60" x2="455.67" y2="308.20" stroke="#888" stroke-width="0.75" />
<line x1="464.73" y1="501.00" x2="464.73" y2="503.40" stroke="#333" stroke-width="0.75" />
<line x1="464.73" y1="310.60" x2="464.73" y2="308.20" stroke="#888" stroke-width="0.75" />
<line x1="473.78" y1="501.00" x2="473.78" y2="503.40" stroke="#333" stroke-width="0.75" />
<line x1="473.78" y1="310.60" x2="473.78" y2="308.20" stroke="#888" stroke-width="0.75" />
<line x1="482.83" y1="501.00" x2="482.83" y2="505.80" stroke="#333" stroke-width="0.75" />
<line x1="482.83" y1="310.60" x2="482.83" y2="305.80" stroke="#888" stroke-width="0.75" />
<line x1="491.89" y1="501.00" x2="491.89" y2="503.40" stroke="#333" stroke-width="0.75" />
<line x1="491.89" y1="310.60" x2="491.89" y2="308.20" stroke="#888" stroke-width="0.75" />
<line x1="500.94" y1="501.00" x2="500.94" y2="503.40" stroke="#333" stroke-width="0.75" />
<line x1="500.94" y1="310.60" x2="500.94" y2="308.20" stroke="#888" stroke-width="0.75" />
<line x1="509.99" y1="501.00" x2="509.99" y2="503.40" stroke="#333" stroke-width="0.75" />
<line x1="509.99" y1="310.60" x2="509.99" y2="308.20" stroke="#888" stroke-width="0.75" />
<line x1="519.05" y1="501.00" x2="519.05" y2="503.40" stroke="#333" stroke-width="0.75" />
<line x1="519.05" y1="310.60" x2="519.05" y2="308.20" stroke="#888" stroke-width="0.75" />
<line x1="528.10" y1="501.00" x2="528.10" y2="505.80" stroke="#333" stroke-width="0.75" />
<line x1="528.10" y1="310.60" x2="528.10" y2="305.80" stroke="#888" stroke-width="0.75" />
<line x1="537.15" y1="501.00" x2="537.15" y2="503.40" stroke="#333" stroke-width="0.75" />
<line x1="537.15" y1="310.60" x2="537.15" y2="308.20" stroke="#888" stroke-width="0.75" />
<line x1="546.21" y1="501.00" x2="546.21" y2="503.40" stroke="#333" stroke-width="0.75" />
<line x1="546.21" y1="310.60" x2="546.21" y2="308.20" stroke="#888" stroke-width="0.75" />
<line x1="555.26" y1="501.00" x2="555.26" y2="503.40" stroke="#333" stroke-width="0.75" />
<line x1="555.26" y1="310.60" x2="555.26" y2="308.20" stroke="#888" stroke-width="0.75" />
<line x1="564.31" y1="501.00" x2="564.31" y2="503.40" stroke="#333" stroke-width="0.75" />
<line x1="564.31" y1="310.60" x2="564.31" y2="308.20" stroke="#888" stroke-width="0.75" />
<line x1="573.37" y1="501.00" x2="573.37" y2="505.80" stroke="#333" stroke-width="0.75" />
<line x1="573.37" y1="310.60" x2="573.37" y2="305.80" stroke="#888" stroke-width="0.75" />
<line x1="582.42" y1="501.00" x2="582.42" y2="503.40" stroke="#333" stroke-width="0.75" />
<line x1="582.42" y1="310.60" x2="582.42" y2="308.20" stroke="#888" stroke-width="0.75" />
<line x1="591.47" y1="501.00" x2="591.47" y2="503.40" stroke="#333" stroke-width="0.75" />
<line x1="591.47" y1="310.60" x2="591.47" y2="308.20" stroke="#888" stroke-width="0.75" />
<line x1="600.53" y1="501.00" x2="600.53" y2="503.40" stroke="#333" stroke-width="0.75" />
<line x1="600.53" y1="310.60" x2="600.53" y2="308.20" stroke="#888" stroke-width="0.75" />
<line x1="609.58" y1="501.00" x2="609.58" y2="503.40" stroke="#333" stroke-width="0.75" />
<line x1="609.58" y1="310.60" x2="609.58" y2="308.20" stroke="#888" stroke-width="0.75" />
<line x1="618.63" y1="501.00" x2="618.63" y2="505.80" stroke="#333" stroke-width="0.75" />
<line x1="618.63" y1="310.60" x2="618.63" y2="305.80" stroke="#888" stroke-width="0.75" />
<line x1="627.69" y1="501.00" x2="627.69" y2="503.40" stroke="#333" stroke-width="0.75" />
<line x1="627.69" y1="310.60" x2="627.69" y2="308.20" stroke="#888" stroke-width="0.75" />
<line x1="636.74" y1="501.00" x2="636.74" y2="503.40" stroke="#333" stroke-width="0.75" />
<line x1="636.74" y1="310.60" x2="636.74" y2="308.20" stroke="#888" stroke-width="0.75" />
<line x1="645.79" y1="501.00" x2="645.79" y2="503.40" stroke="#333" stroke-width="0.75" />
<line x1="645.79" y1="310.60" x2="645.79" y2="308.20" stroke="#888" stroke-width="0.75" />
<line x1="654.85" y1="501.00" x2="654.85" y2="503.40" stroke="#333" stroke-width="0.75" />
<line x1="654.85" y1="310.60" x2="654.85" y2="308.20" stroke="#888" stroke-width="0.75" />
<line x1="663.90" y1="501.00" x2="663.90" y2="505.80" stroke="#333" stroke-width="0.75" />
<line x1="663.90" y1="310.60" x2="663.90" y2="305.80" stroke="#888" stroke-width="0.75" />
<line x1="392.30" y1="501.00" x2="387.50" y2="501.00" stroke="#333" stroke-width="0.75" />
<line x1="663.90" y1="501.00" x2="668.70" y2="501.00" stroke="#888" stroke-width="0.75" />
<line x1="392.30" y1="469.27" x2="387.50" y2="469.27" stroke="#333" stroke-width="0.75" />
<line x1="663.90" y1="469.27" x2="668.70" y2="469.27" stroke="#888" stroke-width="0.75" />
<line x1="392.30" y1="437.53" x2="387.50" y2="437.53" stroke="#333" stroke-width="0.75" />
<line x1="663.90" y1="437.53" x2="668.70" y2="437.53" stroke="#888" stroke-width="0.75" />
<line x1="392.30" y1="405.80" x2="387.50" y2="405.80" stroke="#333" stroke-width="0.75" />
<line x1="663.90" y1="405.80" x2="668.70" y2="405.80" stroke="#888" stroke-width="0.75" />
<line x1="392.30" y1="374.07" x2="387.50" y2="374.07" stroke="#333" stroke-width="0.75" />
<line x1="663.90" y1="374.07" x2="668.70" y2="374.07" stroke="#888" stroke-width="0.75" />
<line x1="392.30" y1="342.33" x2="387.50" y2="342.33" stroke="#333" stroke-width="0.75" />
<line x1="663.90" y1="342.33" x2="668.70" y2="342.33" stroke="#888" stroke-width="0.75" />
<line x1="392.30" y1="310.60" x2="387.50" y2="310.60" stroke="#333" stroke-width="0.75" />
<line x1="663.90" y1="310.60" x2="668.70" y2="310.60" stroke="#888" stroke-width="0.75" />
<line x1="392.30" y1="497.83" x2="389.90" y2="497.83" stroke="#333" stroke-width="0.75" />
<line x1="663.90" y1="497.83" x2="666.30" y2="497.83" stroke="#888" stroke-width="0.75" />
<line x1="392.30" y1="494.65" x2="389.90" y2="494.65" stroke="#333" stroke-width="0.75" />
<line x1="663.90" y1="494.65" x2="666.30" y2="494.65" stroke="#888" stroke-width="0.75" />
<line x1="392.30" y1="491.48" x2="389.90" y2="491.48" stroke="#333" stroke-width="0.75" />
<line x1="663.90" y1="491.48" x2="666.30" y2="491.48" stroke="#888" stroke-width="0.75" />
<line x1="392.30" y1="488.31" x2="389.90" y2="488.31" stroke="#333" stroke-width="0.75" />
<line x1="663.90" y1="488.31" x2="666.30" y2="488.31" stroke="#888" stroke-width="0.75" />
<line x1="392.30" y1="485.13" x2="389.90" y2="485.13" stroke="#333" stroke-width="0.75" />
<line x1="663.90" y1="485.13" x2="666.30" y2="485.13" stroke="#888" stroke-width="0.75" />
<line x1="392.30" y1="481.96" x2="389.90" y2="481.96" stroke="#333" stroke-width="0.75" />
<line x1="663.90" y1="481.96" x2="666.30" y2="481.96" stroke="#888" stroke-width="0.75" />
<line x1="392.30" y1="478.79" x2="389.90" y2="478.79" stroke="#333" stroke-width="0.75" />
<line x1="663.90" y1="478.79" x2="666.30" y2="478.79" stroke="#888" stroke-width="0.75" />
<line x1="392.30" y1="475.61" x2="389.90" y2="475.61" stroke="#333" stroke-width="0.75" />
<line x1="663.90" y1="475.61" x2="666.30" y2="475.61" stroke="#888" stroke-width="0.75" />
<line x1="392.30" y1="472.44" x2="389.90" y2="472.44" stroke="#333" stroke-width="0.75" />
<line x1="663.90" y1="472.44" x2="666.30" y2="472.44" stroke="#888" stroke-width="0.75" />
<line x1="392.30" y1="466.09" x2="389.90" y2="466.09" stroke="#333" stroke-width="0.75" />
<line x1="663.90" y1="466.09" x2="666.30" y2="466.09" stroke="#888" stroke-width="0.75" />
<line x1="392.30" y1="462.92" x2="389.90" y2="462.92" stroke="#333" stroke-width="0.75" />
<line x1="663.90" y1="462.92" x2="666.30" y2="462.92" stroke="#888" stroke-width="0.75" />
<line x1="392.30" y1="459.75" x2="389.90" y2="459.75" stroke="#333" stroke-width="0.75" />
<line x1="663.90" y1="459.75" x2="666.30" y2="459.75" stroke="#888" stroke-width="0.75" />
<line x1="392.30" y1="456.57" x2="389.90" y2="456.57" stroke="#333" stroke-width="0.75" />
<line x1="663.90" y1="456.57" x2="666.30" y2="456.57" stroke="#888" stroke-width="0.75" />
<line x1="392.30" y1="453.40" x2="389.90" y2="453.40" stroke="#333" stroke-width="0.75" />
<line x1="663.90" y1="453.40" x2="666.30" y2="453.40" stroke="#888" stroke-width="0.75" />
<line x1="392.30" y1="450.23" x2="389.90" y2="450.23" stroke="#333" stroke-width="0.75" />
<line x1="663.90" y1="450.23" x2="666.30" y2="450.23" stroke="#888" stroke-width="0.75" />
<line x1="392.30" y1="447.05" x2="389.90" y2="447.05" stroke="#333" stroke-width="0.75" />
<line x1="663.90" y1="447.05" x2="666.30" y2="447.05" stroke="#888" stroke-width="0.75" />
<line x1="392.30" y1="443.88" x2="389.90" y2="443.88" stroke="#333" stroke-width="0.75" />
<line x1="663.90" y1="443.88" x2="666.30" y2="443.88" stroke="#888" stroke-width="0.75" />
<line x1="392.30" y1="440.71" x2="389.90" y2="440.71" stroke="#333" stroke-width="0.75" />
<line x1="663.90" y1="440.71" x2="666.30" y2="440.71" stroke="#888" stroke-width="0.75" />
<line x1="392.30" y1="434.36" x2="389.90" y2="434.36" stroke="#333" stroke-width="0.75" />
<line x1="663.90" y1="434.36" x2="666.30" y2="434.36" stroke="#888" stroke-width="0.75" />
<line x1="392.30" y1="431.19" x2="389.90" y2="431.19" stroke="#333" stroke-width="0.75" />
<line x1="663.90" y1="431.19" x2="666.30" y2="431.19" stroke="#888" stroke-width="0.75" />
<line x1="392.30" y1="428.01" x2="389.90" y2="428.01" stroke="#333" stroke-width="0.75" />
<line x1="663.90" y1="428.01" x2="666.30" y2="428.01" stroke="#888" stroke-width="0.75" />
<line x1="392.30" y1="424.84" x2="389.90" y2="424.84" stroke="#333" stroke-width="0.75" />
<line x1="663.90" y1="424.84" x2="666.30" y2="424.84" stroke="#888" stroke-width="0.75" />
<line x1="392.30" y1="421.67" x2="389.90" y2="421.67" stroke="#333" stroke-width="0.75" />
<line x1="663.90" y1="421.67" x2="666.30" y2="421.67" stroke="#888" stroke-width="0.75" />
<line x1="392.30" y1="418.49" x2="389.90" y2="418.49" stroke="#333" stroke-width="0.75" />
<line x1="663.90" y1="418.49" x2="666.30" y2="418.49" stroke="#888" stroke-width="0.75" />
<line x1="392.30" y1="415.32" x2="389.90" y2="415.32" stroke="#333" stroke-width="0.75" />
<line x1="663.90" y1="415.32" x2="666.30" y2="415.32" stroke="#888" stroke-width="0.75" />
<line x1="392.30" y1="412.15" x2="389.90" y2="412.15" stroke="#333" stroke-width="0.75" />
<line x1="663.90" y1="412.15" x2="666.30" y2="412.15" stroke="#888" stroke-width="0.75" />
<line x1="392.30" y1="408.97" x2="389.90" y2="408.97" stroke="#333" stroke-width="0.75" />
<line x1="663.90" y1="408.97" x2="666.30" y2="408.97" stroke="#888" stroke-width="0.75" />
<line x1="392.30" y1="402.63" x2="389.90" y2="402.63" stroke="#333" stroke-width="0.75" />
<line x1="663.90" y1="402.63" x2="666.30" y2="402.63" stroke="#888" stroke-width="0.75" />
<line x1="392.30" y1="399.45" x2="389.90" y2="399.45" stroke="#333" stroke-width="0.75" />
<line x1="663.90" y1="399.45" x2="666.30" y2="399.45" stroke="#888" stroke-width="0.75" />
<line x1="392.30" y1="396.28" x2="389.90" y2="396.28" stroke="#333" stroke-width="0.75" />
<line x1="663.90" y1="396.28" x2="666.30" y2="396.28" stroke="#888" stroke-width="0.75" />
<line x1="392.30" y1="393.11" x2="389.90" y2="393.11" stroke="#333" stroke-width="0.75" />
<line x1="663.90" y1="393.11" x2="666.30" y2="393.11" stroke="#888" stroke-width="0.75" />
<line x1="392.30" y1="389.93" x2="389.90" y2="389.93" stroke="#333" stroke-width="0.75" />
<line x1="663.90" y1="389.93" x2="666.30" y2="389.93" stroke="#888" stroke-width="0.75" />
<line x1="392.30" y1="386.76" x2="389.90" y2="386.76" stroke="#333" stroke-width="0.75" />
<line x1="663.90" y1="386.76" x2="666.30" y2="386.76" stroke="#888" stroke-width="0.75" />
<line x1="392.30" y1="383.59" x2="389.90" y2="383.59" stroke="#333" stroke-width="0.75" />
<line x1="663.90" y1="383.59" x2="666.30" y2="383.59" stroke="#888" stroke-width="0.75" />
<line x1="392.30" y1="380.41" x2="389.90" y2="380.41" stroke="#333" stroke-width="0.75" />
<line x1="663.90" y1="380.41" x2="666.30" y2="380.41" stroke="#888" stroke-width="0.75" />
<line x1="392.30" y1="377.24" x2="389.90" y2="377.24" stroke="#333" stroke-width="0.75" />
<line x1="663.90" y1="377.24" x2="666.30" y2="377.24" stroke="#888" stroke-width="0.75" />
<line x1="392.30" y1="370.89" x2="389.90" y2="370.89" stroke="#333" stroke-width="0.75" />
<line x1="663.90" y1="370.89" x2="666.30" y2="370.89" stroke="#888" stroke-width="0.75" />
<line x1="392.30" y1="367.72" x2="389.90" y2="367.72" stroke="#333" stroke-width="0.75" />
<line x1="663.90" y1="367.72" x2="666.30" y2="367.72" stroke="#888" stroke-width="0.75" />
<line x1="392.30" y1="364.55" x2="389.90" y2="364.55" stroke="#333" stroke-width="0.75" />
<line x1="663.90" y1="364.55" x2="666.30" y2="364.55" stroke="#888" stroke-width="0.75" />
<line x1="392.30" y1="361.37" x2="389.90" y2="361.37" stroke="#333" stroke-width="0.75" />
<line x1="663.90" y1="361.37" x2="666.30" y2="361.37" stroke="#888" stroke-width="0.75" />
<line x1="392.30" y1="358.20" x2="389.90" y2="358.20" stroke="#333" stroke-width="0.75" />
<line x1="663.90" y1="358.20" x2="666.30" y2="358.20" stroke="#888" stroke-width="0.75" />
<line x1="392.30" y1="355.03" x2="389.90" y2="355.03" stroke="#333" stroke-width="0.75" />
<line x1="663.90" y1="355.03" x2="666.30" y2="355.03" stroke="#888" stroke-width="0.75" />
<line x1="392.30" y1="351.85" x2="389.90" y2="351.85" stroke="#333" stroke-width="0.75" />
<line x1="663.90" y1="351.85" x2="666.30" y2="351.85" stroke="#888" stroke-width="0.75" />
<line x1="392.30" y1="348.68" x2="389.90" y2="348.68" stroke="#333" stroke-width="0.75" />
<line x1="663.90" y1="348.68" x2="666.30" y2="348.68" stroke="#888" stroke-width="0.75" />
<line x1="392.30" y1="345.51" x2="389.90" y2="345.51" stroke="#333" stroke-width="0.75" />
<line x1="663.90" y1="345.51" x2="666.30" y2="345.51" stroke="#888" stroke-width="0.75" />
<line x1="392.30" y1="339.16" x2="389.90" y2="339.16" stroke="#333" stroke-width="0.75" />
<line x1="663.90" y1="339.16" x2="666.30" y2="339.16" stroke="#888" stroke-width="0.75" />
<line x1="392.30" y1="335.99" x2="389.90" y2="335.99" stroke="#333" stroke-width="0.75" />
<line x1="663.90" y1="335.99" x2="666.30" y2="335.99" stroke="#888" stroke-width="0.75" />
<line x1="392.30" y1="332.81" x2="389.90" y2="332.81" stroke="#333" stroke-width="0.75" />
<line x1="663.90" y1="332.81" x2="666.30" y2="332.81" stroke="#888" stroke-width="0.75" />
<line x1="392.30" y1="329.64" x2="389.90" y2="329.64" stroke="#333" stroke-width="0.75" />
<line x1="663.90" y1="329.64" x2="666.30" y2="329.64" stroke="#888" stroke-width="0.75" />
<line x1="392.30" y1="326.47" x2="389.90" y2="326.47" stroke="#333" stroke-width="0.75" />
<line x1="663.90" y1="326.47" x2="666.30" y2="326.47" stroke="#888" stroke-width="0.75" />
<line x1="392.30" y1="323.29" x2="389.90" y2="323.29" stroke="#333" stroke-width="0.75" />
<line x1="663.90" y1="323.29" x2="666.30" y2="323.29" stroke="#888" stroke-width="0.75" />
<line x1="392.30" y1="320.12" x2="389.90" y2="320.12" stroke="#333" stroke-width="0.75" />
<line x1="663.90" y1="320.12" x2="666.30" y2="320.12" stroke="#888" stroke-width="0.75" />
<line x1="392.30" y1="316.95" x2="389.90" y2="316.95" stroke="#333" stroke-width="0.75" />
<line x1="663.90" y1="316.95" x2="666.30" y2="316.95" stroke="#888" stroke-width="0.75" />
<line x1="392.30" y1="313.77" x2="389.90" y2="313.77" stroke="#333" stroke-width="0.75" />
<line x1="663.90" y1="313.77" x2="666.30" y2="313.77" stroke="#888" stroke-width="0.75" />
<rect x="392.30" y="310.60" width="271.60" height="190.40" fill="none" stroke="#000" stroke-width="1.6"/>
<text x="392.30" y="518.80" font-family="Liberation Sans" font-size="12" text-anchor="middle" >0</text>
<text x="437.57" y="518.80" font-family="Liberation Sans" font-size="12" text-anchor="middle" >500</text>
<text x="482.83" y="518.80" font-family="Liberation Sans" font-size="12" text-anchor="middle" >1000</text>
<text x="528.10" y="518.80" font-family="Liberation Sans" font-size="12" text-anchor="middle" >1500</text>
<text x="573.37" y="518.80" font-family="Liberation Sans" font-size="12" text-anchor="middle" >2000</text>
<text x="618.63" y="518.80" font-family="Liberation Sans" font-size="12" text-anchor="middle" >2500</text>
<text x="663.90" y="518.80" font-family="Liberation Sans" font-size="12" text-anchor="middle" >3000</text>
<text x="382.30" y="505.60" font-family="Liberation Sans" font-size="12" text-anchor="end">0</text>
<text x="382.30" y="473.87" font-family="Liberation Sans" font-size="12" text-anchor="end">10</text>
<text x="382.30" y="442.13" font-family="Liberation Sans" font-size="12" text-anchor="end">20</text>
<text x="382.30" y="410.40" font-family="Liberation Sans" font-size="12" text-anchor="end">30</text>
<text x="382.30" y="378.67" font-family="Liberation Sans" font-size="12" text-anchor="end">40</text>
<text x="382.30" y="346.93" font-family="Liberation Sans" font-size="12" text-anchor="end">50</text>
<text x="382.30" y="315.20" font-family="Liberation Sans" font-size="12" text-anchor="end">60</text>
<text font-family="Liberation Sans" font-size="15.6" transform="translate(416.50,541.60) scale(0.968,1)">Source–Receiver Separation [m]</text>
<text x="0" y="0" font-family="Liberation Sans" font-size="15.5" text-anchor="middle" transform="translate(361.30,405.80) rotate(-90)">Relative Error [%]</text>
<text class="s" x="389.50" y="297.50" font-family="Liberation Serif" font-size="21" text-anchor="start" >(d)</text>
<line x1="392.3" y1="485.13" x2="663.9" y2="485.13" stroke="#444" stroke-width="1.3" stroke-dasharray="7.3,4.15"/>
<clipPath id="cd"><rect x="392.3" y="310.6" width="273.59999999999997" height="190.39999999999998"/></clipPath>
<g clip-path="url(#cd)">
<path d="M396.83,399.38 L397.39,400.89 L399.01,400.97 L397.74,401.97 L398.18,403.53 L396.83,402.64 L395.48,403.53 L395.91,401.97 L394.64,400.97 L396.26,400.89Z" fill="#c41010" stroke="#550000" stroke-width="0.4"/>
<path d="M396.83,317.82 L397.39,319.34 L399.01,319.41 L397.74,320.42 L398.18,321.98 L396.83,321.08 L395.48,321.98 L395.91,320.42 L394.64,319.41 L396.26,319.34Z" fill="#1010ff" stroke="none" stroke-width="0"/>
<path d="M401.35,472.05 L401.92,473.56 L403.54,473.63 L402.27,474.64 L402.70,476.20 L401.35,475.31 L400.00,476.20 L400.44,474.64 L399.17,473.63 L400.79,473.56Z" fill="#c41010" stroke="#550000" stroke-width="0.4"/>
<path d="M401.35,431.75 L401.92,433.26 L403.54,433.33 L402.27,434.34 L402.70,435.90 L401.35,435.01 L400.00,435.90 L400.44,434.34 L399.17,433.33 L400.79,433.26Z" fill="#1010ff" stroke="none" stroke-width="0"/>
<path d="M405.88,487.60 L406.45,489.11 L408.06,489.18 L406.80,490.19 L407.23,491.75 L405.88,490.86 L404.53,491.75 L404.96,490.19 L403.70,489.18 L405.31,489.11Z" fill="#c41010" stroke="#550000" stroke-width="0.4"/>
<path d="M405.88,468.24 L406.45,469.76 L408.06,469.83 L406.80,470.83 L407.23,472.39 L405.88,471.50 L404.53,472.39 L404.96,470.83 L403.70,469.83 L405.31,469.76Z" fill="#1010ff" stroke="none" stroke-width="0"/>
<path d="M410.41,491.72 L410.97,493.24 L412.59,493.31 L411.32,494.32 L411.76,495.88 L410.41,494.98 L409.06,495.88 L409.49,494.32 L408.22,493.31 L409.84,493.24Z" fill="#c41010" stroke="#550000" stroke-width="0.4"/>
<path d="M410.41,479.35 L410.97,480.86 L412.59,480.93 L411.32,481.94 L411.76,483.50 L410.41,482.61 L409.06,483.50 L409.49,481.94 L408.22,480.93 L409.84,480.86Z" fill="#1010ff" stroke="none" stroke-width="0"/>
<path d="M414.93,493.31 L415.50,494.83 L417.12,494.90 L415.85,495.90 L416.28,497.46 L414.93,496.57 L413.58,497.46 L414.02,495.90 L412.75,494.90 L414.37,494.83Z" fill="#c41010" stroke="#550000" stroke-width="0.4"/>
<path d="M414.93,483.79 L415.50,485.31 L417.12,485.38 L415.85,486.38 L416.28,487.94 L414.93,487.05 L413.58,487.94 L414.02,486.38 L412.75,485.38 L414.37,485.31Z" fill="#1010ff" stroke="none" stroke-width="0"/>
<path d="M419.46,494.26 L420.03,495.78 L421.64,495.85 L420.38,496.86 L420.81,498.41 L419.46,497.52 L418.11,498.41 L418.54,496.86 L417.28,495.85 L418.89,495.78Z" fill="#c41010" stroke="#550000" stroke-width="0.4"/>
<path d="M419.46,486.65 L420.03,488.16 L421.64,488.23 L420.38,489.24 L420.81,490.80 L419.46,489.91 L418.11,490.80 L418.54,489.24 L417.28,488.23 L418.89,488.16Z" fill="#1010ff" stroke="none" stroke-width="0"/>
<path d="M423.99,494.90 L424.55,496.41 L426.17,496.48 L424.90,497.49 L425.34,499.05 L423.99,498.16 L422.64,499.05 L423.07,497.49 L421.80,496.48 L423.42,496.41Z" fill="#c41010" stroke="#550000" stroke-width="0.4"/>
<path d="M423.99,488.87 L424.55,490.38 L426.17,490.45 L424.90,491.46 L425.34,493.02 L423.99,492.13 L422.64,493.02 L423.07,491.46 L421.80,490.45 L423.42,490.38Z" fill="#1010ff" stroke="none" stroke-width="0"/>
<path d="M428.51,495.53 L429.08,497.05 L430.70,497.12 L429.43,498.12 L429.86,499.68 L428.51,498.79 L427.16,499.68 L427.60,498.12 L426.33,497.12 L427.95,497.05Z" fill="#c41010" stroke="#550000" stroke-width="0.4"/>
<path d="M428.51,490.45 L429.08,491.97 L430.70,492.04 L429.43,493.05 L429.86,494.61 L428.51,493.71 L427.16,494.61 L427.60,493.05 L426.33,492.04 L427.95,491.97Z" fill="#1010ff" stroke="none" stroke-width="0"/>
<path d="M433.04,495.87 L433.61,497.38 L435.22,497.45 L433.96,498.46 L434.39,500.02 L433.04,499.13 L431.69,500.02 L432.12,498.46 L430.86,497.45 L432.47,497.38Z" fill="#c41010" stroke="#550000" stroke-width="0.4"/>
<path d="M433.04,491.41 L433.61,492.92 L435.22,492.99 L433.96,494.00 L434.39,495.56 L433.04,494.67 L431.69,495.56 L432.12,494.00 L430.86,492.99 L432.47,492.92Z" fill="#1010ff" stroke="none" stroke-width="0"/>
<path d="M437.57,496.17 L438.13,497.68 L439.75,497.75 L438.48,498.76 L438.92,500.32 L437.57,499.43 L436.22,500.32 L436.65,498.76 L435.38,497.75 L437.00,497.68Z" fill="#c41010" stroke="#550000" stroke-width="0.4"/>
<path d="M437.57,492.36 L438.13,493.87 L439.75,493.94 L438.48,494.95 L438.92,496.51 L437.57,495.62 L436.22,496.51 L436.65,494.95 L435.38,493.94 L437.00,493.87Z" fill="#1010ff" stroke="none" stroke-width="0"/>
<path d="M442.09,496.12 L442.66,497.63 L444.28,497.70 L443.01,498.71 L443.44,500.27 L442.09,499.37 L440.74,500.27 L441.18,498.71 L439.91,497.70 L441.53,497.63Z" fill="#c41010" stroke="#550000" stroke-width="0.4"/>
<path d="M442.09,492.68 L442.66,494.20 L444.28,494.27 L443.01,495.28 L443.44,496.84 L442.09,495.94 L440.74,496.84 L441.18,495.28 L439.91,494.27 L441.53,494.20Z" fill="#1010ff" stroke="none" stroke-width="0"/>
<path d="M446.62,496.06 L447.19,497.58 L448.80,497.65 L447.54,498.66 L447.97,500.22 L446.62,499.32 L445.27,500.22 L445.70,498.66 L444.44,497.65 L446.05,497.58Z" fill="#c41010" stroke="#550000" stroke-width="0.4"/>
<path d="M446.62,492.99 L447.19,494.51 L448.80,494.58 L447.54,495.59 L447.97,497.14 L446.62,496.25 L445.27,497.14 L445.70,495.59 L444.44,494.58 L446.05,494.51Z" fill="#1010ff" stroke="none" stroke-width="0"/>
<path d="M451.15,496.01 L451.71,497.53 L453.33,497.60 L452.06,498.61 L452.50,500.16 L451.15,499.27 L449.80,500.16 L450.23,498.61 L448.96,497.60 L450.58,497.53Z" fill="#c41010" stroke="#550000" stroke-width="0.4"/>
<path d="M451.15,492.92 L451.71,494.43 L453.33,494.50 L452.06,495.51 L452.50,497.07 L451.15,496.17 L449.80,497.07 L450.23,495.51 L448.96,494.50 L450.58,494.43Z" fill="#1010ff" stroke="none" stroke-width="0"/>
<path d="M455.67,495.96 L456.24,497.47 L457.86,497.54 L456.59,498.55 L457.02,500.11 L455.67,499.22 L454.32,500.11 L454.76,498.55 L453.49,497.54 L455.11,497.47Z" fill="#c41010" stroke="#550000" stroke-width="0.4"/>
<path d="M455.67,492.84 L456.24,494.35 L457.86,494.42 L456.59,495.43 L457.02,496.99 L455.67,496.10 L454.32,496.99 L454.76,495.43 L453.49,494.42 L455.11,494.35Z" fill="#1010ff" stroke="none" stroke-width="0"/>
<path d="M460.20,495.90 L460.77,497.42 L462.38,497.49 L461.12,498.50 L461.55,500.06 L460.20,499.16 L458.85,500.06 L459.28,498.50 L458.02,497.49 L459.63,497.42Z" fill="#c41010" stroke="#550000" stroke-width="0.4"/>
<path d="M460.20,492.76 L460.77,494.27 L462.38,494.34 L461.12,495.35 L461.55,496.91 L460.20,496.02 L458.85,496.91 L459.28,495.35 L458.02,494.34 L459.63,494.27Z" fill="#1010ff" stroke="none" stroke-width="0"/>
<path d="M464.73,495.85 L465.29,497.36 L466.91,497.43 L465.64,498.44 L466.08,500.00 L464.73,499.11 L463.38,500.00 L463.81,498.44 L462.54,497.43 L464.16,497.36Z" fill="#c41010" stroke="#550000" stroke-width="0.4"/>
<path d="M464.73,492.68 L465.29,494.19 L466.91,494.26 L465.64,495.27 L466.08,496.83 L464.73,495.93 L463.38,496.83 L463.81,495.27 L462.54,494.26 L464.16,494.19Z" fill="#1010ff" stroke="none" stroke-width="0"/>
<path d="M469.25,495.52 L469.82,497.03 L471.44,497.10 L470.17,498.11 L470.60,499.67 L469.25,498.77 L467.90,499.67 L468.34,498.11 L467.07,497.10 L468.69,497.03Z" fill="#c41010" stroke="#550000" stroke-width="0.4"/>
<path d="M469.25,492.52 L469.82,494.03 L471.44,494.10 L470.17,495.11 L470.60,496.67 L469.25,495.78 L467.90,496.67 L468.34,495.11 L467.07,494.10 L468.69,494.03Z" fill="#1010ff" stroke="none" stroke-width="0"/>
<path d="M473.78,495.14 L474.35,496.66 L475.96,496.73 L474.70,497.74 L475.13,499.29 L473.78,498.40 L472.43,499.29 L472.86,497.74 L471.60,496.73 L473.21,496.66Z" fill="#c41010" stroke="#550000" stroke-width="0.4"/>
<path d="M473.78,492.36 L474.35,493.87 L475.96,493.94 L474.70,494.95 L475.13,496.51 L473.78,495.62 L472.43,496.51 L472.86,494.95 L471.60,493.94 L473.21,493.87Z" fill="#1010ff" stroke="none" stroke-width="0"/>
<path d="M478.31,494.73 L478.87,496.24 L480.49,496.31 L479.22,497.32 L479.66,498.88 L478.31,497.99 L476.96,498.88 L477.39,497.32 L476.12,496.31 L477.74,496.24Z" fill="#c41010" stroke="#550000" stroke-width="0.4"/>
<path d="M478.31,492.06 L478.87,493.57 L480.49,493.64 L479.22,494.65 L479.66,496.21 L478.31,495.31 L476.96,496.21 L477.39,494.65 L476.12,493.64 L477.74,493.57Z" fill="#1010ff" stroke="none" stroke-width="0"/>
<path d="M482.83,494.26 L483.40,495.78 L485.02,495.85 L483.75,496.86 L484.18,498.41 L482.83,497.52 L481.48,498.41 L481.92,496.86 L480.65,495.85 L482.27,495.78Z" fill="#c41010" stroke="#550000" stroke-width="0.4"/>
<path d="M482.83,491.74 L483.40,493.25 L485.02,493.32 L483.75,494.33 L484.18,495.89 L482.83,495.00 L481.48,495.89 L481.92,494.33 L480.65,493.32 L482.27,493.25Z" fill="#1010ff" stroke="none" stroke-width="0"/>
<path d="M487.36,493.88 L487.93,495.39 L489.54,495.46 L488.28,496.47 L488.71,498.03 L487.36,497.14 L486.01,498.03 L486.44,496.47 L485.18,495.46 L486.79,495.39Z" fill="#c41010" stroke="#550000" stroke-width="0.4"/>
<path d="M487.36,491.41 L487.93,492.92 L489.54,492.99 L488.28,494.00 L488.71,495.56 L487.36,494.67 L486.01,495.56 L486.44,494.00 L485.18,492.99 L486.79,492.92Z" fill="#1010ff" stroke="none" stroke-width="0"/>
<path d="M491.89,493.46 L492.45,494.98 L494.07,495.05 L492.80,496.06 L493.24,497.61 L491.89,496.72 L490.54,497.61 L490.97,496.06 L489.70,495.05 L491.32,494.98Z" fill="#c41010" stroke="#550000" stroke-width="0.4"/>
<path d="M491.89,490.77 L492.45,492.28 L494.07,492.35 L492.80,493.36 L493.24,494.92 L491.89,494.03 L490.54,494.92 L490.97,493.36 L489.70,492.35 L491.32,492.28Z" fill="#1010ff" stroke="none" stroke-width="0"/>
<path d="M496.41,493.01 L496.98,494.53 L498.60,494.60 L497.33,495.60 L497.76,497.16 L496.41,496.27 L495.06,497.16 L495.50,495.60 L494.23,494.60 L495.85,494.53Z" fill="#c41010" stroke="#550000" stroke-width="0.4"/>
<path d="M496.41,490.07 L496.98,491.59 L498.60,491.66 L497.33,492.66 L497.76,494.22 L496.41,493.33 L495.06,494.22 L495.50,492.66 L494.23,491.66 L495.85,491.59Z" fill="#1010ff" stroke="none" stroke-width="0"/>
<path d="M500.94,492.52 L501.51,494.03 L503.12,494.11 L501.86,495.11 L502.29,496.67 L500.94,495.78 L499.59,496.67 L500.02,495.11 L498.76,494.11 L500.37,494.03Z" fill="#c41010" stroke="#550000" stroke-width="0.4"/>
<path d="M500.94,489.32 L501.51,490.83 L503.12,490.90 L501.86,491.91 L502.29,493.47 L500.94,492.57 L499.59,493.47 L500.02,491.91 L498.76,490.90 L500.37,490.83Z" fill="#1010ff" stroke="none" stroke-width="0"/>
<path d="M505.47,491.99 L506.03,493.50 L507.65,493.57 L506.38,494.58 L506.82,496.14 L505.47,495.24 L504.12,496.14 L504.55,494.58 L503.28,493.57 L504.90,493.50Z" fill="#c41010" stroke="#550000" stroke-width="0.4"/>
<path d="M505.47,488.49 L506.03,490.01 L507.65,490.08 L506.38,491.09 L506.82,492.64 L505.47,491.75 L504.12,492.64 L504.55,491.09 L503.28,490.08 L504.90,490.01Z" fill="#1010ff" stroke="none" stroke-width="0"/>
<path d="M509.99,491.41 L510.56,492.92 L512.18,492.99 L510.91,494.00 L511.34,495.56 L509.99,494.67 L508.64,495.56 L509.08,494.00 L507.81,492.99 L509.43,492.92Z" fill="#c41010" stroke="#550000" stroke-width="0.4"/>
<path d="M509.99,487.60 L510.56,489.11 L512.18,489.18 L510.91,490.19 L511.34,491.75 L509.99,490.86 L508.64,491.75 L509.08,490.19 L507.81,489.18 L509.43,489.11Z" fill="#1010ff" stroke="none" stroke-width="0"/>
<path d="M514.52,490.49 L515.09,492.00 L516.70,492.07 L515.44,493.08 L515.87,494.64 L514.52,493.74 L513.17,494.64 L513.60,493.08 L512.34,492.07 L513.95,492.00Z" fill="#c41010" stroke="#550000" stroke-width="0.4"/>
<path d="M514.52,486.62 L515.09,488.14 L516.70,488.21 L515.44,489.22 L515.87,490.78 L514.52,489.88 L513.17,490.78 L513.60,489.22 L512.34,488.21 L513.95,488.14Z" fill="#1010ff" stroke="none" stroke-width="0"/>
<path d="M519.05,489.45 L519.61,490.96 L521.23,491.03 L519.96,492.04 L520.40,493.60 L519.05,492.71 L517.70,493.60 L518.13,492.04 L516.86,491.03 L518.48,490.96Z" fill="#c41010" stroke="#550000" stroke-width="0.4"/>
<path d="M519.05,485.56 L519.61,487.08 L521.23,487.15 L519.96,488.16 L520.40,489.72 L519.05,488.82 L517.70,489.72 L518.13,488.16 L516.86,487.15 L518.48,487.08Z" fill="#1010ff" stroke="none" stroke-width="0"/>
<path d="M523.57,488.28 L524.14,489.79 L525.76,489.87 L524.49,490.87 L524.92,492.43 L523.57,491.54 L522.22,492.43 L522.66,490.87 L521.39,489.87 L523.01,489.79Z" fill="#c41010" stroke="#550000" stroke-width="0.4"/>
<path d="M523.57,484.41 L524.14,485.93 L525.76,486.00 L524.49,487.00 L524.92,488.56 L523.57,487.67 L522.22,488.56 L522.66,487.00 L521.39,486.00 L523.01,485.93Z" fill="#1010ff" stroke="none" stroke-width="0"/>
<path d="M528.10,486.96 L528.67,488.48 L530.28,488.55 L529.02,489.56 L529.45,491.12 L528.10,490.22 L526.75,491.12 L527.18,489.56 L525.92,488.55 L527.53,488.48Z" fill="#c41010" stroke="#550000" stroke-width="0.4"/>
<path d="M528.10,483.16 L528.67,484.67 L530.28,484.74 L529.02,485.75 L529.45,487.31 L528.10,486.41 L526.75,487.31 L527.18,485.75 L525.92,484.74 L527.53,484.67Z" fill="#1010ff" stroke="none" stroke-width="0"/>
<path d="M532.63,485.68 L533.19,487.20 L534.81,487.27 L533.54,488.27 L533.98,489.83 L532.63,488.94 L531.28,489.83 L531.71,488.27 L530.44,487.27 L532.06,487.20Z" fill="#c41010" stroke="#550000" stroke-width="0.4"/>
<path d="M532.63,481.71 L533.19,483.22 L534.81,483.29 L533.54,484.30 L533.98,485.86 L532.63,484.96 L531.28,485.86 L531.71,484.30 L530.44,483.29 L532.06,483.22Z" fill="#1010ff" stroke="none" stroke-width="0"/>
<path d="M537.15,484.26 L537.72,485.78 L539.34,485.85 L538.07,486.85 L538.50,488.41 L537.15,487.52 L535.80,488.41 L536.24,486.85 L534.97,485.85 L536.59,485.78Z" fill="#c41010" stroke="#550000" stroke-width="0.4"/>
<path d="M537.15,480.12 L537.72,481.64 L539.34,481.71 L538.07,482.71 L538.50,484.27 L537.15,483.38 L535.80,484.27 L536.24,482.71 L534.97,481.71 L536.59,481.64Z" fill="#1010ff" stroke="none" stroke-width="0"/>
<path d="M541.68,482.68 L542.25,484.20 L543.86,484.27 L542.60,485.28 L543.03,486.84 L541.68,485.94 L540.33,486.84 L540.76,485.28 L539.50,484.27 L541.11,484.20Z" fill="#c41010" stroke="#550000" stroke-width="0.4"/>
<path d="M541.68,478.39 L542.25,479.90 L543.86,479.97 L542.60,480.98 L543.03,482.54 L541.68,481.65 L540.33,482.54 L540.76,480.98 L539.50,479.97 L541.11,479.90Z" fill="#1010ff" stroke="none" stroke-width="0"/>
<path d="M546.21,480.93 L546.77,482.45 L548.39,482.52 L547.12,483.53 L547.56,485.09 L546.21,484.19 L544.86,485.09 L545.29,483.53 L544.02,482.52 L545.64,482.45Z" fill="#c41010" stroke="#550000" stroke-width="0.4"/>
<path d="M546.21,476.49 L546.77,478.01 L548.39,478.08 L547.12,479.08 L547.56,480.64 L546.21,479.75 L544.86,480.64 L545.29,479.08 L544.02,478.08 L545.64,478.01Z" fill="#1010ff" stroke="none" stroke-width="0"/>
<path d="M550.73,478.08 L551.30,479.59 L552.92,479.66 L551.65,480.67 L552.08,482.23 L550.73,481.34 L549.38,482.23 L549.82,480.67 L548.55,479.66 L550.17,479.59Z" fill="#c41010" stroke="#550000" stroke-width="0.4"/>
<path d="M550.73,471.10 L551.30,472.61 L552.92,472.68 L551.65,473.69 L552.08,475.25 L550.73,474.36 L549.38,475.25 L549.82,473.69 L548.55,472.68 L550.17,472.61Z" fill="#1010ff" stroke="none" stroke-width="0"/>
<path d="M555.26,473.95 L555.83,475.47 L557.44,475.54 L556.18,476.55 L556.61,478.10 L555.26,477.21 L553.91,478.10 L554.34,476.55 L553.08,475.54 L554.69,475.47Z" fill="#c41010" stroke="#550000" stroke-width="0.4"/>
<path d="M555.26,466.34 L555.83,467.85 L557.44,467.92 L556.18,468.93 L556.61,470.49 L555.26,469.60 L553.91,470.49 L554.34,468.93 L553.08,467.92 L554.69,467.85Z" fill="#1010ff" stroke="none" stroke-width="0"/>
<path d="M559.79,469.51 L560.35,471.03 L561.97,471.10 L560.70,472.10 L561.14,473.66 L559.79,472.77 L558.44,473.66 L558.87,472.10 L557.60,471.10 L559.22,471.03Z" fill="#c41010" stroke="#550000" stroke-width="0.4"/>
<path d="M559.79,461.89 L560.35,463.41 L561.97,463.48 L560.70,464.49 L561.14,466.05 L559.79,465.15 L558.44,466.05 L558.87,464.49 L557.60,463.48 L559.22,463.41Z" fill="#1010ff" stroke="none" stroke-width="0"/>
<path d="M564.31,463.80 L564.88,465.31 L566.50,465.38 L565.23,466.39 L565.66,467.95 L564.31,467.06 L562.96,467.95 L563.40,466.39 L562.13,465.38 L563.75,465.31Z" fill="#c41010" stroke="#550000" stroke-width="0.4"/>
<path d="M564.31,456.18 L564.88,457.70 L566.50,457.77 L565.23,458.78 L565.66,460.33 L564.31,459.44 L562.96,460.33 L563.40,458.78 L562.13,457.77 L563.75,457.70Z" fill="#1010ff" stroke="none" stroke-width="0"/>
<path d="M568.84,455.87 L569.41,457.38 L571.02,457.45 L569.76,458.46 L570.19,460.02 L568.84,459.12 L567.49,460.02 L567.92,458.46 L566.66,457.45 L568.27,457.38Z" fill="#c41010" stroke="#550000" stroke-width="0.4"/>
<path d="M568.84,449.20 L569.41,450.72 L571.02,450.79 L569.76,451.79 L570.19,453.35 L568.84,452.46 L567.49,453.35 L567.92,451.79 L566.66,450.79 L568.27,450.72Z" fill="#1010ff" stroke="none" stroke-width="0"/>
<path d="M573.37,446.34 L573.93,447.86 L575.55,447.93 L574.28,448.94 L574.72,450.50 L573.37,449.60 L572.02,450.50 L572.45,448.94 L571.18,447.93 L572.80,447.86Z" fill="#c41010" stroke="#550000" stroke-width="0.4"/>
<path d="M573.37,440.00 L573.93,441.51 L575.55,441.58 L574.28,442.59 L574.72,444.15 L573.37,443.26 L572.02,444.15 L572.45,442.59 L571.18,441.58 L572.80,441.51Z" fill="#1010ff" stroke="none" stroke-width="0"/>
<path d="M395.04,400.64 L398.61,400.64 L396.83,403.74Z" fill="#c41010" stroke="#550000" stroke-width="0.4"/>
<path d="M395.04,319.09 L398.61,319.09 L396.83,322.18Z" fill="#1010ff" stroke="none" stroke-width="0"/>
<path d="M399.57,473.31 L403.14,473.31 L401.35,476.41Z" fill="#c41010" stroke="#550000" stroke-width="0.4"/>
<path d="M399.57,433.01 L403.14,433.01 L401.35,436.10Z" fill="#1010ff" stroke="none" stroke-width="0"/>
<path d="M404.09,488.86 L407.67,488.86 L405.88,491.95Z" fill="#c41010" stroke="#550000" stroke-width="0.4"/>
<path d="M404.09,469.51 L407.67,469.51 L405.88,472.60Z" fill="#1010ff" stroke="none" stroke-width="0"/>
<path d="M408.62,492.99 L412.19,492.99 L410.41,496.08Z" fill="#c41010" stroke="#550000" stroke-width="0.4"/>
<path d="M408.62,480.61 L412.19,480.61 L410.41,483.70Z" fill="#1010ff" stroke="none" stroke-width="0"/>
<path d="M413.15,494.57 L416.72,494.57 L414.93,497.67Z" fill="#c41010" stroke="#550000" stroke-width="0.4"/>
<path d="M413.15,485.05 L416.72,485.05 L414.93,488.15Z" fill="#1010ff" stroke="none" stroke-width="0"/>
<path d="M417.68,495.53 L421.25,495.53 L419.46,498.62Z" fill="#c41010" stroke="#550000" stroke-width="0.4"/>
<path d="M417.68,487.91 L421.25,487.91 L419.46,491.00Z" fill="#1010ff" stroke="none" stroke-width="0"/>
<path d="M422.20,496.16 L425.77,496.16 L423.99,499.25Z" fill="#c41010" stroke="#550000" stroke-width="0.4"/>
<path d="M422.20,490.13 L425.77,490.13 L423.99,493.22Z" fill="#1010ff" stroke="none" stroke-width="0"/>
<path d="M426.73,496.80 L430.30,496.80 L428.51,499.89Z" fill="#c41010" stroke="#550000" stroke-width="0.4"/>
<path d="M426.73,491.72 L430.30,491.72 L428.51,494.81Z" fill="#1010ff" stroke="none" stroke-width="0"/>
<path d="M431.25,497.13 L434.83,497.13 L433.04,500.22Z" fill="#c41010" stroke="#550000" stroke-width="0.4"/>
<path d="M431.25,492.67 L434.83,492.67 L433.04,495.76Z" fill="#1010ff" stroke="none" stroke-width="0"/>
<path d="M435.78,497.43 L439.35,497.43 L437.57,500.52Z" fill="#c41010" stroke="#550000" stroke-width="0.4"/>
<path d="M435.78,493.62 L439.35,493.62 L437.57,496.71Z" fill="#1010ff" stroke="none" stroke-width="0"/>
<path d="M440.31,497.61 L443.88,497.61 L442.09,500.70Z" fill="#c41010" stroke="#550000" stroke-width="0.4"/>
<path d="M440.31,493.95 L443.88,493.95 L442.09,497.04Z" fill="#1010ff" stroke="none" stroke-width="0"/>
<path d="M444.83,497.77 L448.41,497.77 L446.62,500.86Z" fill="#c41010" stroke="#550000" stroke-width="0.4"/>
<path d="M444.83,494.26 L448.41,494.26 L446.62,497.35Z" fill="#1010ff" stroke="none" stroke-width="0"/>
<path d="M449.36,497.92 L452.93,497.92 L451.15,501.02Z" fill="#c41010" stroke="#550000" stroke-width="0.4"/>
<path d="M449.36,494.42 L452.93,494.42 L451.15,497.51Z" fill="#1010ff" stroke="none" stroke-width="0"/>
<path d="M453.89,498.07 L457.46,498.07 L455.67,501.16Z" fill="#c41010" stroke="#550000" stroke-width="0.4"/>
<path d="M453.89,494.58 L457.46,494.58 L455.67,497.68Z" fill="#1010ff" stroke="none" stroke-width="0"/>
<path d="M458.41,498.02 L461.99,498.02 L460.20,501.11Z" fill="#c41010" stroke="#550000" stroke-width="0.4"/>
<path d="M458.41,494.74 L461.99,494.74 L460.20,497.83Z" fill="#1010ff" stroke="none" stroke-width="0"/>
<path d="M462.94,497.97 L466.51,497.97 L464.73,501.06Z" fill="#c41010" stroke="#550000" stroke-width="0.4"/>
<path d="M462.94,494.89 L466.51,494.89 L464.73,497.98Z" fill="#1010ff" stroke="none" stroke-width="0"/>
<path d="M467.47,497.91 L471.04,497.91 L469.25,501.00Z" fill="#c41010" stroke="#550000" stroke-width="0.4"/>
<path d="M467.47,494.89 L471.04,494.89 L469.25,497.98Z" fill="#1010ff" stroke="none" stroke-width="0"/>
<path d="M471.99,497.86 L475.56,497.86 L473.78,500.95Z" fill="#c41010" stroke="#550000" stroke-width="0.4"/>
<path d="M471.99,494.89 L475.56,494.89 L473.78,497.98Z" fill="#1010ff" stroke="none" stroke-width="0"/>
<path d="M476.52,497.80 L480.09,497.80 L478.31,500.90Z" fill="#c41010" stroke="#550000" stroke-width="0.4"/>
<path d="M476.52,494.89 L480.09,494.89 L478.31,497.98Z" fill="#1010ff" stroke="none" stroke-width="0"/>
<path d="M481.05,497.75 L484.62,497.75 L482.83,500.84Z" fill="#c41010" stroke="#550000" stroke-width="0.4"/>
<path d="M481.05,494.89 L484.62,494.89 L482.83,497.98Z" fill="#1010ff" stroke="none" stroke-width="0"/>
<path d="M485.57,497.63 L489.15,497.63 L487.36,500.72Z" fill="#c41010" stroke="#550000" stroke-width="0.4"/>
<path d="M485.57,494.73 L489.15,494.73 L487.36,497.82Z" fill="#1010ff" stroke="none" stroke-width="0"/>
<path d="M490.10,497.50 L493.67,497.50 L491.89,500.59Z" fill="#c41010" stroke="#550000" stroke-width="0.4"/>
<path d="M490.10,494.56 L493.67,494.56 L491.89,497.65Z" fill="#1010ff" stroke="none" stroke-width="0"/>
<path d="M494.63,497.36 L498.20,497.36 L496.41,500.45Z" fill="#c41010" stroke="#550000" stroke-width="0.4"/>
<path d="M494.63,494.38 L498.20,494.38 L496.41,497.47Z" fill="#1010ff" stroke="none" stroke-width="0"/>
<path d="M499.15,497.21 L502.73,497.21 L500.94,500.31Z" fill="#c41010" stroke="#550000" stroke-width="0.4"/>
<path d="M499.15,494.20 L502.73,494.20 L500.94,497.29Z" fill="#1010ff" stroke="none" stroke-width="0"/>
<path d="M503.68,497.06 L507.25,497.06 L505.47,500.15Z" fill="#c41010" stroke="#550000" stroke-width="0.4"/>
<path d="M503.68,494.02 L507.25,494.02 L505.47,497.11Z" fill="#1010ff" stroke="none" stroke-width="0"/>
<path d="M508.21,496.90 L511.78,496.90 L509.99,499.99Z" fill="#c41010" stroke="#550000" stroke-width="0.4"/>
<path d="M508.21,493.82 L511.78,493.82 L509.99,496.91Z" fill="#1010ff" stroke="none" stroke-width="0"/>
<path d="M512.74,496.73 L516.30,496.73 L514.52,499.82Z" fill="#c41010" stroke="#550000" stroke-width="0.4"/>
<path d="M512.74,493.62 L516.30,493.62 L514.52,496.72Z" fill="#1010ff" stroke="none" stroke-width="0"/>
<path d="M517.26,496.55 L520.83,496.55 L519.05,499.64Z" fill="#c41010" stroke="#550000" stroke-width="0.4"/>
<path d="M517.26,493.42 L520.83,493.42 L519.05,496.51Z" fill="#1010ff" stroke="none" stroke-width="0"/>
<path d="M521.79,496.36 L525.36,496.36 L523.57,499.45Z" fill="#c41010" stroke="#550000" stroke-width="0.4"/>
<path d="M521.79,493.21 L525.36,493.21 L523.57,496.30Z" fill="#1010ff" stroke="none" stroke-width="0"/>
<path d="M526.32,496.16 L529.88,496.16 L528.10,499.25Z" fill="#c41010" stroke="#550000" stroke-width="0.4"/>
<path d="M526.32,492.99 L529.88,492.99 L528.10,496.08Z" fill="#1010ff" stroke="none" stroke-width="0"/>
<path d="M530.84,495.70 L534.41,495.70 L532.63,498.79Z" fill="#c41010" stroke="#550000" stroke-width="0.4"/>
<path d="M530.84,492.54 L534.41,492.54 L532.63,495.63Z" fill="#1010ff" stroke="none" stroke-width="0"/>
<path d="M535.37,495.17 L538.94,495.17 L537.15,498.26Z" fill="#c41010" stroke="#550000" stroke-width="0.4"/>
<path d="M535.37,492.06 L538.94,492.06 L537.15,495.15Z" fill="#1010ff" stroke="none" stroke-width="0"/>
<path d="M539.89,494.58 L543.46,494.58 L541.68,497.68Z" fill="#c41010" stroke="#550000" stroke-width="0.4"/>
<path d="M539.89,491.55 L543.46,491.55 L541.68,494.64Z" fill="#1010ff" stroke="none" stroke-width="0"/>
<path d="M544.42,493.92 L547.99,493.92 L546.21,497.02Z" fill="#c41010" stroke="#550000" stroke-width="0.4"/>
<path d="M544.42,491.01 L547.99,491.01 L546.21,494.10Z" fill="#1010ff" stroke="none" stroke-width="0"/>
<path d="M548.95,493.18 L552.52,493.18 L550.73,496.28Z" fill="#c41010" stroke="#550000" stroke-width="0.4"/>
<path d="M548.95,490.43 L552.52,490.43 L550.73,493.52Z" fill="#1010ff" stroke="none" stroke-width="0"/>
<path d="M553.48,492.35 L557.04,492.35 L555.26,495.45Z" fill="#c41010" stroke="#550000" stroke-width="0.4"/>
<path d="M553.48,489.81 L557.04,489.81 L555.26,492.91Z" fill="#1010ff" stroke="none" stroke-width="0"/>
<path d="M558.00,491.48 L561.57,491.48 L559.79,494.57Z" fill="#c41010" stroke="#550000" stroke-width="0.4"/>
<path d="M558.00,488.91 L561.57,488.91 L559.79,492.00Z" fill="#1010ff" stroke="none" stroke-width="0"/>
<path d="M562.53,490.51 L566.10,490.51 L564.31,493.60Z" fill="#c41010" stroke="#550000" stroke-width="0.4"/>
<path d="M562.53,487.93 L566.10,487.93 L564.31,491.02Z" fill="#1010ff" stroke="none" stroke-width="0"/>
<path d="M567.05,489.43 L570.62,489.43 L568.84,492.52Z" fill="#c41010" stroke="#550000" stroke-width="0.4"/>
<path d="M567.05,486.86 L570.62,486.86 L568.84,489.95Z" fill="#1010ff" stroke="none" stroke-width="0"/>
<path d="M571.58,488.23 L575.15,488.23 L573.37,491.32Z" fill="#c41010" stroke="#550000" stroke-width="0.4"/>
<path d="M571.58,485.69 L575.15,485.69 L573.37,488.78Z" fill="#1010ff" stroke="none" stroke-width="0"/>
<path d="M576.11,487.28 L579.68,487.28 L577.89,490.37Z" fill="#c41010" stroke="#550000" stroke-width="0.4"/>
<path d="M576.11,485.05 L579.68,485.05 L577.89,488.15Z" fill="#1010ff" stroke="none" stroke-width="0"/>
<path d="M580.63,485.69 L584.20,485.69 L582.42,488.78Z" fill="#c41010" stroke="#550000" stroke-width="0.4"/>
<path d="M580.63,484.10 L584.20,484.10 L582.42,487.19Z" fill="#1010ff" stroke="none" stroke-width="0"/>
<path d="M585.16,483.15 L588.73,483.15 L586.95,486.24Z" fill="#c41010" stroke="#550000" stroke-width="0.4"/>
<path d="M585.16,482.52 L588.73,482.52 L586.95,485.61Z" fill="#1010ff" stroke="none" stroke-width="0"/>
<path d="M589.69,480.29 L593.26,480.29 L591.47,483.39Z" fill="#c41010" stroke="#550000" stroke-width="0.4"/>
<path d="M589.69,479.34 L593.26,479.34 L591.47,482.43Z" fill="#1010ff" stroke="none" stroke-width="0"/>
<path d="M594.22,477.12 L597.78,477.12 L596.00,480.21Z" fill="#c41010" stroke="#550000" stroke-width="0.4"/>
<path d="M594.22,473.95 L597.78,473.95 L596.00,477.04Z" fill="#1010ff" stroke="none" stroke-width="0"/>
<path d="M598.74,473.31 L602.31,473.31 L600.53,476.41Z" fill="#c41010" stroke="#550000" stroke-width="0.4"/>
<path d="M598.74,470.77 L602.31,470.77 L600.53,473.87Z" fill="#1010ff" stroke="none" stroke-width="0"/>
<path d="M603.27,468.87 L606.84,468.87 L605.05,471.96Z" fill="#c41010" stroke="#550000" stroke-width="0.4"/>
<path d="M603.27,466.97 L606.84,466.97 L605.05,470.06Z" fill="#1010ff" stroke="none" stroke-width="0"/>
<path d="M607.79,463.48 L611.36,463.48 L609.58,466.57Z" fill="#c41010" stroke="#550000" stroke-width="0.4"/>
<path d="M607.79,461.89 L611.36,461.89 L609.58,464.98Z" fill="#1010ff" stroke="none" stroke-width="0"/>
<path d="M612.32,457.13 L615.89,457.13 L614.11,460.22Z" fill="#c41010" stroke="#550000" stroke-width="0.4"/>
<path d="M612.32,456.18 L615.89,456.18 L614.11,459.27Z" fill="#1010ff" stroke="none" stroke-width="0"/>
<path d="M616.85,446.66 L620.42,446.66 L618.63,449.75Z" fill="#c41010" stroke="#550000" stroke-width="0.4"/>
<path d="M616.85,447.61 L620.42,447.61 L618.63,450.70Z" fill="#1010ff" stroke="none" stroke-width="0"/>
<circle cx="396.83" cy="401.67" r="2.10" fill="#b00000"/>
<circle cx="396.83" cy="320.12" r="2.10" fill="#1010ff"/>
<circle cx="401.35" cy="474.34" r="2.10" fill="#b00000"/>
<circle cx="401.35" cy="434.04" r="2.10" fill="#1010ff"/>
<circle cx="405.88" cy="489.89" r="2.10" fill="#b00000"/>
<circle cx="405.88" cy="470.54" r="2.10" fill="#1010ff"/>
<circle cx="410.41" cy="494.02" r="2.10" fill="#b00000"/>
<circle cx="410.41" cy="481.64" r="2.10" fill="#1010ff"/>
<circle cx="414.93" cy="495.61" r="2.10" fill="#b00000"/>
<circle cx="414.93" cy="486.09" r="2.10" fill="#1010ff"/>
<circle cx="419.46" cy="496.56" r="2.10" fill="#b00000"/>
<circle cx="419.46" cy="488.94" r="2.10" fill="#1010ff"/>
<circle cx="423.99" cy="497.19" r="2.10" fill="#b00000"/>
<circle cx="423.99" cy="491.16" r="2.10" fill="#1010ff"/>
<circle cx="428.51" cy="497.83" r="2.10" fill="#b00000"/>
<circle cx="428.51" cy="492.75" r="2.10" fill="#1010ff"/>
<circle cx="433.04" cy="498.16" r="2.10" fill="#b00000"/>
<circle cx="433.04" cy="493.70" r="2.10" fill="#1010ff"/>
<circle cx="437.57" cy="498.46" r="2.10" fill="#b00000"/>
<circle cx="437.57" cy="494.65" r="2.10" fill="#1010ff"/>
<circle cx="442.09" cy="498.64" r="2.10" fill="#b00000"/>
<circle cx="442.09" cy="494.98" r="2.10" fill="#1010ff"/>
<circle cx="446.62" cy="498.80" r="2.10" fill="#b00000"/>
<circle cx="446.62" cy="495.29" r="2.10" fill="#1010ff"/>
<circle cx="451.15" cy="498.95" r="2.10" fill="#b00000"/>
<circle cx="451.15" cy="495.45" r="2.10" fill="#1010ff"/>
<circle cx="455.67" cy="499.10" r="2.10" fill="#b00000"/>
<circle cx="455.67" cy="495.61" r="2.10" fill="#1010ff"/>
<circle cx="460.20" cy="499.15" r="2.10" fill="#b00000"/>
<circle cx="460.20" cy="495.77" r="2.10" fill="#1010ff"/>
<circle cx="464.73" cy="499.21" r="2.10" fill="#b00000"/>
<circle cx="464.73" cy="495.92" r="2.10" fill="#1010ff"/>
<circle cx="469.25" cy="499.26" r="2.10" fill="#b00000"/>
<circle cx="469.25" cy="496.00" r="2.10" fill="#1010ff"/>
<circle cx="473.78" cy="499.31" r="2.10" fill="#b00000"/>
<circle cx="473.78" cy="496.08" r="2.10" fill="#1010ff"/>
<circle cx="478.31" cy="499.36" r="2.10" fill="#b00000"/>
<circle cx="478.31" cy="496.16" r="2.10" fill="#1010ff"/>
<circle cx="482.83" cy="499.41" r="2.10" fill="#b00000"/>
<circle cx="482.83" cy="496.24" r="2.10" fill="#1010ff"/>
<circle cx="487.36" cy="499.38" r="2.10" fill="#b00000"/>
<circle cx="487.36" cy="496.27" r="2.10" fill="#1010ff"/>
<circle cx="491.89" cy="499.35" r="2.10" fill="#b00000"/>
<circle cx="491.89" cy="496.31" r="2.10" fill="#1010ff"/>
<circle cx="496.41" cy="499.32" r="2.10" fill="#b00000"/>
<circle cx="496.41" cy="496.34" r="2.10" fill="#1010ff"/>
<circle cx="500.94" cy="499.29" r="2.10" fill="#b00000"/>
<circle cx="500.94" cy="496.37" r="2.10" fill="#1010ff"/>
<circle cx="505.47" cy="499.26" r="2.10" fill="#b00000"/>
<circle cx="505.47" cy="496.40" r="2.10" fill="#1010ff"/>
<circle cx="509.99" cy="499.23" r="2.10" fill="#b00000"/>
<circle cx="509.99" cy="496.43" r="2.10" fill="#1010ff"/>
<circle cx="514.52" cy="499.20" r="2.10" fill="#b00000"/>
<circle cx="514.52" cy="496.46" r="2.10" fill="#1010ff"/>
<circle cx="519.05" cy="499.16" r="2.10" fill="#b00000"/>
<circle cx="519.05" cy="496.50" r="2.10" fill="#1010ff"/>
<circle cx="523.57" cy="499.13" r="2.10" fill="#b00000"/>
<circle cx="523.57" cy="496.53" r="2.10" fill="#1010ff"/>
<circle cx="528.10" cy="499.10" r="2.10" fill="#b00000"/>
<circle cx="528.10" cy="496.56" r="2.10" fill="#1010ff"/>
<circle cx="532.63" cy="498.96" r="2.10" fill="#b00000"/>
<circle cx="532.63" cy="496.47" r="2.10" fill="#1010ff"/>
<circle cx="537.15" cy="498.81" r="2.10" fill="#b00000"/>
<circle cx="537.15" cy="496.38" r="2.10" fill="#1010ff"/>
<circle cx="541.68" cy="498.66" r="2.10" fill="#b00000"/>
<circle cx="541.68" cy="496.29" r="2.10" fill="#1010ff"/>
<circle cx="546.21" cy="498.49" r="2.10" fill="#b00000"/>
<circle cx="546.21" cy="496.20" r="2.10" fill="#1010ff"/>
<circle cx="550.73" cy="498.31" r="2.10" fill="#b00000"/>
<circle cx="550.73" cy="496.10" r="2.10" fill="#1010ff"/>
<circle cx="555.26" cy="498.11" r="2.10" fill="#b00000"/>
<circle cx="555.26" cy="496.01" r="2.10" fill="#1010ff"/>
<circle cx="559.79" cy="497.91" r="2.10" fill="#b00000"/>
<circle cx="559.79" cy="495.91" r="2.10" fill="#1010ff"/>
<circle cx="564.31" cy="497.68" r="2.10" fill="#b00000"/>
<circle cx="564.31" cy="495.81" r="2.10" fill="#1010ff"/>
<circle cx="568.84" cy="497.45" r="2.10" fill="#b00000"/>
<circle cx="568.84" cy="495.71" r="2.10" fill="#1010ff"/>
<circle cx="573.37" cy="497.19" r="2.10" fill="#b00000"/>
<circle cx="573.37" cy="495.61" r="2.10" fill="#1010ff"/>
<circle cx="577.89" cy="496.73" r="2.10" fill="#ee1111"/>
<circle cx="577.89" cy="495.25" r="2.10" fill="#1010ff"/>
<circle cx="582.42" cy="496.20" r="2.10" fill="#ee1111"/>
<circle cx="582.42" cy="494.87" r="2.10" fill="#1010ff"/>
<circle cx="586.95" cy="495.61" r="2.10" fill="#ee1111"/>
<circle cx="586.95" cy="494.46" r="2.10" fill="#1010ff"/>
<circle cx="591.47" cy="494.96" r="2.10" fill="#ee1111"/>
<circle cx="591.47" cy="494.02" r="2.10" fill="#1010ff"/>
<circle cx="596.00" cy="494.21" r="2.10" fill="#ee1111"/>
<circle cx="596.00" cy="493.56" r="2.10" fill="#1010ff"/>
<circle cx="600.53" cy="493.38" r="2.10" fill="#ee1111"/>
<circle cx="600.53" cy="493.07" r="2.10" fill="#1010ff"/>
<circle cx="605.05" cy="492.35" r="2.10" fill="#ee1111"/>
<circle cx="605.05" cy="492.37" r="2.10" fill="#1010ff"/>
<circle cx="609.58" cy="491.17" r="2.10" fill="#ee1111"/>
<circle cx="609.58" cy="491.61" r="2.10" fill="#1010ff"/>
<circle cx="614.11" cy="489.83" r="2.10" fill="#ee1111"/>
<circle cx="614.11" cy="490.79" r="2.10" fill="#1010ff"/>
<circle cx="618.63" cy="488.31" r="2.10" fill="#ee1111"/>
<circle cx="618.63" cy="489.89" r="2.10" fill="#1010ff"/>
<circle cx="623.16" cy="486.40" r="2.10" fill="#ee1111"/>
<circle cx="623.16" cy="488.62" r="2.10" fill="#1010ff"/>
<circle cx="627.69" cy="484.82" r="2.10" fill="#ee1111"/>
<circle cx="627.69" cy="487.04" r="2.10" fill="#1010ff"/>
<circle cx="632.21" cy="482.91" r="2.10" fill="#ee1111"/>
<circle cx="632.21" cy="484.82" r="2.10" fill="#1010ff"/>
<circle cx="636.74" cy="480.37" r="2.10" fill="#ee1111"/>
<circle cx="636.74" cy="482.91" r="2.10" fill="#1010ff"/>
<circle cx="641.27" cy="477.20" r="2.10" fill="#ee1111"/>
<circle cx="641.27" cy="480.37" r="2.10" fill="#1010ff"/>
<circle cx="645.79" cy="473.71" r="2.10" fill="#ee1111"/>
<circle cx="645.79" cy="477.20" r="2.10" fill="#1010ff"/>
<circle cx="650.32" cy="469.58" r="2.10" fill="#ee1111"/>
<circle cx="650.32" cy="474.03" r="2.10" fill="#1010ff"/>
<circle cx="654.85" cy="464.19" r="2.10" fill="#ee1111"/>
<circle cx="654.85" cy="469.90" r="2.10" fill="#1010ff"/>
<circle cx="659.37" cy="457.53" r="2.10" fill="#ee1111"/>
<circle cx="659.37" cy="464.82" r="2.10" fill="#1010ff"/>
<circle cx="663.90" cy="449.27" r="2.10" fill="#ee1111"/>
<circle cx="663.90" cy="458.79" r="2.10" fill="#1010ff"/>
</g>
<rect x="569.1" y="337.7" width="67.5" height="54.3" fill="#fff" stroke="#111" stroke-width="1"/>
<line x1="578.00" y1="354.70" x2="592.90" y2="354.70" stroke="#ff2020" stroke-width="1.2" />
<text x="603.90" y="359.30" font-family="Liberation Sans" font-size="12.6" text-anchor="start" >CA</text>
<line x1="578.00" y1="375.70" x2="592.90" y2="375.70" stroke="#1a1aff" stroke-width="1.2" />
<text x="603.90" y="380.30" font-family="Liberation Sans" font-size="12.6" text-anchor="start" >RA</text>
<line x1="53.55" y1="775.15" x2="53.55" y2="779.95" stroke="#333" stroke-width="0.75" />
<line x1="53.55" y1="583.35" x2="53.55" y2="578.55" stroke="#888" stroke-width="0.75" />
<line x1="67.25" y1="775.15" x2="67.25" y2="777.55" stroke="#333" stroke-width="0.75" />
<line x1="67.25" y1="583.35" x2="67.25" y2="580.95" stroke="#888" stroke-width="0.75" />
<line x1="80.94" y1="775.15" x2="80.94" y2="777.55" stroke="#333" stroke-width="0.75" />
<line x1="80.94" y1="583.35" x2="80.94" y2="580.95" stroke="#888" stroke-width="0.75" />
<line x1="94.64" y1="775.15" x2="94.64" y2="777.55" stroke="#333" stroke-width="0.75" />
<line x1="94.64" y1="583.35" x2="94.64" y2="580.95" stroke="#888" stroke-width="0.75" />
<line x1="108.34" y1="775.15" x2="108.34" y2="777.55" stroke="#333" stroke-width="0.75" />
<line x1="108.34" y1="583.35" x2="108.34" y2="580.95" stroke="#888" stroke-width="0.75" />
<line x1="122.04" y1="775.15" x2="122.04" y2="779.95" stroke="#333" stroke-width="0.75" />
<line x1="122.04" y1="583.35" x2="122.04" y2="578.55" stroke="#888" stroke-width="0.75" />
<line x1="135.74" y1="775.15" x2="135.74" y2="777.55" stroke="#333" stroke-width="0.75" />
<line x1="135.74" y1="583.35" x2="135.74" y2="580.95" stroke="#888" stroke-width="0.75" />
<line x1="149.43" y1="775.15" x2="149.43" y2="777.55" stroke="#333" stroke-width="0.75" />
<line x1="149.43" y1="583.35" x2="149.43" y2="580.95" stroke="#888" stroke-width="0.75" />
<line x1="163.13" y1="775.15" x2="163.13" y2="777.55" stroke="#333" stroke-width="0.75" />
<line x1="163.13" y1="583.35" x2="163.13" y2="580.95" stroke="#888" stroke-width="0.75" />
<line x1="176.83" y1="775.15" x2="176.83" y2="777.55" stroke="#333" stroke-width="0.75" />
<line x1="176.83" y1="583.35" x2="176.83" y2="580.95" stroke="#888" stroke-width="0.75" />
<line x1="190.52" y1="775.15" x2="190.52" y2="779.95" stroke="#333" stroke-width="0.75" />
<line x1="190.52" y1="583.35" x2="190.52" y2="578.55" stroke="#888" stroke-width="0.75" />
<line x1="204.22" y1="775.15" x2="204.22" y2="777.55" stroke="#333" stroke-width="0.75" />
<line x1="204.22" y1="583.35" x2="204.22" y2="580.95" stroke="#888" stroke-width="0.75" />
<line x1="217.92" y1="775.15" x2="217.92" y2="777.55" stroke="#333" stroke-width="0.75" />
<line x1="217.92" y1="583.35" x2="217.92" y2="580.95" stroke="#888" stroke-width="0.75" />
<line x1="231.62" y1="775.15" x2="231.62" y2="777.55" stroke="#333" stroke-width="0.75" />
<line x1="231.62" y1="583.35" x2="231.62" y2="580.95" stroke="#888" stroke-width="0.75" />
<line x1="245.31" y1="775.15" x2="245.31" y2="777.55" stroke="#333" stroke-width="0.75" />
<line x1="245.31" y1="583.35" x2="245.31" y2="580.95" stroke="#888" stroke-width="0.75" />
<line x1="259.01" y1="775.15" x2="259.01" y2="779.95" stroke="#333" stroke-width="0.75" />
<line x1="259.01" y1="583.35" x2="259.01" y2="578.55" stroke="#888" stroke-width="0.75" />
<line x1="272.71" y1="775.15" x2="272.71" y2="777.55" stroke="#333" stroke-width="0.75" />
<line x1="272.71" y1="583.35" x2="272.71" y2="580.95" stroke="#888" stroke-width="0.75" />
<line x1="286.41" y1="775.15" x2="286.41" y2="777.55" stroke="#333" stroke-width="0.75" />
<line x1="286.41" y1="583.35" x2="286.41" y2="580.95" stroke="#888" stroke-width="0.75" />
<line x1="300.11" y1="775.15" x2="300.11" y2="777.55" stroke="#333" stroke-width="0.75" />
<line x1="300.11" y1="583.35" x2="300.11" y2="580.95" stroke="#888" stroke-width="0.75" />
<line x1="313.80" y1="775.15" x2="313.80" y2="777.55" stroke="#333" stroke-width="0.75" />
<line x1="313.80" y1="583.35" x2="313.80" y2="580.95" stroke="#888" stroke-width="0.75" />
<line x1="327.50" y1="775.15" x2="327.50" y2="779.95" stroke="#333" stroke-width="0.75" />
<line x1="327.50" y1="583.35" x2="327.50" y2="578.55" stroke="#888" stroke-width="0.75" />
<line x1="53.55" y1="583.35" x2="48.75" y2="583.35" stroke="#333" stroke-width="0.75" />
<line x1="327.50" y1="583.35" x2="332.30" y2="583.35" stroke="#888" stroke-width="0.75" />
<line x1="53.55" y1="647.28" x2="48.75" y2="647.28" stroke="#333" stroke-width="0.75" />
<line x1="327.50" y1="647.28" x2="332.30" y2="647.28" stroke="#888" stroke-width="0.75" />
<line x1="53.55" y1="711.22" x2="48.75" y2="711.22" stroke="#333" stroke-width="0.75" />
<line x1="327.50" y1="711.22" x2="332.30" y2="711.22" stroke="#888" stroke-width="0.75" />
<line x1="53.55" y1="775.15" x2="48.75" y2="775.15" stroke="#333" stroke-width="0.75" />
<line x1="327.50" y1="775.15" x2="332.30" y2="775.15" stroke="#888" stroke-width="0.75" />
<line x1="53.55" y1="628.04" x2="51.15" y2="628.04" stroke="#333" stroke-width="0.75" />
<line x1="327.50" y1="628.04" x2="329.90" y2="628.04" stroke="#888" stroke-width="0.75" />
<line x1="53.55" y1="616.78" x2="51.15" y2="616.78" stroke="#333" stroke-width="0.75" />
<line x1="327.50" y1="616.78" x2="329.90" y2="616.78" stroke="#888" stroke-width="0.75" />
<line x1="53.55" y1="608.79" x2="51.15" y2="608.79" stroke="#333" stroke-width="0.75" />
<line x1="327.50" y1="608.79" x2="329.90" y2="608.79" stroke="#888" stroke-width="0.75" />
<line x1="53.55" y1="602.60" x2="51.15" y2="602.60" stroke="#333" stroke-width="0.75" />
<line x1="327.50" y1="602.60" x2="329.90" y2="602.60" stroke="#888" stroke-width="0.75" />
<line x1="53.55" y1="597.53" x2="51.15" y2="597.53" stroke="#333" stroke-width="0.75" />
<line x1="327.50" y1="597.53" x2="329.90" y2="597.53" stroke="#888" stroke-width="0.75" />
<line x1="53.55" y1="593.25" x2="51.15" y2="593.25" stroke="#333" stroke-width="0.75" />
<line x1="327.50" y1="593.25" x2="329.90" y2="593.25" stroke="#888" stroke-width="0.75" />
<line x1="53.55" y1="589.55" x2="51.15" y2="589.55" stroke="#333" stroke-width="0.75" />
<line x1="327.50" y1="589.55" x2="329.90" y2="589.55" stroke="#888" stroke-width="0.75" />
<line x1="53.55" y1="586.28" x2="51.15" y2="586.28" stroke="#333" stroke-width="0.75" />
<line x1="327.50" y1="586.28" x2="329.90" y2="586.28" stroke="#888" stroke-width="0.75" />
<line x1="53.55" y1="691.97" x2="51.15" y2="691.97" stroke="#333" stroke-width="0.75" />
<line x1="327.50" y1="691.97" x2="329.90" y2="691.97" stroke="#888" stroke-width="0.75" />
<line x1="53.55" y1="680.71" x2="51.15" y2="680.71" stroke="#333" stroke-width="0.75" />
<line x1="327.50" y1="680.71" x2="329.90" y2="680.71" stroke="#888" stroke-width="0.75" />
<line x1="53.55" y1="672.72" x2="51.15" y2="672.72" stroke="#333" stroke-width="0.75" />
<line x1="327.50" y1="672.72" x2="329.90" y2="672.72" stroke="#888" stroke-width="0.75" />
<line x1="53.55" y1="666.53" x2="51.15" y2="666.53" stroke="#333" stroke-width="0.75" />
<line x1="327.50" y1="666.53" x2="329.90" y2="666.53" stroke="#888" stroke-width="0.75" />
<line x1="53.55" y1="661.47" x2="51.15" y2="661.47" stroke="#333" stroke-width="0.75" />
<line x1="327.50" y1="661.47" x2="329.90" y2="661.47" stroke="#888" stroke-width="0.75" />
<line x1="53.55" y1="657.19" x2="51.15" y2="657.19" stroke="#333" stroke-width="0.75" />
<line x1="327.50" y1="657.19" x2="329.90" y2="657.19" stroke="#888" stroke-width="0.75" />
<line x1="53.55" y1="653.48" x2="51.15" y2="653.48" stroke="#333" stroke-width="0.75" />
<line x1="327.50" y1="653.48" x2="329.90" y2="653.48" stroke="#888" stroke-width="0.75" />
<line x1="53.55" y1="650.21" x2="51.15" y2="650.21" stroke="#333" stroke-width="0.75" />
<line x1="327.50" y1="650.21" x2="329.90" y2="650.21" stroke="#888" stroke-width="0.75" />
<line x1="53.55" y1="755.90" x2="51.15" y2="755.90" stroke="#333" stroke-width="0.75" />
<line x1="327.50" y1="755.90" x2="329.90" y2="755.90" stroke="#888" stroke-width="0.75" />
<line x1="53.55" y1="744.65" x2="51.15" y2="744.65" stroke="#333" stroke-width="0.75" />
<line x1="327.50" y1="744.65" x2="329.90" y2="744.65" stroke="#888" stroke-width="0.75" />
<line x1="53.55" y1="736.66" x2="51.15" y2="736.66" stroke="#333" stroke-width="0.75" />
<line x1="327.50" y1="736.66" x2="329.90" y2="736.66" stroke="#888" stroke-width="0.75" />
<line x1="53.55" y1="730.46" x2="51.15" y2="730.46" stroke="#333" stroke-width="0.75" />
<line x1="327.50" y1="730.46" x2="329.90" y2="730.46" stroke="#888" stroke-width="0.75" />
<line x1="53.55" y1="725.40" x2="51.15" y2="725.40" stroke="#333" stroke-width="0.75" />
<line x1="327.50" y1="725.40" x2="329.90" y2="725.40" stroke="#888" stroke-width="0.75" />
<line x1="53.55" y1="721.12" x2="51.15" y2="721.12" stroke="#333" stroke-width="0.75" />
<line x1="327.50" y1="721.12" x2="329.90" y2="721.12" stroke="#888" stroke-width="0.75" />
<line x1="53.55" y1="717.41" x2="51.15" y2="717.41" stroke="#333" stroke-width="0.75" />
<line x1="327.50" y1="717.41" x2="329.90" y2="717.41" stroke="#888" stroke-width="0.75" />
<line x1="53.55" y1="714.14" x2="51.15" y2="714.14" stroke="#333" stroke-width="0.75" />
<line x1="327.50" y1="714.14" x2="329.90" y2="714.14" stroke="#888" stroke-width="0.75" />
<rect x="53.55" y="583.35" width="273.95" height="191.80" fill="none" stroke="#000" stroke-width="1.6"/>
<text x="53.55" y="792.95" font-family="Liberation Sans" font-size="12" text-anchor="middle" >0</text>
<text x="122.04" y="792.95" font-family="Liberation Sans" font-size="12" text-anchor="middle" >500</text>
<text x="190.52" y="792.95" font-family="Liberation Sans" font-size="12" text-anchor="middle" >1000</text>
<text x="259.01" y="792.95" font-family="Liberation Sans" font-size="12" text-anchor="middle" >1500</text>
<text x="327.50" y="792.95" font-family="Liberation Sans" font-size="12" text-anchor="middle" >2000</text>
<text x="42.95" y="587.95" font-family="Liberation Sans" font-size="12" text-anchor="end">10<tspan font-size="7.6" dy="-4.3">0</tspan></text>
<text x="42.95" y="651.88" font-family="Liberation Sans" font-size="12" text-anchor="end">10<tspan font-size="7.6" dy="-4.3">−1</tspan></text>
<text x="42.95" y="715.82" font-family="Liberation Sans" font-size="12" text-anchor="end">10<tspan font-size="7.6" dy="-4.3">−2</tspan></text>
<text x="42.95" y="779.75" font-family="Liberation Sans" font-size="12" text-anchor="end">10<tspan font-size="7.6" dy="-4.3">−3</tspan></text>
<text font-family="Liberation Sans" font-size="15.6" transform="translate(76.50,813.60) scale(0.968,1)">Source–Receiver Separation [m]</text>
<text x="0" y="0" font-family="Liberation Sans" font-size="15.5" text-anchor="middle" transform="translate(12.60,679.25) rotate(-90)">log (B/I) [nT/A]</text>
<text class="s" x="54.50" y="571.00" font-family="Liberation Serif" font-size="21" text-anchor="start" >(e)</text>
<clipPath id="ce"><rect x="53.55" y="583.35" width="273.95" height="191.79999999999995"/></clipPath>
<g clip-path="url(#ce)">
<polyline points="56.29,573.17 57.20,582.45 58.10,589.67 59.01,595.52 59.92,600.41 60.82,604.59 61.73,608.23 62.64,611.44 63.55,614.31 64.45,616.90 65.36,619.26 66.27,621.42 67.17,623.41 68.08,625.26 68.99,626.98 69.90,628.60 70.80,630.11 71.71,631.54 72.62,632.90 73.52,634.18 74.43,635.41 75.34,636.57 76.24,637.69 77.15,638.76 78.06,639.79 78.97,640.78 79.87,641.73 80.78,642.65 81.69,643.54 82.59,644.40 83.50,645.23 84.41,646.04 85.32,646.83 86.22,647.59 87.13,648.33 88.04,649.06 88.94,649.76 89.85,650.45 90.76,651.13 91.66,651.78 92.57,652.43 93.48,653.06 94.39,653.68 95.29,654.28 96.20,654.88 97.11,655.46 98.01,656.03 98.92,656.59 99.83,657.15 100.74,657.69 101.64,658.23 102.55,658.75 103.46,659.27 104.36,659.78 105.27,660.28 106.18,660.78 107.08,661.27 107.99,661.75 108.90,662.23 109.81,662.70 110.71,663.16 111.62,663.62 112.53,664.07 113.43,664.52 114.34,664.96 115.25,665.40 116.16,665.83 117.06,666.26 117.97,666.69 118.88,667.11 119.78,667.52 120.69,667.93 121.60,668.34 122.50,668.74 123.41,669.14 124.32,669.54 125.23,669.93 126.13,670.32 127.04,670.71 127.95,671.09 128.85,671.47 129.76,671.84 130.67,672.22 131.58,672.59 132.48,672.95 133.39,673.32 134.30,673.68 135.20,674.04 136.11,674.40 137.02,674.75 137.92,675.10 138.83,675.45 139.74,675.80 140.65,676.14 141.55,676.49 142.46,676.83 143.37,677.17 144.27,677.50 145.18,677.83 146.09,678.17 147.00,678.50 147.90,678.82 148.81,679.15 149.72,679.48 150.62,679.80 151.53,680.12 152.44,680.44 153.34,680.75 154.25,681.07 155.16,681.38 156.07,681.70 156.97,682.01 157.88,682.32 158.79,682.62 159.69,682.93 160.60,683.23 161.51,683.54 162.42,683.84 163.32,684.14 164.23,684.44 165.14,684.74 166.04,685.03 166.95,685.33 167.86,685.62 168.76,685.91 169.67,686.20 170.58,686.49 171.49,686.78 172.39,687.07 173.30,687.36 174.21,687.64 175.11,687.93 176.02,688.21 176.93,688.49 177.84,688.77 178.74,689.05 179.65,689.33 180.56,689.61 181.46,689.88 182.37,690.16 183.28,690.43 184.18,690.71 185.09,690.98 186.00,691.25 186.91,691.52 187.81,691.79 188.72,692.06 189.63,692.33 190.53,692.59 191.44,692.86 192.35,693.12 193.26,693.39 194.16,693.65 195.07,693.91 195.98,694.18 196.88,694.44 197.79,694.70 198.70,694.96 199.60,695.21 200.51,695.47 201.42,695.73 202.33,695.98 203.23,696.24 204.14,696.49 205.05,696.75 205.95,697.00 206.86,697.25 207.77,697.51 208.68,697.76 209.58,698.01 210.49,698.26 211.40,698.51 212.30,698.75 213.21,699.00 214.12,699.25 215.02,699.49 215.93,699.74 216.84,699.98 217.75,700.23 218.65,700.47 219.56,700.72 220.47,700.96 221.37,701.20 222.28,701.44 223.19,701.68 224.10,701.92 225.00,702.16 225.91,702.40 226.82,702.64 227.72,702.87 228.63,703.11 229.54,703.35 230.44,703.58 231.35,703.82 232.26,704.05 233.17,704.29 234.07,704.52 234.98,704.76 235.89,704.99 236.79,705.22 237.70,705.45 238.61,705.68 239.52,705.91 240.42,706.14 241.33,706.37 242.24,706.60 243.14,706.83 244.05,707.06 244.96,707.29 245.86,707.51 246.77,707.74 247.68,707.97 248.59,708.19 249.49,708.42 250.40,708.64 251.31,708.87 252.21,709.09 253.12,709.31 254.03,709.54 254.94,709.76 255.84,709.98 256.75,710.20 257.66,710.42 258.56,710.65 259.47,710.87 260.38,711.09 261.28,711.31 262.19,711.52 263.10,711.74 264.01,711.96 264.91,712.18 265.82,712.40 266.73,712.61 267.63,712.83 268.54,713.05 269.45,713.26 270.36,713.48 271.26,713.69 272.17,713.91 273.08,714.12 273.98,714.34 274.89,714.55 275.80,714.76 276.70,714.98 277.61,715.19 278.52,715.40 279.43,715.61 280.33,715.82 281.24,716.03 282.15,716.24 283.05,716.45 283.96,716.66 284.87,716.87 285.78,717.08 286.68,717.29 287.59,717.50 288.50,717.71 289.40,717.92 290.31,718.12 291.22,718.33 292.12,718.54 293.03,718.74 293.94,718.95 294.85,719.16 295.75,719.36 296.66,719.57 297.57,719.77 298.47,719.98 299.38,720.18 300.29,720.38 301.20,720.59 302.10,720.79 303.01,720.99 303.92,721.20 304.82,721.40 305.73,721.60 306.64,721.80 307.54,722.00 308.45,722.20 309.36,722.41 310.27,722.61 311.17,722.81 312.08,723.01 312.99,723.21 313.89,723.41 314.80,723.60 315.71,723.80 316.62,724.00 317.52,724.20 318.43,724.40 319.34,724.59 320.24,724.79 321.15,724.99 322.06,725.19 322.96,725.38 323.87,725.58 324.78,725.77 325.69,725.97 326.59,726.17 327.50,726.36" fill="none" stroke="#222" stroke-width="0.9" />
<path d="M60.40,610.74 L61.00,612.34 L62.71,612.42 L61.37,613.48 L61.83,615.13 L60.40,614.19 L58.97,615.13 L59.43,613.48 L58.09,612.42 L59.80,612.34Z" fill="#f01010" stroke="#700" stroke-width="0.3"/>
<path d="M67.25,623.57 L67.85,625.18 L69.56,625.25 L68.22,626.32 L68.68,627.97 L67.25,627.02 L65.82,627.97 L66.28,626.32 L64.94,625.25 L66.65,625.18Z" fill="#f01010" stroke="#700" stroke-width="0.3"/>
<path d="M74.10,633.52 L74.70,635.13 L76.41,635.20 L75.07,636.27 L75.52,637.92 L74.10,636.97 L72.67,637.92 L73.13,636.27 L71.79,635.20 L73.50,635.13Z" fill="#f01010" stroke="#700" stroke-width="0.3"/>
<path d="M80.94,641.03 L81.54,642.63 L83.26,642.71 L81.92,643.77 L82.37,645.42 L80.94,644.48 L79.52,645.42 L79.97,643.77 L78.63,642.71 L80.35,642.63Z" fill="#f01010" stroke="#700" stroke-width="0.3"/>
<path d="M87.79,646.97 L88.39,648.57 L90.10,648.65 L88.76,649.71 L89.22,651.36 L87.79,650.42 L86.37,651.36 L86.82,649.71 L85.48,648.65 L87.19,648.57Z" fill="#f01010" stroke="#700" stroke-width="0.3"/>
<path d="M94.64,651.84 L95.24,653.44 L96.95,653.52 L95.61,654.58 L96.07,656.24 L94.64,655.29 L93.21,656.24 L93.67,654.58 L92.33,653.52 L94.04,653.44Z" fill="#f01010" stroke="#700" stroke-width="0.3"/>
<path d="M101.49,656.07 L102.09,657.68 L103.80,657.75 L102.46,658.82 L102.92,660.47 L101.49,659.53 L100.06,660.47 L100.52,658.82 L99.18,657.75 L100.89,657.68Z" fill="#f01010" stroke="#700" stroke-width="0.3"/>
<path d="M108.34,659.83 L108.94,661.43 L110.65,661.51 L109.31,662.58 L109.77,664.23 L108.34,663.28 L106.91,664.23 L107.37,662.58 L106.03,661.51 L107.74,661.43Z" fill="#f01010" stroke="#700" stroke-width="0.3"/>
<path d="M115.19,663.24 L115.79,664.84 L117.50,664.91 L116.16,665.98 L116.62,667.63 L115.19,666.69 L113.76,667.63 L114.22,665.98 L112.88,664.91 L114.59,664.84Z" fill="#f01010" stroke="#700" stroke-width="0.3"/>
<path d="M122.04,666.37 L122.64,667.97 L124.35,668.05 L123.01,669.11 L123.47,670.76 L122.04,669.82 L120.61,670.76 L121.07,669.11 L119.73,668.05 L121.44,667.97Z" fill="#f01010" stroke="#700" stroke-width="0.3"/>
<path d="M128.89,669.29 L129.49,670.89 L131.20,670.97 L129.86,672.03 L130.31,673.68 L128.89,672.74 L127.46,673.68 L127.92,672.03 L126.58,670.97 L128.29,670.89Z" fill="#f01010" stroke="#700" stroke-width="0.3"/>
<path d="M135.74,672.04 L136.33,673.65 L138.05,673.72 L136.71,674.79 L137.16,676.44 L135.74,675.49 L134.31,676.44 L134.76,674.79 L133.42,673.72 L135.14,673.65Z" fill="#f01010" stroke="#700" stroke-width="0.3"/>
<path d="M142.58,674.53 L143.18,676.14 L144.89,676.21 L143.55,677.28 L144.01,678.93 L142.58,677.98 L141.16,678.93 L141.61,677.28 L140.27,676.21 L141.98,676.14Z" fill="#f01010" stroke="#700" stroke-width="0.3"/>
<path d="M149.43,677.03 L150.03,678.64 L151.74,678.71 L150.40,679.78 L150.86,681.43 L149.43,680.48 L148.00,681.43 L148.46,679.78 L147.12,678.71 L148.83,678.64Z" fill="#f01010" stroke="#700" stroke-width="0.3"/>
<path d="M156.28,679.43 L156.88,681.03 L158.59,681.11 L157.25,682.17 L157.71,683.83 L156.28,682.88 L154.85,683.83 L155.31,682.17 L153.97,681.11 L155.68,681.03Z" fill="#f01010" stroke="#700" stroke-width="0.3"/>
<path d="M163.13,681.74 L163.73,683.34 L165.44,683.42 L164.10,684.48 L164.56,686.13 L163.13,685.19 L161.70,686.13 L162.16,684.48 L160.82,683.42 L162.53,683.34Z" fill="#f01010" stroke="#700" stroke-width="0.3"/>
<path d="M169.98,683.97 L170.58,685.57 L172.29,685.65 L170.95,686.72 L171.41,688.37 L169.98,687.42 L168.55,688.37 L169.01,686.72 L167.67,685.65 L169.38,685.57Z" fill="#f01010" stroke="#700" stroke-width="0.3"/>
<path d="M176.83,686.13 L177.43,687.74 L179.14,687.81 L177.80,688.88 L178.26,690.53 L176.83,689.58 L175.40,690.53 L175.86,688.88 L174.52,687.81 L176.23,687.74Z" fill="#f01010" stroke="#700" stroke-width="0.3"/>
<path d="M183.68,688.23 L184.28,689.84 L185.99,689.91 L184.65,690.98 L185.10,692.63 L183.68,691.68 L182.25,692.63 L182.71,690.98 L181.37,689.91 L183.08,689.84Z" fill="#f01010" stroke="#700" stroke-width="0.3"/>
<path d="M190.52,690.28 L191.12,691.88 L192.84,691.96 L191.50,693.02 L191.95,694.68 L190.52,693.73 L189.10,694.68 L189.55,693.02 L188.21,691.96 L189.93,691.88Z" fill="#f01010" stroke="#700" stroke-width="0.3"/>
<path d="M197.37,692.28 L197.97,693.88 L199.68,693.96 L198.34,695.02 L198.80,696.67 L197.37,695.73 L195.95,696.67 L196.40,695.02 L195.06,693.96 L196.77,693.88Z" fill="#f01010" stroke="#700" stroke-width="0.3"/>
<path d="M204.22,694.23 L204.82,695.84 L206.53,695.91 L205.19,696.98 L205.65,698.63 L204.22,697.68 L202.79,698.63 L203.25,696.98 L201.91,695.91 L203.62,695.84Z" fill="#f01010" stroke="#700" stroke-width="0.3"/>
<path d="M211.07,696.15 L211.67,697.75 L213.38,697.82 L212.04,698.89 L212.50,700.54 L211.07,699.60 L209.64,700.54 L210.10,698.89 L208.76,697.82 L210.47,697.75Z" fill="#f01010" stroke="#700" stroke-width="0.3"/>
<path d="M217.92,698.02 L218.52,699.63 L220.23,699.70 L218.89,700.77 L219.35,702.42 L217.92,701.47 L216.49,702.42 L216.95,700.77 L215.61,699.70 L217.32,699.63Z" fill="#f01010" stroke="#700" stroke-width="0.3"/>
<path d="M224.77,699.87 L225.37,701.47 L227.08,701.55 L225.74,702.61 L226.20,704.26 L224.77,703.32 L223.34,704.26 L223.80,702.61 L222.46,701.55 L224.17,701.47Z" fill="#f01010" stroke="#700" stroke-width="0.3"/>
<path d="M231.62,701.68 L232.22,703.29 L233.93,703.36 L232.59,704.43 L233.05,706.08 L231.62,705.13 L230.19,706.08 L230.65,704.43 L229.31,703.36 L231.02,703.29Z" fill="#f01010" stroke="#700" stroke-width="0.3"/>
<path d="M238.47,703.47 L239.07,705.08 L240.78,705.15 L239.44,706.22 L239.89,707.87 L238.47,706.92 L237.04,707.87 L237.50,706.22 L236.16,705.15 L237.87,705.08Z" fill="#f01010" stroke="#700" stroke-width="0.3"/>
<path d="M245.31,705.22 L245.91,706.82 L247.63,706.90 L246.29,707.96 L246.74,709.61 L245.31,708.67 L243.89,709.61 L244.34,707.96 L243.00,706.90 L244.72,706.82Z" fill="#f01010" stroke="#700" stroke-width="0.3"/>
<path d="M252.16,706.96 L252.76,708.57 L254.47,708.64 L253.13,709.71 L253.59,711.36 L252.16,710.41 L250.74,711.36 L251.19,709.71 L249.85,708.64 L251.56,708.57Z" fill="#f01010" stroke="#700" stroke-width="0.3"/>
<path d="M259.01,708.67 L259.61,710.28 L261.32,710.35 L259.98,711.42 L260.44,713.07 L259.01,712.12 L257.58,713.07 L258.04,711.42 L256.70,710.35 L258.41,710.28Z" fill="#f01010" stroke="#700" stroke-width="0.3"/>
<path d="M265.86,710.37 L266.46,711.98 L268.17,712.05 L266.83,713.12 L267.29,714.77 L265.86,713.82 L264.43,714.77 L264.89,713.12 L263.55,712.05 L265.26,711.98Z" fill="#f01010" stroke="#700" stroke-width="0.3"/>
<path d="M272.71,712.07 L273.31,713.67 L275.02,713.75 L273.68,714.82 L274.14,716.47 L272.71,715.52 L271.28,716.47 L271.74,714.82 L270.40,713.75 L272.11,713.67Z" fill="#f01010" stroke="#700" stroke-width="0.3"/>
<path d="M279.56,713.76 L280.16,715.36 L281.87,715.44 L280.53,716.50 L280.99,718.15 L279.56,717.21 L278.13,718.15 L278.59,716.50 L277.25,715.44 L278.96,715.36Z" fill="#f01010" stroke="#700" stroke-width="0.3"/>
<path d="M286.41,715.44 L287.01,717.04 L288.72,717.12 L287.38,718.18 L287.84,719.83 L286.41,718.89 L284.98,719.83 L285.44,718.18 L284.10,717.12 L285.81,717.04Z" fill="#f01010" stroke="#700" stroke-width="0.3"/>
<path d="M293.26,717.11 L293.86,718.72 L295.57,718.79 L294.23,719.86 L294.68,721.51 L293.26,720.56 L291.83,721.51 L292.29,719.86 L290.95,718.79 L292.66,718.72Z" fill="#f01010" stroke="#700" stroke-width="0.3"/>
<path d="M300.11,718.80 L300.70,720.41 L302.42,720.48 L301.08,721.55 L301.53,723.20 L300.11,722.25 L298.68,723.20 L299.13,721.55 L297.79,720.48 L299.51,720.41Z" fill="#f01010" stroke="#700" stroke-width="0.3"/>
<path d="M306.95,720.51 L307.55,722.12 L309.26,722.19 L307.92,723.26 L308.38,724.91 L306.95,723.96 L305.53,724.91 L305.98,723.26 L304.64,722.19 L306.35,722.12Z" fill="#f01010" stroke="#700" stroke-width="0.3"/>
<path d="M313.80,722.25 L314.40,723.85 L316.11,723.93 L314.77,724.99 L315.23,726.65 L313.80,725.70 L312.37,726.65 L312.83,724.99 L311.49,723.93 L313.20,723.85Z" fill="#f01010" stroke="#700" stroke-width="0.3"/>
<path d="M320.65,724.05 L321.25,725.65 L322.96,725.73 L321.62,726.79 L322.08,728.44 L320.65,727.50 L319.22,728.44 L319.68,726.79 L318.34,725.73 L320.05,725.65Z" fill="#f01010" stroke="#700" stroke-width="0.3"/>
<path d="M327.50,725.93 L328.10,727.54 L329.81,727.61 L328.47,728.68 L328.93,730.33 L327.50,729.38 L326.07,730.33 L326.53,728.68 L325.19,727.61 L326.90,727.54Z" fill="#f01010" stroke="#700" stroke-width="0.3"/>
<path d="M55.08,589.77 L58.86,589.77 L56.97,593.05Z" fill="#f01010" stroke="#700" stroke-width="0.3"/>
<path d="M58.51,604.02 L62.29,604.02 L60.40,607.29Z" fill="#f01010" stroke="#700" stroke-width="0.3"/>
<path d="M61.93,614.97 L65.71,614.97 L63.82,618.25Z" fill="#f01010" stroke="#700" stroke-width="0.3"/>
<path d="M65.36,623.06 L69.14,623.06 L67.25,626.34Z" fill="#f01010" stroke="#700" stroke-width="0.3"/>
<path d="M68.78,629.20 L72.56,629.20 L70.67,632.47Z" fill="#f01010" stroke="#700" stroke-width="0.3"/>
<path d="M72.21,634.18 L75.99,634.18 L74.10,637.45Z" fill="#f01010" stroke="#700" stroke-width="0.3"/>
<path d="M75.63,638.35 L79.41,638.35 L77.52,641.63Z" fill="#f01010" stroke="#700" stroke-width="0.3"/>
<path d="M79.05,641.94 L82.83,641.94 L80.94,645.22Z" fill="#f01010" stroke="#700" stroke-width="0.3"/>
<path d="M82.48,645.11 L86.26,645.11 L84.37,648.39Z" fill="#f01010" stroke="#700" stroke-width="0.3"/>
<path d="M85.90,647.95 L89.68,647.95 L87.79,651.22Z" fill="#f01010" stroke="#700" stroke-width="0.3"/>
<path d="M89.33,650.53 L93.11,650.53 L91.22,653.80Z" fill="#f01010" stroke="#700" stroke-width="0.3"/>
<path d="M92.75,652.90 L96.53,652.90 L94.64,656.17Z" fill="#f01010" stroke="#700" stroke-width="0.3"/>
<path d="M96.18,655.10 L99.96,655.10 L98.07,658.38Z" fill="#f01010" stroke="#700" stroke-width="0.3"/>
<path d="M99.60,657.17 L103.38,657.17 L101.49,660.44Z" fill="#f01010" stroke="#700" stroke-width="0.3"/>
<path d="M103.03,659.11 L106.81,659.11 L104.92,662.38Z" fill="#f01010" stroke="#700" stroke-width="0.3"/>
<path d="M106.45,660.95 L110.23,660.95 L108.34,664.23Z" fill="#f01010" stroke="#700" stroke-width="0.3"/>
<path d="M109.87,662.70 L113.65,662.70 L111.76,665.98Z" fill="#f01010" stroke="#700" stroke-width="0.3"/>
<path d="M113.30,664.38 L117.08,664.38 L115.19,667.65Z" fill="#f01010" stroke="#700" stroke-width="0.3"/>
<path d="M116.72,665.98 L120.50,665.98 L118.61,669.26Z" fill="#f01010" stroke="#700" stroke-width="0.3"/>
<path d="M120.15,667.53 L123.93,667.53 L122.04,670.80Z" fill="#f01010" stroke="#700" stroke-width="0.3"/>
<path d="M123.57,669.02 L127.35,669.02 L125.46,672.30Z" fill="#f01010" stroke="#700" stroke-width="0.3"/>
<path d="M127.00,670.47 L130.78,670.47 L128.89,673.74Z" fill="#f01010" stroke="#700" stroke-width="0.3"/>
<path d="M130.42,671.87 L134.20,671.87 L132.31,675.14Z" fill="#f01010" stroke="#700" stroke-width="0.3"/>
<path d="M133.85,673.23 L137.62,673.23 L135.74,676.50Z" fill="#f01010" stroke="#700" stroke-width="0.3"/>
<path d="M137.27,674.52 L141.05,674.52 L139.16,677.79Z" fill="#f01010" stroke="#700" stroke-width="0.3"/>
<path d="M140.69,675.81 L144.47,675.81 L142.58,679.08Z" fill="#f01010" stroke="#700" stroke-width="0.3"/>
<path d="M144.12,677.07 L147.90,677.07 L146.01,680.35Z" fill="#f01010" stroke="#700" stroke-width="0.3"/>
<path d="M147.54,678.31 L151.32,678.31 L149.43,681.58Z" fill="#f01010" stroke="#700" stroke-width="0.3"/>
<path d="M150.97,679.52 L154.75,679.52 L152.86,682.79Z" fill="#f01010" stroke="#700" stroke-width="0.3"/>
<path d="M154.39,680.70 L158.17,680.70 L156.28,683.98Z" fill="#f01010" stroke="#700" stroke-width="0.3"/>
<path d="M157.82,681.87 L161.60,681.87 L159.71,685.14Z" fill="#f01010" stroke="#700" stroke-width="0.3"/>
<path d="M161.24,683.01 L165.02,683.01 L163.13,686.28Z" fill="#f01010" stroke="#700" stroke-width="0.3"/>
<path d="M164.66,684.13 L168.44,684.13 L166.55,687.40Z" fill="#f01010" stroke="#700" stroke-width="0.3"/>
<path d="M168.09,685.23 L171.87,685.23 L169.98,688.50Z" fill="#f01010" stroke="#700" stroke-width="0.3"/>
<path d="M171.51,686.32 L175.29,686.32 L173.40,689.59Z" fill="#f01010" stroke="#700" stroke-width="0.3"/>
<path d="M174.94,687.39 L178.72,687.39 L176.83,690.66Z" fill="#f01010" stroke="#700" stroke-width="0.3"/>
<path d="M178.36,688.44 L182.14,688.44 L180.25,691.71Z" fill="#f01010" stroke="#700" stroke-width="0.3"/>
<path d="M181.79,689.48 L185.57,689.48 L183.68,692.75Z" fill="#f01010" stroke="#700" stroke-width="0.3"/>
<path d="M185.21,690.50 L188.99,690.50 L187.10,693.78Z" fill="#f01010" stroke="#700" stroke-width="0.3"/>
<path d="M188.63,691.52 L192.41,691.52 L190.52,694.79Z" fill="#f01010" stroke="#700" stroke-width="0.3"/>
<path d="M192.06,692.52 L195.84,692.52 L193.95,695.79Z" fill="#f01010" stroke="#700" stroke-width="0.3"/>
<path d="M195.48,693.50 L199.26,693.50 L197.37,696.78Z" fill="#f01010" stroke="#700" stroke-width="0.3"/>
<path d="M198.91,694.48 L202.69,694.48 L200.80,697.75Z" fill="#f01010" stroke="#700" stroke-width="0.3"/>
<path d="M202.33,695.44 L206.11,695.44 L204.22,698.72Z" fill="#f01010" stroke="#700" stroke-width="0.3"/>
<path d="M205.76,696.40 L209.54,696.40 L207.65,699.67Z" fill="#f01010" stroke="#700" stroke-width="0.3"/>
<path d="M209.18,697.34 L212.96,697.34 L211.07,700.61Z" fill="#f01010" stroke="#700" stroke-width="0.3"/>
<path d="M212.61,698.28 L216.39,698.28 L214.50,701.55Z" fill="#f01010" stroke="#700" stroke-width="0.3"/>
<path d="M216.03,699.20 L219.81,699.20 L217.92,702.47Z" fill="#f01010" stroke="#700" stroke-width="0.3"/>
<path d="M219.45,700.12 L223.23,700.12 L221.34,703.39Z" fill="#f01010" stroke="#700" stroke-width="0.3"/>
<path d="M222.88,701.02 L226.66,701.02 L224.77,704.30Z" fill="#f01010" stroke="#700" stroke-width="0.3"/>
<path d="M226.30,701.92 L230.08,701.92 L228.19,705.20Z" fill="#f01010" stroke="#700" stroke-width="0.3"/>
<path d="M229.73,702.81 L233.51,702.81 L231.62,706.09Z" fill="#f01010" stroke="#700" stroke-width="0.3"/>
<path d="M233.15,703.70 L236.93,703.70 L235.04,706.97Z" fill="#f01010" stroke="#700" stroke-width="0.3"/>
<path d="M236.58,704.57 L240.36,704.57 L238.47,707.85Z" fill="#f01010" stroke="#700" stroke-width="0.3"/>
<path d="M240.00,705.44 L243.78,705.44 L241.89,708.71Z" fill="#f01010" stroke="#700" stroke-width="0.3"/>
<path d="M243.43,706.30 L247.20,706.30 L245.31,709.58Z" fill="#f01010" stroke="#700" stroke-width="0.3"/>
<path d="M246.85,707.16 L250.63,707.16 L248.74,710.43Z" fill="#f01010" stroke="#700" stroke-width="0.3"/>
<path d="M250.27,708.00 L254.05,708.00 L252.16,711.28Z" fill="#f01010" stroke="#700" stroke-width="0.3"/>
<path d="M253.70,708.84 L257.48,708.84 L255.59,712.12Z" fill="#f01010" stroke="#700" stroke-width="0.3"/>
<path d="M257.12,709.68 L260.90,709.68 L259.01,712.95Z" fill="#f01010" stroke="#700" stroke-width="0.3"/>
<path d="M260.55,710.51 L264.33,710.51 L262.44,713.78Z" fill="#f01010" stroke="#700" stroke-width="0.3"/>
<path d="M263.97,711.33 L267.75,711.33 L265.86,714.61Z" fill="#f01010" stroke="#700" stroke-width="0.3"/>
<path d="M267.40,712.15 L271.18,712.15 L269.29,715.43Z" fill="#f01010" stroke="#700" stroke-width="0.3"/>
<path d="M270.82,712.97 L274.60,712.97 L272.71,716.24Z" fill="#f01010" stroke="#700" stroke-width="0.3"/>
<path d="M274.24,713.78 L278.02,713.78 L276.13,717.05Z" fill="#f01010" stroke="#700" stroke-width="0.3"/>
<path d="M277.67,714.58 L281.45,714.58 L279.56,717.85Z" fill="#f01010" stroke="#700" stroke-width="0.3"/>
<path d="M281.09,715.39 L284.87,715.39 L282.98,718.66Z" fill="#f01010" stroke="#700" stroke-width="0.3"/>
<path d="M284.52,716.19 L288.30,716.19 L286.41,719.47Z" fill="#f01010" stroke="#700" stroke-width="0.3"/>
<path d="M287.94,716.99 L291.72,716.99 L289.83,720.27Z" fill="#f01010" stroke="#700" stroke-width="0.3"/>
<path d="M291.37,717.79 L295.15,717.79 L293.26,721.07Z" fill="#f01010" stroke="#700" stroke-width="0.3"/>
<path d="M294.79,718.60 L298.57,718.60 L296.68,721.88Z" fill="#f01010" stroke="#700" stroke-width="0.3"/>
<path d="M298.22,719.41 L302.00,719.41 L300.11,722.68Z" fill="#f01010" stroke="#700" stroke-width="0.3"/>
<path d="M301.64,720.21 L305.42,720.21 L303.53,723.48Z" fill="#f01010" stroke="#700" stroke-width="0.3"/>
<path d="M305.06,721.03 L308.84,721.03 L306.95,724.30Z" fill="#f01010" stroke="#700" stroke-width="0.3"/>
<path d="M308.49,721.84 L312.27,721.84 L310.38,725.12Z" fill="#f01010" stroke="#700" stroke-width="0.3"/>
<path d="M311.91,722.67 L315.69,722.67 L313.80,725.94Z" fill="#f01010" stroke="#700" stroke-width="0.3"/>
<path d="M315.34,723.51 L319.12,723.51 L317.23,726.78Z" fill="#f01010" stroke="#700" stroke-width="0.3"/>
<path d="M318.76,724.36 L322.54,724.36 L320.65,727.63Z" fill="#f01010" stroke="#700" stroke-width="0.3"/>
<path d="M322.19,725.27 L325.97,725.27 L324.08,728.54Z" fill="#f01010" stroke="#700" stroke-width="0.3"/>
<path d="M325.61,726.22 L329.39,726.22 L327.50,729.49Z" fill="#f01010" stroke="#700" stroke-width="0.3"/>
</g>
<rect x="231.6" y="610.6" width="68.6" height="54.9" fill="#fff" stroke="#111" stroke-width="1"/>
<path d="M242.60,622.67 L250.00,622.67 L246.30,629.07Z" fill="#ff0000" stroke="none" stroke-width="0"/>
<path d="M246.30,641.50 L247.39,644.40 L250.49,644.54 L248.06,646.47 L248.89,649.46 L246.30,647.75 L243.71,649.46 L244.54,646.47 L242.11,644.54 L245.21,644.40Z" fill="#ff0000" stroke="none" stroke-width="0"/>
<text x="256.60" y="629.70" font-family="Liberation Sans" font-size="12.2" text-anchor="start" >25m</text>
<text x="256.60" y="650.30" font-family="Liberation Sans" font-size="12.2" text-anchor="start" >50m</text>
<line x1="393.90" y1="772.80" x2="393.90" y2="777.60" stroke="#333" stroke-width="0.75" />
<line x1="393.90" y1="581.00" x2="393.90" y2="576.20" stroke="#888" stroke-width="0.75" />
<line x1="407.58" y1="772.80" x2="407.58" y2="775.20" stroke="#333" stroke-width="0.75" />
<line x1="407.58" y1="581.00" x2="407.58" y2="578.60" stroke="#888" stroke-width="0.75" />
<line x1="421.27" y1="772.80" x2="421.27" y2="775.20" stroke="#333" stroke-width="0.75" />
<line x1="421.27" y1="581.00" x2="421.27" y2="578.60" stroke="#888" stroke-width="0.75" />
<line x1="434.95" y1="772.80" x2="434.95" y2="775.20" stroke="#333" stroke-width="0.75" />
<line x1="434.95" y1="581.00" x2="434.95" y2="578.60" stroke="#888" stroke-width="0.75" />
<line x1="448.64" y1="772.80" x2="448.64" y2="775.20" stroke="#333" stroke-width="0.75" />
<line x1="448.64" y1="581.00" x2="448.64" y2="578.60" stroke="#888" stroke-width="0.75" />
<line x1="462.32" y1="772.80" x2="462.32" y2="777.60" stroke="#333" stroke-width="0.75" />
<line x1="462.32" y1="581.00" x2="462.32" y2="576.20" stroke="#888" stroke-width="0.75" />
<line x1="476.01" y1="772.80" x2="476.01" y2="775.20" stroke="#333" stroke-width="0.75" />
<line x1="476.01" y1="581.00" x2="476.01" y2="578.60" stroke="#888" stroke-width="0.75" />
<line x1="489.69" y1="772.80" x2="489.69" y2="775.20" stroke="#333" stroke-width="0.75" />
<line x1="489.69" y1="581.00" x2="489.69" y2="578.60" stroke="#888" stroke-width="0.75" />
<line x1="503.38" y1="772.80" x2="503.38" y2="775.20" stroke="#333" stroke-width="0.75" />
<line x1="503.38" y1="581.00" x2="503.38" y2="578.60" stroke="#888" stroke-width="0.75" />
<line x1="517.07" y1="772.80" x2="517.07" y2="775.20" stroke="#333" stroke-width="0.75" />
<line x1="517.07" y1="581.00" x2="517.07" y2="578.60" stroke="#888" stroke-width="0.75" />
<line x1="530.75" y1="772.80" x2="530.75" y2="777.60" stroke="#333" stroke-width="0.75" />
<line x1="530.75" y1="581.00" x2="530.75" y2="576.20" stroke="#888" stroke-width="0.75" />
<line x1="544.43" y1="772.80" x2="544.43" y2="775.20" stroke="#333" stroke-width="0.75" />
<line x1="544.43" y1="581.00" x2="544.43" y2="578.60" stroke="#888" stroke-width="0.75" />
<line x1="558.12" y1="772.80" x2="558.12" y2="775.20" stroke="#333" stroke-width="0.75" />
<line x1="558.12" y1="581.00" x2="558.12" y2="578.60" stroke="#888" stroke-width="0.75" />
<line x1="571.81" y1="772.80" x2="571.81" y2="775.20" stroke="#333" stroke-width="0.75" />
<line x1="571.81" y1="581.00" x2="571.81" y2="578.60" stroke="#888" stroke-width="0.75" />
<line x1="585.49" y1="772.80" x2="585.49" y2="775.20" stroke="#333" stroke-width="0.75" />
<line x1="585.49" y1="581.00" x2="585.49" y2="578.60" stroke="#888" stroke-width="0.75" />
<line x1="599.17" y1="772.80" x2="599.17" y2="777.60" stroke="#333" stroke-width="0.75" />
<line x1="599.17" y1="581.00" x2="599.17" y2="576.20" stroke="#888" stroke-width="0.75" />
<line x1="612.86" y1="772.80" x2="612.86" y2="775.20" stroke="#333" stroke-width="0.75" />
<line x1="612.86" y1="581.00" x2="612.86" y2="578.60" stroke="#888" stroke-width="0.75" />
<line x1="626.55" y1="772.80" x2="626.55" y2="775.20" stroke="#333" stroke-width="0.75" />
<line x1="626.55" y1="581.00" x2="626.55" y2="578.60" stroke="#888" stroke-width="0.75" />
<line x1="640.23" y1="772.80" x2="640.23" y2="775.20" stroke="#333" stroke-width="0.75" />
<line x1="640.23" y1="581.00" x2="640.23" y2="578.60" stroke="#888" stroke-width="0.75" />
<line x1="653.91" y1="772.80" x2="653.91" y2="775.20" stroke="#333" stroke-width="0.75" />
<line x1="653.91" y1="581.00" x2="653.91" y2="578.60" stroke="#888" stroke-width="0.75" />
<line x1="667.60" y1="772.80" x2="667.60" y2="777.60" stroke="#333" stroke-width="0.75" />
<line x1="667.60" y1="581.00" x2="667.60" y2="576.20" stroke="#888" stroke-width="0.75" />
<line x1="393.90" y1="772.80" x2="389.10" y2="772.80" stroke="#333" stroke-width="0.75" />
<line x1="667.60" y1="772.80" x2="672.40" y2="772.80" stroke="#888" stroke-width="0.75" />
<line x1="393.90" y1="740.83" x2="389.10" y2="740.83" stroke="#333" stroke-width="0.75" />
<line x1="667.60" y1="740.83" x2="672.40" y2="740.83" stroke="#888" stroke-width="0.75" />
<line x1="393.90" y1="708.87" x2="389.10" y2="708.87" stroke="#333" stroke-width="0.75" />
<line x1="667.60" y1="708.87" x2="672.40" y2="708.87" stroke="#888" stroke-width="0.75" />
<line x1="393.90" y1="676.90" x2="389.10" y2="676.90" stroke="#333" stroke-width="0.75" />
<line x1="667.60" y1="676.90" x2="672.40" y2="676.90" stroke="#888" stroke-width="0.75" />
<line x1="393.90" y1="644.93" x2="389.10" y2="644.93" stroke="#333" stroke-width="0.75" />
<line x1="667.60" y1="644.93" x2="672.40" y2="644.93" stroke="#888" stroke-width="0.75" />
<line x1="393.90" y1="612.97" x2="389.10" y2="612.97" stroke="#333" stroke-width="0.75" />
<line x1="667.60" y1="612.97" x2="672.40" y2="612.97" stroke="#888" stroke-width="0.75" />
<line x1="393.90" y1="581.00" x2="389.10" y2="581.00" stroke="#333" stroke-width="0.75" />
<line x1="667.60" y1="581.00" x2="672.40" y2="581.00" stroke="#888" stroke-width="0.75" />
<line x1="393.90" y1="769.60" x2="391.50" y2="769.60" stroke="#333" stroke-width="0.75" />
<line x1="667.60" y1="769.60" x2="670.00" y2="769.60" stroke="#888" stroke-width="0.75" />
<line x1="393.90" y1="766.41" x2="391.50" y2="766.41" stroke="#333" stroke-width="0.75" />
<line x1="667.60" y1="766.41" x2="670.00" y2="766.41" stroke="#888" stroke-width="0.75" />
<line x1="393.90" y1="763.21" x2="391.50" y2="763.21" stroke="#333" stroke-width="0.75" />
<line x1="667.60" y1="763.21" x2="670.00" y2="763.21" stroke="#888" stroke-width="0.75" />
<line x1="393.90" y1="760.01" x2="391.50" y2="760.01" stroke="#333" stroke-width="0.75" />
<line x1="667.60" y1="760.01" x2="670.00" y2="760.01" stroke="#888" stroke-width="0.75" />
<line x1="393.90" y1="756.82" x2="391.50" y2="756.82" stroke="#333" stroke-width="0.75" />
<line x1="667.60" y1="756.82" x2="670.00" y2="756.82" stroke="#888" stroke-width="0.75" />
<line x1="393.90" y1="753.62" x2="391.50" y2="753.62" stroke="#333" stroke-width="0.75" />
<line x1="667.60" y1="753.62" x2="670.00" y2="753.62" stroke="#888" stroke-width="0.75" />
<line x1="393.90" y1="750.42" x2="391.50" y2="750.42" stroke="#333" stroke-width="0.75" />
<line x1="667.60" y1="750.42" x2="670.00" y2="750.42" stroke="#888" stroke-width="0.75" />
<line x1="393.90" y1="747.23" x2="391.50" y2="747.23" stroke="#333" stroke-width="0.75" />
<line x1="667.60" y1="747.23" x2="670.00" y2="747.23" stroke="#888" stroke-width="0.75" />
<line x1="393.90" y1="744.03" x2="391.50" y2="744.03" stroke="#333" stroke-width="0.75" />
<line x1="667.60" y1="744.03" x2="670.00" y2="744.03" stroke="#888" stroke-width="0.75" />
<line x1="393.90" y1="737.64" x2="391.50" y2="737.64" stroke="#333" stroke-width="0.75" />
<line x1="667.60" y1="737.64" x2="670.00" y2="737.64" stroke="#888" stroke-width="0.75" />
<line x1="393.90" y1="734.44" x2="391.50" y2="734.44" stroke="#333" stroke-width="0.75" />
<line x1="667.60" y1="734.44" x2="670.00" y2="734.44" stroke="#888" stroke-width="0.75" />
<line x1="393.90" y1="731.24" x2="391.50" y2="731.24" stroke="#333" stroke-width="0.75" />
<line x1="667.60" y1="731.24" x2="670.00" y2="731.24" stroke="#888" stroke-width="0.75" />
<line x1="393.90" y1="728.05" x2="391.50" y2="728.05" stroke="#333" stroke-width="0.75" />
<line x1="667.60" y1="728.05" x2="670.00" y2="728.05" stroke="#888" stroke-width="0.75" />
<line x1="393.90" y1="724.85" x2="391.50" y2="724.85" stroke="#333" stroke-width="0.75" />
<line x1="667.60" y1="724.85" x2="670.00" y2="724.85" stroke="#888" stroke-width="0.75" />
<line x1="393.90" y1="721.65" x2="391.50" y2="721.65" stroke="#333" stroke-width="0.75" />
<line x1="667.60" y1="721.65" x2="670.00" y2="721.65" stroke="#888" stroke-width="0.75" />
<line x1="393.90" y1="718.46" x2="391.50" y2="718.46" stroke="#333" stroke-width="0.75" />
<line x1="667.60" y1="718.46" x2="670.00" y2="718.46" stroke="#888" stroke-width="0.75" />
<line x1="393.90" y1="715.26" x2="391.50" y2="715.26" stroke="#333" stroke-width="0.75" />
<line x1="667.60" y1="715.26" x2="670.00" y2="715.26" stroke="#888" stroke-width="0.75" />
<line x1="393.90" y1="712.06" x2="391.50" y2="712.06" stroke="#333" stroke-width="0.75" />
<line x1="667.60" y1="712.06" x2="670.00" y2="712.06" stroke="#888" stroke-width="0.75" />
<line x1="393.90" y1="705.67" x2="391.50" y2="705.67" stroke="#333" stroke-width="0.75" />
<line x1="667.60" y1="705.67" x2="670.00" y2="705.67" stroke="#888" stroke-width="0.75" />
<line x1="393.90" y1="702.47" x2="391.50" y2="702.47" stroke="#333" stroke-width="0.75" />
<line x1="667.60" y1="702.47" x2="670.00" y2="702.47" stroke="#888" stroke-width="0.75" />
<line x1="393.90" y1="699.28" x2="391.50" y2="699.28" stroke="#333" stroke-width="0.75" />
<line x1="667.60" y1="699.28" x2="670.00" y2="699.28" stroke="#888" stroke-width="0.75" />
<line x1="393.90" y1="696.08" x2="391.50" y2="696.08" stroke="#333" stroke-width="0.75" />
<line x1="667.60" y1="696.08" x2="670.00" y2="696.08" stroke="#888" stroke-width="0.75" />
<line x1="393.90" y1="692.88" x2="391.50" y2="692.88" stroke="#333" stroke-width="0.75" />
<line x1="667.60" y1="692.88" x2="670.00" y2="692.88" stroke="#888" stroke-width="0.75" />
<line x1="393.90" y1="689.69" x2="391.50" y2="689.69" stroke="#333" stroke-width="0.75" />
<line x1="667.60" y1="689.69" x2="670.00" y2="689.69" stroke="#888" stroke-width="0.75" />
<line x1="393.90" y1="686.49" x2="391.50" y2="686.49" stroke="#333" stroke-width="0.75" />
<line x1="667.60" y1="686.49" x2="670.00" y2="686.49" stroke="#888" stroke-width="0.75" />
<line x1="393.90" y1="683.29" x2="391.50" y2="683.29" stroke="#333" stroke-width="0.75" />
<line x1="667.60" y1="683.29" x2="670.00" y2="683.29" stroke="#888" stroke-width="0.75" />
<line x1="393.90" y1="680.10" x2="391.50" y2="680.10" stroke="#333" stroke-width="0.75" />
<line x1="667.60" y1="680.10" x2="670.00" y2="680.10" stroke="#888" stroke-width="0.75" />
<line x1="393.90" y1="673.70" x2="391.50" y2="673.70" stroke="#333" stroke-width="0.75" />
<line x1="667.60" y1="673.70" x2="670.00" y2="673.70" stroke="#888" stroke-width="0.75" />
<line x1="393.90" y1="670.51" x2="391.50" y2="670.51" stroke="#333" stroke-width="0.75" />
<line x1="667.60" y1="670.51" x2="670.00" y2="670.51" stroke="#888" stroke-width="0.75" />
<line x1="393.90" y1="667.31" x2="391.50" y2="667.31" stroke="#333" stroke-width="0.75" />
<line x1="667.60" y1="667.31" x2="670.00" y2="667.31" stroke="#888" stroke-width="0.75" />
<line x1="393.90" y1="664.11" x2="391.50" y2="664.11" stroke="#333" stroke-width="0.75" />
<line x1="667.60" y1="664.11" x2="670.00" y2="664.11" stroke="#888" stroke-width="0.75" />
<line x1="393.90" y1="660.92" x2="391.50" y2="660.92" stroke="#333" stroke-width="0.75" />
<line x1="667.60" y1="660.92" x2="670.00" y2="660.92" stroke="#888" stroke-width="0.75" />
<line x1="393.90" y1="657.72" x2="391.50" y2="657.72" stroke="#333" stroke-width="0.75" />
<line x1="667.60" y1="657.72" x2="670.00" y2="657.72" stroke="#888" stroke-width="0.75" />
<line x1="393.90" y1="654.52" x2="391.50" y2="654.52" stroke="#333" stroke-width="0.75" />
<line x1="667.60" y1="654.52" x2="670.00" y2="654.52" stroke="#888" stroke-width="0.75" />
<line x1="393.90" y1="651.33" x2="391.50" y2="651.33" stroke="#333" stroke-width="0.75" />
<line x1="667.60" y1="651.33" x2="670.00" y2="651.33" stroke="#888" stroke-width="0.75" />
<line x1="393.90" y1="648.13" x2="391.50" y2="648.13" stroke="#333" stroke-width="0.75" />
<line x1="667.60" y1="648.13" x2="670.00" y2="648.13" stroke="#888" stroke-width="0.75" />
<line x1="393.90" y1="641.74" x2="391.50" y2="641.74" stroke="#333" stroke-width="0.75" />
<line x1="667.60" y1="641.74" x2="670.00" y2="641.74" stroke="#888" stroke-width="0.75" />
<line x1="393.90" y1="638.54" x2="391.50" y2="638.54" stroke="#333" stroke-width="0.75" />
<line x1="667.60" y1="638.54" x2="670.00" y2="638.54" stroke="#888" stroke-width="0.75" />
<line x1="393.90" y1="635.34" x2="391.50" y2="635.34" stroke="#333" stroke-width="0.75" />
<line x1="667.60" y1="635.34" x2="670.00" y2="635.34" stroke="#888" stroke-width="0.75" />
<line x1="393.90" y1="632.15" x2="391.50" y2="632.15" stroke="#333" stroke-width="0.75" />
<line x1="667.60" y1="632.15" x2="670.00" y2="632.15" stroke="#888" stroke-width="0.75" />
<line x1="393.90" y1="628.95" x2="391.50" y2="628.95" stroke="#333" stroke-width="0.75" />
<line x1="667.60" y1="628.95" x2="670.00" y2="628.95" stroke="#888" stroke-width="0.75" />
<line x1="393.90" y1="625.75" x2="391.50" y2="625.75" stroke="#333" stroke-width="0.75" />
<line x1="667.60" y1="625.75" x2="670.00" y2="625.75" stroke="#888" stroke-width="0.75" />
<line x1="393.90" y1="622.56" x2="391.50" y2="622.56" stroke="#333" stroke-width="0.75" />
<line x1="667.60" y1="622.56" x2="670.00" y2="622.56" stroke="#888" stroke-width="0.75" />
<line x1="393.90" y1="619.36" x2="391.50" y2="619.36" stroke="#333" stroke-width="0.75" />
<line x1="667.60" y1="619.36" x2="670.00" y2="619.36" stroke="#888" stroke-width="0.75" />
<line x1="393.90" y1="616.16" x2="391.50" y2="616.16" stroke="#333" stroke-width="0.75" />
<line x1="667.60" y1="616.16" x2="670.00" y2="616.16" stroke="#888" stroke-width="0.75" />
<line x1="393.90" y1="609.77" x2="391.50" y2="609.77" stroke="#333" stroke-width="0.75" />
<line x1="667.60" y1="609.77" x2="670.00" y2="609.77" stroke="#888" stroke-width="0.75" />
<line x1="393.90" y1="606.57" x2="391.50" y2="606.57" stroke="#333" stroke-width="0.75" />
<line x1="667.60" y1="606.57" x2="670.00" y2="606.57" stroke="#888" stroke-width="0.75" />
<line x1="393.90" y1="603.38" x2="391.50" y2="603.38" stroke="#333" stroke-width="0.75" />
<line x1="667.60" y1="603.38" x2="670.00" y2="603.38" stroke="#888" stroke-width="0.75" />
<line x1="393.90" y1="600.18" x2="391.50" y2="600.18" stroke="#333" stroke-width="0.75" />
<line x1="667.60" y1="600.18" x2="670.00" y2="600.18" stroke="#888" stroke-width="0.75" />
<line x1="393.90" y1="596.98" x2="391.50" y2="596.98" stroke="#333" stroke-width="0.75" />
<line x1="667.60" y1="596.98" x2="670.00" y2="596.98" stroke="#888" stroke-width="0.75" />
<line x1="393.90" y1="593.79" x2="391.50" y2="593.79" stroke="#333" stroke-width="0.75" />
<line x1="667.60" y1="593.79" x2="670.00" y2="593.79" stroke="#888" stroke-width="0.75" />
<line x1="393.90" y1="590.59" x2="391.50" y2="590.59" stroke="#333" stroke-width="0.75" />
<line x1="667.60" y1="590.59" x2="670.00" y2="590.59" stroke="#888" stroke-width="0.75" />
<line x1="393.90" y1="587.39" x2="391.50" y2="587.39" stroke="#333" stroke-width="0.75" />
<line x1="667.60" y1="587.39" x2="670.00" y2="587.39" stroke="#888" stroke-width="0.75" />
<line x1="393.90" y1="584.20" x2="391.50" y2="584.20" stroke="#333" stroke-width="0.75" />
<line x1="667.60" y1="584.20" x2="670.00" y2="584.20" stroke="#888" stroke-width="0.75" />
<rect x="393.90" y="581.00" width="273.70" height="191.80" fill="none" stroke="#000" stroke-width="1.6"/>
<text x="393.90" y="790.60" font-family="Liberation Sans" font-size="12" text-anchor="middle" >0</text>
<text x="462.32" y="790.60" font-family="Liberation Sans" font-size="12" text-anchor="middle" >500</text>
<text x="530.75" y="790.60" font-family="Liberation Sans" font-size="12" text-anchor="middle" >1000</text>
<text x="599.17" y="790.60" font-family="Liberation Sans" font-size="12" text-anchor="middle" >1500</text>
<text x="667.60" y="790.60" font-family="Liberation Sans" font-size="12" text-anchor="middle" >2000</text>
<text x="383.90" y="777.40" font-family="Liberation Sans" font-size="12" text-anchor="end">0</text>
<text x="383.90" y="745.43" font-family="Liberation Sans" font-size="12" text-anchor="end">10</text>
<text x="383.90" y="713.47" font-family="Liberation Sans" font-size="12" text-anchor="end">20</text>
<text x="383.90" y="681.50" font-family="Liberation Sans" font-size="12" text-anchor="end">30</text>
<text x="383.90" y="649.53" font-family="Liberation Sans" font-size="12" text-anchor="end">40</text>
<text x="383.90" y="617.57" font-family="Liberation Sans" font-size="12" text-anchor="end">50</text>
<text x="383.90" y="585.60" font-family="Liberation Sans" font-size="12" text-anchor="end">60</text>
<text font-family="Liberation Sans" font-size="15.6" transform="translate(416.50,813.90) scale(0.968,1)">Source–Receiver Separation [m]</text>
<text x="0" y="0" font-family="Liberation Sans" font-size="15.5" text-anchor="middle" transform="translate(362.70,676.90) rotate(-90)">Relative Error [%]</text>
<text class="s" x="389.50" y="571.00" font-family="Liberation Serif" font-size="21" text-anchor="start" >(f)</text>
<line x1="393.9" y1="756.82" x2="667.6" y2="756.82" stroke="#555" stroke-width="1.3" stroke-dasharray="7.3,4.15"/>
<clipPath id="cf"><rect x="393.9" y="581.0" width="275.70000000000005" height="191.79999999999995"/></clipPath>
<g clip-path="url(#cf)">
<path d="M400.74,670.13 L401.31,671.64 L402.93,671.72 L401.66,672.72 L402.09,674.28 L400.74,673.39 L399.39,674.28 L399.83,672.72 L398.56,671.72 L400.18,671.64Z" fill="#c41010" stroke="#550000" stroke-width="0.35"/>
<path d="M407.58,743.65 L408.15,745.17 L409.77,745.24 L408.50,746.25 L408.93,747.80 L407.58,746.91 L406.24,747.80 L406.67,746.25 L405.40,745.24 L407.02,745.17Z" fill="#c41010" stroke="#550000" stroke-width="0.35"/>
<path d="M414.43,759.32 L414.99,760.83 L416.61,760.90 L415.34,761.91 L415.78,763.47 L414.43,762.58 L413.08,763.47 L413.51,761.91 L412.24,760.90 L413.86,760.83Z" fill="#c41010" stroke="#550000" stroke-width="0.35"/>
<path d="M421.27,763.15 L421.84,764.67 L423.45,764.74 L422.19,765.75 L422.62,767.30 L421.27,766.41 L419.92,767.30 L420.35,765.75 L419.09,764.74 L420.70,764.67Z" fill="#c41010" stroke="#550000" stroke-width="0.35"/>
<path d="M428.11,764.43 L428.68,765.95 L430.30,766.02 L429.03,767.02 L429.46,768.58 L428.11,767.69 L426.76,768.58 L427.20,767.02 L425.93,766.02 L427.55,765.95Z" fill="#c41010" stroke="#550000" stroke-width="0.35"/>
<path d="M434.95,765.71 L435.52,767.23 L437.14,767.30 L435.87,768.30 L436.30,769.86 L434.95,768.97 L433.61,769.86 L434.04,768.30 L432.77,767.30 L434.39,767.23Z" fill="#c41010" stroke="#550000" stroke-width="0.35"/>
<path d="M441.80,766.30 L442.36,767.82 L443.98,767.89 L442.71,768.89 L443.15,770.45 L441.80,769.56 L440.45,770.45 L440.88,768.89 L439.61,767.89 L441.23,767.82Z" fill="#c41010" stroke="#550000" stroke-width="0.35"/>
<path d="M448.64,766.79 L449.21,768.30 L450.82,768.37 L449.56,769.38 L449.99,770.94 L448.64,770.05 L447.29,770.94 L447.72,769.38 L446.46,768.37 L448.07,768.30Z" fill="#c41010" stroke="#550000" stroke-width="0.35"/>
<path d="M455.48,767.16 L456.05,768.67 L457.67,768.74 L456.40,769.75 L456.83,771.31 L455.48,770.42 L454.13,771.31 L454.57,769.75 L453.30,768.74 L454.92,768.67Z" fill="#c41010" stroke="#550000" stroke-width="0.35"/>
<path d="M462.32,767.49 L462.89,769.01 L464.51,769.08 L463.24,770.09 L463.67,771.64 L462.32,770.75 L460.98,771.64 L461.41,770.09 L460.14,769.08 L461.76,769.01Z" fill="#c41010" stroke="#550000" stroke-width="0.35"/>
<path d="M469.17,767.79 L469.73,769.31 L471.35,769.38 L470.08,770.39 L470.52,771.94 L469.17,771.05 L467.82,771.94 L468.25,770.39 L466.98,769.38 L468.60,769.31Z" fill="#c41010" stroke="#550000" stroke-width="0.35"/>
<path d="M476.01,767.95 L476.58,769.46 L478.19,769.53 L476.93,770.54 L477.36,772.10 L476.01,771.21 L474.66,772.10 L475.09,770.54 L473.83,769.53 L475.44,769.46Z" fill="#c41010" stroke="#550000" stroke-width="0.35"/>
<path d="M482.85,767.95 L483.42,769.46 L485.04,769.53 L483.77,770.54 L484.20,772.10 L482.85,771.21 L481.50,772.10 L481.94,770.54 L480.67,769.53 L482.29,769.46Z" fill="#c41010" stroke="#550000" stroke-width="0.35"/>
<path d="M489.69,767.95 L490.26,769.46 L491.88,769.53 L490.61,770.54 L491.04,772.10 L489.69,771.21 L488.35,772.10 L488.78,770.54 L487.51,769.53 L489.13,769.46Z" fill="#c41010" stroke="#550000" stroke-width="0.35"/>
<path d="M496.54,767.95 L497.10,769.46 L498.72,769.53 L497.45,770.54 L497.89,772.10 L496.54,771.21 L495.19,772.10 L495.62,770.54 L494.35,769.53 L495.97,769.46Z" fill="#c41010" stroke="#550000" stroke-width="0.35"/>
<path d="M503.38,767.86 L503.95,769.38 L505.56,769.45 L504.30,770.46 L504.73,772.02 L503.38,771.12 L502.03,772.02 L502.46,770.46 L501.20,769.45 L502.81,769.38Z" fill="#c41010" stroke="#550000" stroke-width="0.35"/>
<path d="M510.22,767.71 L510.79,769.22 L512.41,769.29 L511.14,770.30 L511.57,771.86 L510.22,770.97 L508.87,771.86 L509.31,770.30 L508.04,769.29 L509.66,769.22Z" fill="#c41010" stroke="#550000" stroke-width="0.35"/>
<path d="M517.07,767.54 L517.63,769.05 L519.25,769.13 L517.98,770.13 L518.41,771.69 L517.07,770.80 L515.72,771.69 L516.15,770.13 L514.88,769.13 L516.50,769.05Z" fill="#c41010" stroke="#550000" stroke-width="0.35"/>
<path d="M523.91,767.36 L524.47,768.88 L526.09,768.95 L524.82,769.96 L525.26,771.51 L523.91,770.62 L522.56,771.51 L522.99,769.96 L521.72,768.95 L523.34,768.88Z" fill="#c41010" stroke="#550000" stroke-width="0.35"/>
<path d="M530.75,767.09 L531.32,768.60 L532.93,768.67 L531.67,769.68 L532.10,771.24 L530.75,770.35 L529.40,771.24 L529.83,769.68 L528.57,768.67 L530.18,768.60Z" fill="#c41010" stroke="#550000" stroke-width="0.35"/>
<path d="M537.59,766.75 L538.16,768.26 L539.78,768.33 L538.51,769.34 L538.94,770.90 L537.59,770.01 L536.24,770.90 L536.68,769.34 L535.41,768.33 L537.03,768.26Z" fill="#c41010" stroke="#550000" stroke-width="0.35"/>
<path d="M544.43,766.37 L545.00,767.89 L546.62,767.96 L545.35,768.96 L545.78,770.52 L544.43,769.63 L543.09,770.52 L543.52,768.96 L542.25,767.96 L543.87,767.89Z" fill="#c41010" stroke="#550000" stroke-width="0.35"/>
<path d="M551.28,765.96 L551.84,767.47 L553.46,767.54 L552.19,768.55 L552.63,770.11 L551.28,769.22 L549.93,770.11 L550.36,768.55 L549.09,767.54 L550.71,767.47Z" fill="#c41010" stroke="#550000" stroke-width="0.35"/>
<path d="M558.12,765.43 L558.69,766.95 L560.30,767.02 L559.04,768.03 L559.47,769.58 L558.12,768.69 L556.77,769.58 L557.20,768.03 L555.94,767.02 L557.55,766.95Z" fill="#c41010" stroke="#550000" stroke-width="0.35"/>
<path d="M564.96,764.83 L565.53,766.34 L567.15,766.41 L565.88,767.42 L566.31,768.98 L564.96,768.09 L563.61,768.98 L564.05,767.42 L562.78,766.41 L564.40,766.34Z" fill="#c41010" stroke="#550000" stroke-width="0.35"/>
<path d="M571.81,764.07 L572.37,765.59 L573.99,765.66 L572.72,766.67 L573.15,768.23 L571.81,767.33 L570.46,768.23 L570.89,766.67 L569.62,765.66 L571.24,765.59Z" fill="#c41010" stroke="#550000" stroke-width="0.35"/>
<path d="M578.65,763.21 L579.21,764.72 L580.83,764.79 L579.56,765.80 L580.00,767.36 L578.65,766.47 L577.30,767.36 L577.73,765.80 L576.46,764.79 L578.08,764.72Z" fill="#c41010" stroke="#550000" stroke-width="0.35"/>
<path d="M585.49,762.83 L586.06,764.35 L587.67,764.42 L586.41,765.43 L586.84,766.98 L585.49,766.09 L584.14,766.98 L584.57,765.43 L583.31,764.42 L584.92,764.35Z" fill="#c41010" stroke="#550000" stroke-width="0.35"/>
<path d="M592.33,761.55 L592.90,763.07 L594.52,763.14 L593.25,764.15 L593.68,765.71 L592.33,764.81 L590.98,765.71 L591.42,764.15 L590.15,763.14 L591.77,763.07Z" fill="#c41010" stroke="#550000" stroke-width="0.35"/>
<path d="M599.17,760.60 L599.74,762.11 L601.36,762.18 L600.09,763.19 L600.52,764.75 L599.17,763.85 L597.83,764.75 L598.26,763.19 L596.99,762.18 L598.61,762.11Z" fill="#c41010" stroke="#550000" stroke-width="0.35"/>
<path d="M606.02,759.32 L606.58,760.83 L608.20,760.90 L606.93,761.91 L607.37,763.47 L606.02,762.58 L604.67,763.47 L605.10,761.91 L603.83,760.90 L605.45,760.83Z" fill="#c41010" stroke="#550000" stroke-width="0.35"/>
<path d="M612.86,757.40 L613.43,758.91 L615.04,758.98 L613.78,759.99 L614.21,761.55 L612.86,760.66 L611.51,761.55 L611.94,759.99 L610.68,758.98 L612.29,758.91Z" fill="#c41010" stroke="#550000" stroke-width="0.35"/>
<path d="M619.70,755.16 L620.27,756.68 L621.89,756.75 L620.62,757.75 L621.05,759.31 L619.70,758.42 L618.35,759.31 L618.79,757.75 L617.52,756.75 L619.14,756.68Z" fill="#c41010" stroke="#550000" stroke-width="0.35"/>
<path d="M626.55,752.60 L627.11,754.12 L628.73,754.19 L627.46,755.20 L627.89,756.76 L626.55,755.86 L625.20,756.76 L625.63,755.20 L624.36,754.19 L625.98,754.12Z" fill="#c41010" stroke="#550000" stroke-width="0.35"/>
<path d="M633.39,749.73 L633.95,751.24 L635.57,751.31 L634.30,752.32 L634.74,753.88 L633.39,752.99 L632.04,753.88 L632.47,752.32 L631.20,751.31 L632.82,751.24Z" fill="#c41010" stroke="#550000" stroke-width="0.35"/>
<path d="M640.23,745.89 L640.80,747.41 L642.41,747.48 L641.15,748.48 L641.58,750.04 L640.23,749.15 L638.88,750.04 L639.31,748.48 L638.05,747.48 L639.66,747.41Z" fill="#c41010" stroke="#550000" stroke-width="0.35"/>
<path d="M647.07,741.10 L647.64,742.61 L649.26,742.68 L647.99,743.69 L648.42,745.25 L647.07,744.35 L645.72,745.25 L646.16,743.69 L644.89,742.68 L646.51,742.61Z" fill="#c41010" stroke="#550000" stroke-width="0.35"/>
<path d="M653.91,735.34 L654.48,736.86 L656.10,736.93 L654.83,737.93 L655.26,739.49 L653.91,738.60 L652.57,739.49 L653.00,737.93 L651.73,736.93 L653.35,736.86Z" fill="#c41010" stroke="#550000" stroke-width="0.35"/>
<path d="M660.76,727.67 L661.32,729.18 L662.94,729.26 L661.67,730.26 L662.11,731.82 L660.76,730.93 L659.41,731.82 L659.84,730.26 L658.57,729.26 L660.19,729.18Z" fill="#c41010" stroke="#550000" stroke-width="0.35"/>
<path d="M667.60,717.76 L668.17,719.28 L669.78,719.35 L668.52,720.35 L668.95,721.91 L667.60,721.02 L666.25,721.91 L666.68,720.35 L665.42,719.35 L667.03,719.28Z" fill="#c41010" stroke="#550000" stroke-width="0.35"/>
<path d="M395.54,671.39 L399.11,671.39 L397.32,674.49Z" fill="#d01010" stroke="#550000" stroke-width="0.35"/>
<path d="M398.96,745.24 L402.53,745.24 L400.74,748.33Z" fill="#d01010" stroke="#550000" stroke-width="0.35"/>
<path d="M402.38,761.22 L405.95,761.22 L404.16,764.31Z" fill="#d01010" stroke="#550000" stroke-width="0.35"/>
<path d="M405.80,765.06 L409.37,765.06 L407.58,768.15Z" fill="#d01010" stroke="#550000" stroke-width="0.35"/>
<path d="M409.22,767.29 L412.79,767.29 L411.01,770.39Z" fill="#d01010" stroke="#550000" stroke-width="0.35"/>
<path d="M412.64,768.25 L416.21,768.25 L414.43,771.34Z" fill="#d01010" stroke="#550000" stroke-width="0.35"/>
<path d="M416.06,768.77 L419.63,768.77 L417.85,771.86Z" fill="#d01010" stroke="#550000" stroke-width="0.35"/>
<path d="M419.48,769.21 L423.06,769.21 L421.27,772.30Z" fill="#d01010" stroke="#550000" stroke-width="0.35"/>
<path d="M422.91,769.50 L426.48,769.50 L424.69,772.59Z" fill="#d01010" stroke="#550000" stroke-width="0.35"/>
<path d="M426.33,769.75 L429.90,769.75 L428.11,772.84Z" fill="#d01010" stroke="#550000" stroke-width="0.35"/>
<path d="M429.75,769.97 L433.32,769.97 L431.53,773.06Z" fill="#d01010" stroke="#550000" stroke-width="0.35"/>
<path d="M433.17,770.17 L436.74,770.17 L434.95,773.26Z" fill="#d01010" stroke="#550000" stroke-width="0.35"/>
<path d="M436.59,770.27 L440.16,770.27 L438.38,773.36Z" fill="#d01010" stroke="#550000" stroke-width="0.35"/>
<path d="M440.01,770.36 L443.58,770.36 L441.80,773.45Z" fill="#d01010" stroke="#550000" stroke-width="0.35"/>
<path d="M443.43,770.45 L447.00,770.45 L445.22,773.54Z" fill="#d01010" stroke="#550000" stroke-width="0.35"/>
<path d="M446.85,770.53 L450.43,770.53 L448.64,773.62Z" fill="#d01010" stroke="#550000" stroke-width="0.35"/>
<path d="M450.28,770.61 L453.85,770.61 L452.06,773.70Z" fill="#d01010" stroke="#550000" stroke-width="0.35"/>
<path d="M453.70,770.68 L457.27,770.68 L455.48,773.77Z" fill="#d01010" stroke="#550000" stroke-width="0.35"/>
<path d="M457.12,770.75 L460.69,770.75 L458.90,773.84Z" fill="#d01010" stroke="#550000" stroke-width="0.35"/>
<path d="M460.54,770.81 L464.11,770.81 L462.32,773.90Z" fill="#d01010" stroke="#550000" stroke-width="0.35"/>
<path d="M463.96,770.84 L467.53,770.84 L465.75,773.93Z" fill="#d01010" stroke="#550000" stroke-width="0.35"/>
<path d="M467.38,770.87 L470.95,770.87 L469.17,773.97Z" fill="#d01010" stroke="#550000" stroke-width="0.35"/>
<path d="M470.80,770.91 L474.37,770.91 L472.59,774.00Z" fill="#d01010" stroke="#550000" stroke-width="0.35"/>
<path d="M474.22,770.93 L477.80,770.93 L476.01,774.03Z" fill="#d01010" stroke="#550000" stroke-width="0.35"/>
<path d="M477.65,770.96 L481.22,770.96 L479.43,774.05Z" fill="#d01010" stroke="#550000" stroke-width="0.35"/>
<path d="M481.07,770.99 L484.64,770.99 L482.85,774.08Z" fill="#d01010" stroke="#550000" stroke-width="0.35"/>
<path d="M484.49,771.02 L488.06,771.02 L486.27,774.11Z" fill="#d01010" stroke="#550000" stroke-width="0.35"/>
<path d="M487.91,771.04 L491.48,771.04 L489.69,774.13Z" fill="#d01010" stroke="#550000" stroke-width="0.35"/>
<path d="M491.33,771.07 L494.90,771.07 L493.12,774.16Z" fill="#d01010" stroke="#550000" stroke-width="0.35"/>
<path d="M494.75,771.09 L498.32,771.09 L496.54,774.18Z" fill="#d01010" stroke="#550000" stroke-width="0.35"/>
<path d="M498.17,771.11 L501.74,771.11 L499.96,774.21Z" fill="#d01010" stroke="#550000" stroke-width="0.35"/>
<path d="M501.59,771.14 L505.17,771.14 L503.38,774.23Z" fill="#d01010" stroke="#550000" stroke-width="0.35"/>
<path d="M505.02,771.16 L508.59,771.16 L506.80,774.25Z" fill="#d01010" stroke="#550000" stroke-width="0.35"/>
<path d="M508.44,771.18 L512.01,771.18 L510.22,774.27Z" fill="#d01010" stroke="#550000" stroke-width="0.35"/>
<path d="M511.86,771.20 L515.43,771.20 L513.64,774.29Z" fill="#d01010" stroke="#550000" stroke-width="0.35"/>
<path d="M515.28,771.22 L518.85,771.22 L517.07,774.31Z" fill="#d01010" stroke="#550000" stroke-width="0.35"/>
<path d="M518.70,771.24 L522.27,771.24 L520.49,774.33Z" fill="#d01010" stroke="#550000" stroke-width="0.35"/>
<path d="M522.12,771.26 L525.69,771.26 L523.91,774.35Z" fill="#d01010" stroke="#550000" stroke-width="0.35"/>
<path d="M525.54,771.27 L529.11,771.27 L527.33,774.36Z" fill="#d01010" stroke="#550000" stroke-width="0.35"/>
<path d="M528.97,771.29 L532.53,771.29 L530.75,774.38Z" fill="#d01010" stroke="#550000" stroke-width="0.35"/>
<path d="M532.39,771.29 L535.96,771.29 L534.17,774.38Z" fill="#d01010" stroke="#550000" stroke-width="0.35"/>
<path d="M535.81,771.29 L539.38,771.29 L537.59,774.38Z" fill="#d01010" stroke="#550000" stroke-width="0.35"/>
<path d="M539.23,771.29 L542.80,771.29 L541.01,774.38Z" fill="#d01010" stroke="#550000" stroke-width="0.35"/>
<path d="M542.65,771.29 L546.22,771.29 L544.43,774.38Z" fill="#d01010" stroke="#550000" stroke-width="0.35"/>
<path d="M546.07,771.29 L549.64,771.29 L547.86,774.38Z" fill="#d01010" stroke="#550000" stroke-width="0.35"/>
<path d="M549.49,771.29 L553.06,771.29 L551.28,774.38Z" fill="#d01010" stroke="#550000" stroke-width="0.35"/>
<path d="M552.91,771.29 L556.48,771.29 L554.70,774.38Z" fill="#d01010" stroke="#550000" stroke-width="0.35"/>
<path d="M556.34,771.29 L559.90,771.29 L558.12,774.38Z" fill="#d01010" stroke="#550000" stroke-width="0.35"/>
<path d="M559.76,771.29 L563.33,771.29 L561.54,774.38Z" fill="#d01010" stroke="#550000" stroke-width="0.35"/>
<path d="M563.18,771.29 L566.75,771.29 L564.96,774.38Z" fill="#d01010" stroke="#550000" stroke-width="0.35"/>
<path d="M566.60,771.29 L570.17,771.29 L568.38,774.38Z" fill="#d01010" stroke="#550000" stroke-width="0.35"/>
<path d="M570.02,771.29 L573.59,771.29 L571.81,774.38Z" fill="#d01010" stroke="#550000" stroke-width="0.35"/>
<path d="M573.44,771.29 L577.01,771.29 L575.23,774.38Z" fill="#d01010" stroke="#550000" stroke-width="0.35"/>
<path d="M576.86,771.29 L580.43,771.29 L578.65,774.38Z" fill="#d01010" stroke="#550000" stroke-width="0.35"/>
<path d="M580.28,771.29 L583.85,771.29 L582.07,774.38Z" fill="#d01010" stroke="#550000" stroke-width="0.35"/>
<path d="M583.71,771.29 L587.27,771.29 L585.49,774.38Z" fill="#d01010" stroke="#550000" stroke-width="0.35"/>
<path d="M587.13,771.29 L590.70,771.29 L588.91,774.38Z" fill="#d01010" stroke="#550000" stroke-width="0.35"/>
<path d="M590.55,771.29 L594.12,771.29 L592.33,774.38Z" fill="#d01010" stroke="#550000" stroke-width="0.35"/>
<path d="M593.97,771.29 L597.54,771.29 L595.75,774.38Z" fill="#d01010" stroke="#550000" stroke-width="0.35"/>
<path d="M597.39,771.29 L600.96,771.29 L599.17,774.38Z" fill="#d01010" stroke="#550000" stroke-width="0.35"/>
<path d="M600.81,771.25 L604.38,771.25 L602.60,774.34Z" fill="#d01010" stroke="#550000" stroke-width="0.35"/>
<path d="M604.23,771.20 L607.80,771.20 L606.02,774.29Z" fill="#d01010" stroke="#550000" stroke-width="0.35"/>
<path d="M607.65,771.15 L611.22,771.15 L609.44,774.24Z" fill="#d01010" stroke="#550000" stroke-width="0.35"/>
<path d="M611.08,771.10 L614.64,771.10 L612.86,774.19Z" fill="#d01010" stroke="#550000" stroke-width="0.35"/>
<path d="M614.50,771.04 L618.07,771.04 L616.28,774.13Z" fill="#d01010" stroke="#550000" stroke-width="0.35"/>
<path d="M617.92,770.97 L621.49,770.97 L619.70,774.06Z" fill="#d01010" stroke="#550000" stroke-width="0.35"/>
<path d="M621.34,770.64 L624.91,770.64 L623.12,773.73Z" fill="#d01010" stroke="#550000" stroke-width="0.35"/>
<path d="M624.76,770.17 L628.33,770.17 L626.55,773.26Z" fill="#d01010" stroke="#550000" stroke-width="0.35"/>
<path d="M628.18,769.75 L631.75,769.75 L629.97,772.84Z" fill="#d01010" stroke="#550000" stroke-width="0.35"/>
<path d="M631.60,769.21 L635.17,769.21 L633.39,772.30Z" fill="#d01010" stroke="#550000" stroke-width="0.35"/>
<path d="M635.02,768.25 L638.59,768.25 L636.81,771.34Z" fill="#d01010" stroke="#550000" stroke-width="0.35"/>
<path d="M638.45,767.29 L642.01,767.29 L640.23,770.39Z" fill="#d01010" stroke="#550000" stroke-width="0.35"/>
<path d="M641.87,766.34 L645.44,766.34 L643.65,769.43Z" fill="#d01010" stroke="#550000" stroke-width="0.35"/>
<path d="M645.29,764.74 L648.86,764.74 L647.07,767.83Z" fill="#d01010" stroke="#550000" stroke-width="0.35"/>
<path d="M648.71,763.14 L652.28,763.14 L650.49,766.23Z" fill="#d01010" stroke="#550000" stroke-width="0.35"/>
<path d="M652.13,761.22 L655.70,761.22 L653.91,764.31Z" fill="#d01010" stroke="#550000" stroke-width="0.35"/>
<path d="M655.55,758.66 L659.12,758.66 L657.34,761.75Z" fill="#d01010" stroke="#550000" stroke-width="0.35"/>
<path d="M658.97,755.79 L662.54,755.79 L660.76,758.88Z" fill="#d01010" stroke="#550000" stroke-width="0.35"/>
<path d="M662.39,751.31 L665.96,751.31 L664.18,754.40Z" fill="#d01010" stroke="#550000" stroke-width="0.35"/>
<path d="M665.82,745.56 L669.38,745.56 L667.60,748.65Z" fill="#d01010" stroke="#550000" stroke-width="0.35"/>
</g>
<rect x="571.7" y="608" width="69" height="55.4" fill="#fff" stroke="#111" stroke-width="1"/>
<path d="M582.90,620.17 L590.30,620.17 L586.60,626.57Z" fill="#ff0000" stroke="none" stroke-width="0"/>
<path d="M586.60,639.50 L587.69,642.40 L590.79,642.54 L588.36,644.47 L589.19,647.46 L586.60,645.75 L584.01,647.46 L584.84,644.47 L582.41,642.54 L585.51,642.40Z" fill="#ff0000" stroke="none" stroke-width="0"/>
<text x="597.20" y="627.50" font-family="Liberation Sans" font-size="12.2" text-anchor="start" >25m</text>
<text x="597.20" y="648.00" font-family="Liberation Sans" font-size="12.2" text-anchor="start" >50m</text>
</svg>
</body></html>
